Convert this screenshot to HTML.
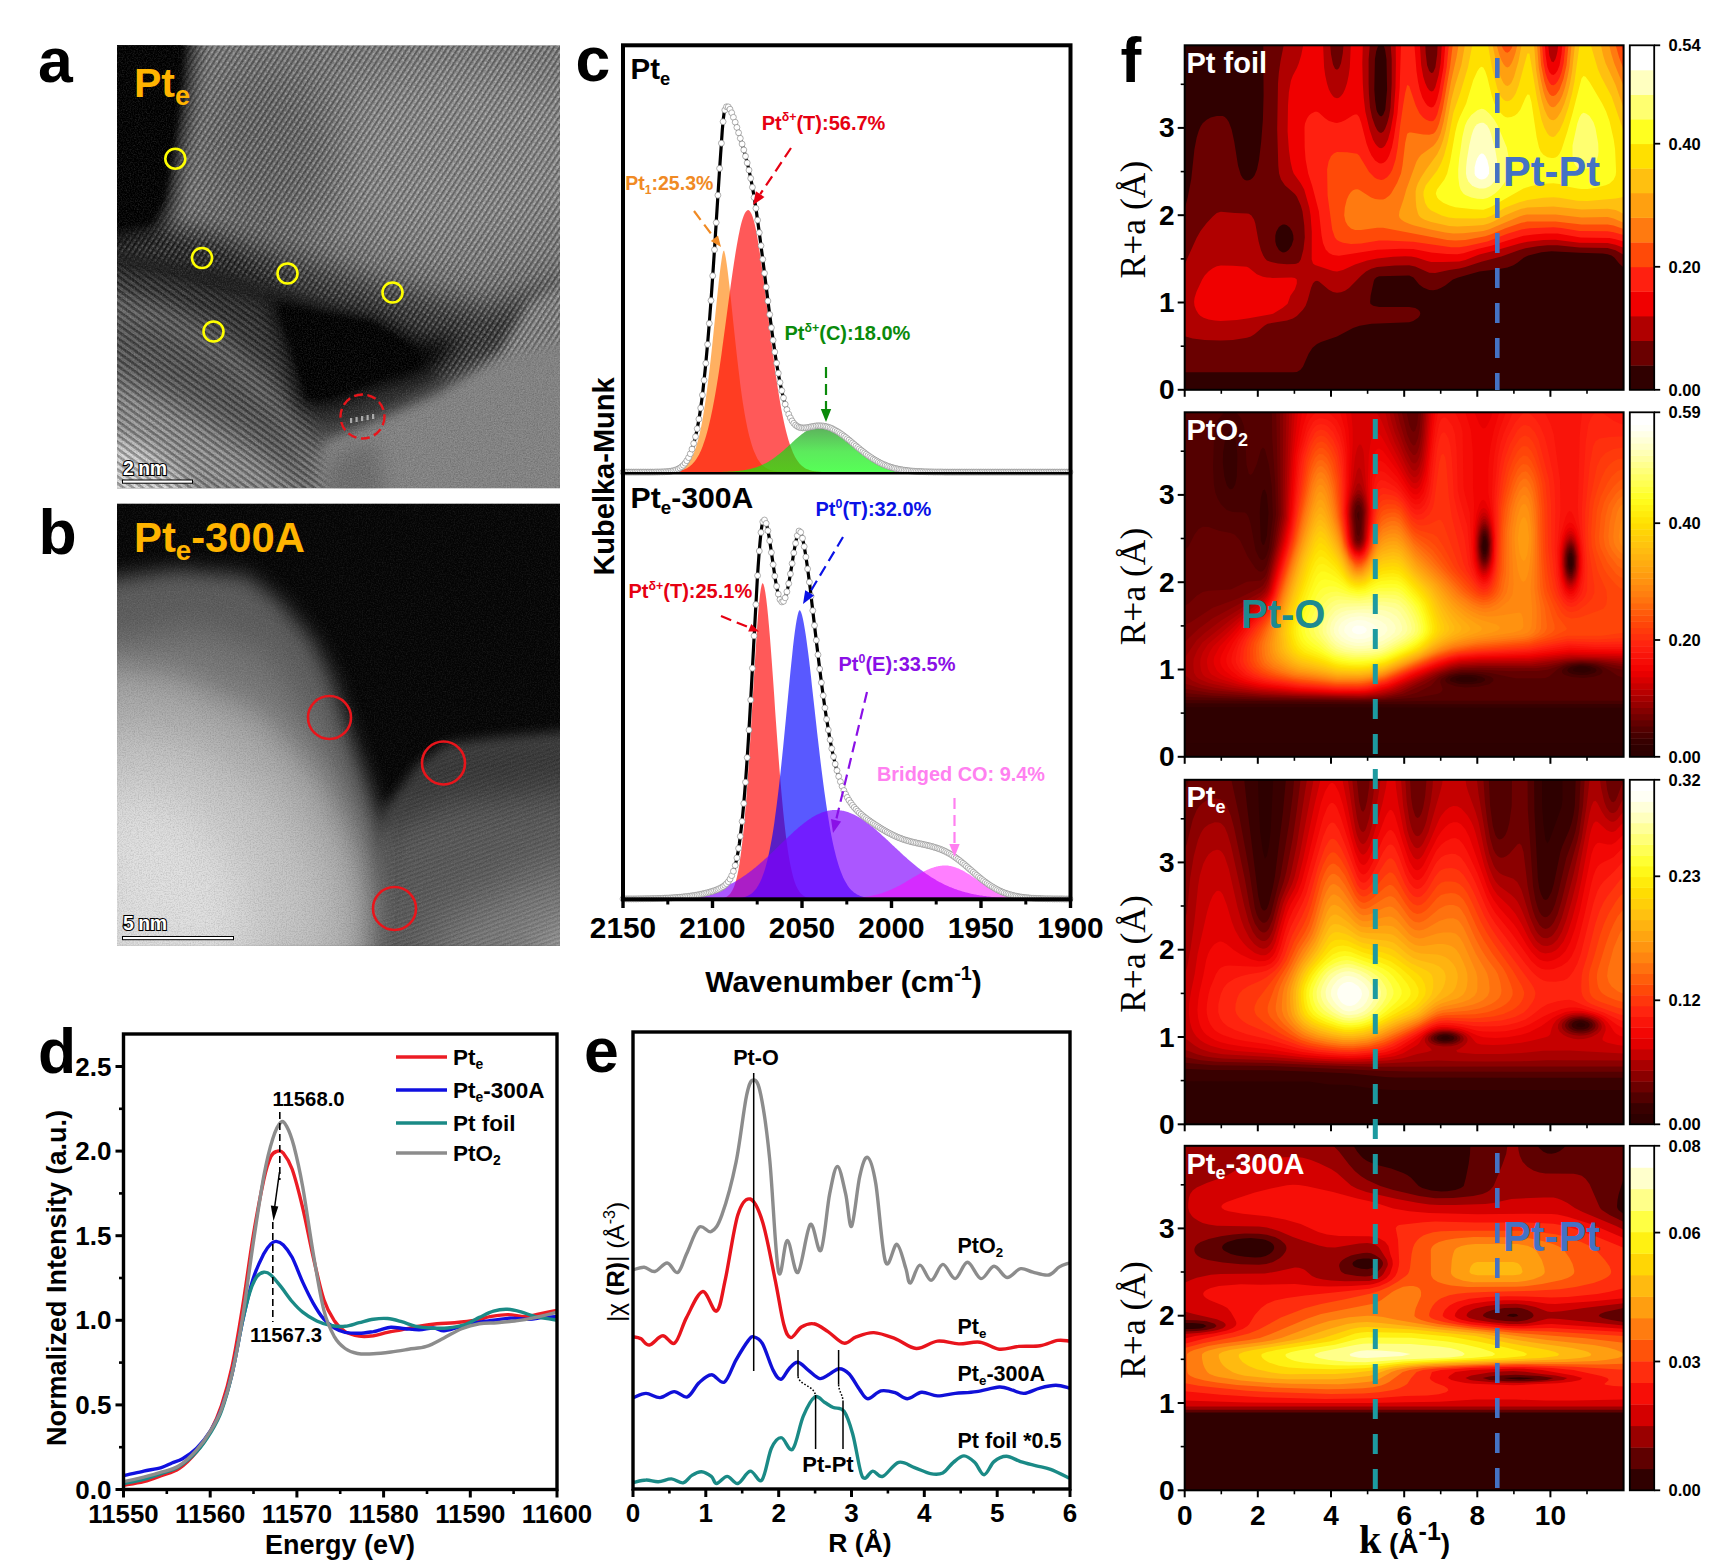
<!DOCTYPE html>
<html><head><meta charset="utf-8"><title>figure</title>
<style>html,body{margin:0;padding:0;background:#fff;}svg{display:block}</style></head>
<body><svg font-family="Liberation Sans, sans-serif" width="1709" height="1562" viewBox="0 0 1709 1562">
<rect width="1709" height="1562" fill="#fff"/>
<defs>
<filter id="b3" x="-20%" y="-20%" width="140%" height="140%"><feGaussianBlur stdDeviation="3"/></filter>
<filter id="b6" x="-20%" y="-20%" width="140%" height="140%"><feGaussianBlur stdDeviation="6"/></filter>
<filter id="b10" x="-30%" y="-30%" width="160%" height="160%"><feGaussianBlur stdDeviation="10"/></filter>
<filter id="b16" x="-40%" y="-40%" width="180%" height="180%"><feGaussianBlur stdDeviation="16"/></filter>
<filter id="b25" x="-50%" y="-50%" width="200%" height="200%"><feGaussianBlur stdDeviation="25"/></filter>
<filter id="noiseW" x="0" y="0" width="100%" height="100%"><feTurbulence type="fractalNoise" baseFrequency="0.75" numOctaves="2" seed="3"/><feColorMatrix type="matrix" values="0 0 0 0 1  0 0 0 0 1  0 0 0 0 1  1.6 0 0 0 -0.62"/></filter>
<filter id="noiseK" x="0" y="0" width="100%" height="100%"><feTurbulence type="fractalNoise" baseFrequency="0.75" numOctaves="2" seed="11"/><feColorMatrix type="matrix" values="0 0 0 0 0  0 0 0 0 0  0 0 0 0 0  1.6 0 0 0 -0.62"/></filter>
<pattern id="latA" width="4.7" height="4.7" patternUnits="userSpaceOnUse" patternTransform="rotate(-57)"><rect width="4.7" height="2.2" fill="#000" fill-opacity="0.26"/><rect y="2.2" width="4.7" height="2.5" fill="#fff" fill-opacity="0.10"/></pattern>
<pattern id="dotA" width="5.4" height="4.7" patternUnits="userSpaceOnUse" patternTransform="rotate(-57)"><circle cx="2.7" cy="3.45" r="1.2" fill="#fff" fill-opacity="0.22"/></pattern>
<pattern id="latA2" width="5.6" height="5.6" patternUnits="userSpaceOnUse" patternTransform="rotate(36)"><rect width="5.6" height="2.6" fill="#000" fill-opacity="0.30"/><rect y="2.6" width="5.6" height="3" fill="#fff" fill-opacity="0.10"/></pattern>
<pattern id="latB" width="4.2" height="4.2" patternUnits="userSpaceOnUse" patternTransform="rotate(-20)"><rect width="4.2" height="2" fill="#000" fill-opacity="0.12"/></pattern>
<mask id="mA1" maskUnits="userSpaceOnUse" x="0" y="0" width="443" height="443"><path d="M50 -20L470 -20L470 290L400 310L330 335L250 280L190 250L100 225L-10 205L40 150Z" fill="#fff" filter="url(#b6)"/></mask>
<mask id="mA2" maskUnits="userSpaceOnUse" x="0" y="0" width="443" height="443"><path d="M-20 215L80 240L150 262L185 330L200 385L210 470L-20 470Z" fill="#fff" filter="url(#b6)"/></mask>
<mask id="mB1" maskUnits="userSpaceOnUse" x="0" y="0" width="443" height="443"><path d="M275 310L305 268L335 248L470 238L470 470L255 470L265 380Z" fill="#fff" filter="url(#b6)"/></mask>
<clipPath id="clipA"><rect x="0" y="0" width="443" height="443"/></clipPath>
<clipPath id="clipB"><rect x="0" y="0" width="443" height="442.3"/></clipPath>
</defs>
<g transform="translate(117,45.2)"><g clip-path="url(#clipA)">
<rect width="443" height="443" fill="#7c7c7c"/>
<ellipse cx="340" cy="110" rx="150" ry="95" fill="#8e8e8e" filter="url(#b25)"/>
<ellipse cx="150" cy="110" rx="70" ry="90" fill="#666" filter="url(#b25)"/>
<path d="M-20 185L60 180L140 200L260 238L370 262L460 235L460 300L390 318L330 345L260 385L195 400L150 335L100 290L40 262L-20 250Z" fill="#2e2e2e" filter="url(#b16)"/>
<path d="M-20 190L50 190L110 205L160 235L160 265L100 250L40 232L-20 225Z" fill="#1a1a1a" filter="url(#b10)"/>
<path d="M-20 262L50 275L115 315L165 370L205 460L-20 460Z" fill="#555" filter="url(#b10)"/>
<path d="M-20 325L60 360L130 400L214 460L-20 460Z" fill="#9a9a9a" filter="url(#b16)"/>
<path d="M-20 385L40 410L85 460L-20 460Z" fill="#dcdcdc" filter="url(#b10)"/>
<path d="M196 460L208 398L255 378L322 350L382 308L412 256L460 228L460 460Z" fill="#858585" filter="url(#b6)"/>
<path d="M205 460L215 410L260 395L270 460Z" fill="#6e6e6e" filter="url(#b10)"/>
<rect width="443" height="443" fill="url(#latA)" mask="url(#mA1)"/>
<rect width="443" height="443" fill="url(#dotA)" mask="url(#mA1)"/>
<rect width="443" height="443" fill="url(#latA2)" mask="url(#mA2)"/>
<path d="M150 248L200 262L258 272L305 296L345 292L310 330L255 345L212 362L185 362L172 315Z" fill="#000" filter="url(#b10)"/>
<path d="M160 258L200 267L255 277L296 302L304 320L255 337L212 352L190 354L178 312Z" fill="#000" filter="url(#b3)"/>
<path d="M-20 -20L78 -20L70 60L62 110L54 160L40 188L-20 198Z" fill="#000" filter="url(#b10)"/>
<path d="M-20 -20L68 -20L62 60L55 110L47 155L34 178L-20 185Z" fill="#000" filter="url(#b3)"/>
<rect width="443" height="443" filter="url(#noiseW)" opacity="0.16"/>
<rect width="443" height="443" filter="url(#noiseK)" opacity="0.22"/>
</g></g>
<circle cx="175.3" cy="158.7" r="10" fill="none" stroke="#ffff00" stroke-width="2.6"/>
<circle cx="202" cy="258" r="10" fill="none" stroke="#ffff00" stroke-width="2.6"/>
<circle cx="287.5" cy="273.5" r="10" fill="none" stroke="#ffff00" stroke-width="2.6"/>
<circle cx="392.5" cy="292.5" r="10" fill="none" stroke="#ffff00" stroke-width="2.6"/>
<circle cx="213.5" cy="331.5" r="10" fill="none" stroke="#ffff00" stroke-width="2.6"/>
<circle cx="362.5" cy="416.5" r="22" fill="none" stroke="#e8151b" stroke-width="2.4" stroke-dasharray="9 4.5"/>
<rect x="350.0" y="418.0" width="2.2" height="5" fill="#ccc" opacity="0.75"/>
<rect x="355.5" y="417.0" width="2.2" height="5" fill="#ccc" opacity="0.75"/>
<rect x="361.0" y="416.0" width="2.2" height="5" fill="#ccc" opacity="0.75"/>
<rect x="366.5" y="415.0" width="2.2" height="5" fill="#ccc" opacity="0.75"/>
<rect x="372.0" y="414.0" width="2.2" height="5" fill="#ccc" opacity="0.75"/>
<text x="123" y="474.5" font-family="Liberation Sans" font-size="19.5" font-weight="bold" fill="#fff" text-anchor="start" stroke="#000" stroke-width="2.2" paint-order="stroke" letter-spacing="-0.5">2 nm</text>
<rect x="122.5" y="480" width="70" height="3.2" fill="#fff" stroke="#000" stroke-width="1"/>
<text x="134" y="96.5" font-family="Liberation Sans" font-size="41" font-weight="bold" fill="#ffb400" text-anchor="start" ><tspan font-size="41" dy="0">Pt</tspan><tspan font-size="27.1" dy="8.2">e</tspan></text>
<text x="38" y="82.1" font-family="Liberation Sans" font-size="62.5" font-weight="bold" fill="#000" text-anchor="start" >a</text>
<g transform="translate(117,503.4)"><g clip-path="url(#clipB)">
<rect width="443" height="443" fill="#050505"/>
<path d="M268 305L300 262L330 240L380 234L470 226L470 470L240 470L255 380Z" fill="#3c3c3c" filter="url(#b6)"/>
<path d="M262 330L330 300L470 285L470 470L240 470Z" fill="#5e5e5e" filter="url(#b16)"/>
<path d="M330 420L470 350L470 470L300 470Z" fill="#868686" filter="url(#b25)"/>
<path d="M400 470L470 400L470 470Z" fill="#a8a8a8" filter="url(#b16)"/>
<rect width="443" height="443" fill="url(#latB)" mask="url(#mB1)"/>
<path d="M-30 78L60 66L130 72L162 97L196 137L216 177L233 232L251 282L263 322L263 382L250 470L-30 470Z" fill="#5c5c5c" filter="url(#b10)"/>
<path d="M-30 140L80 125L150 150L195 210L225 280L245 340L245 470L-30 470Z" fill="#767676" filter="url(#b16)"/>
<path d="M-30 160L60 172L145 210L205 275L240 345L252 400L247 470L-30 470Z" fill="#a4a4a4" filter="url(#b16)"/>
<path d="M-30 215L80 232L165 290L212 370L222 470L-30 470Z" fill="#c6c6c6" filter="url(#b25)"/>
<path d="M-30 280L70 300L125 370L135 470L-30 470Z" fill="#e0e0e0" filter="url(#b25)"/>
<rect width="443" height="443" filter="url(#noiseW)" opacity="0.10"/>
<rect width="443" height="443" filter="url(#noiseK)" opacity="0.16"/>
</g></g>
<circle cx="329.5" cy="717.5" r="21.5" fill="none" stroke="#e8151b" stroke-width="2.6"/>
<circle cx="443.5" cy="763" r="21.5" fill="none" stroke="#e8151b" stroke-width="2.6"/>
<circle cx="394.5" cy="908.5" r="21.5" fill="none" stroke="#e8151b" stroke-width="2.6"/>
<text x="123" y="930" font-family="Liberation Sans" font-size="19.5" font-weight="bold" fill="#fff" text-anchor="start" stroke="#000" stroke-width="2.2" paint-order="stroke" letter-spacing="-0.5">5 nm</text>
<rect x="122.5" y="936.5" width="111" height="3.2" fill="#fff" stroke="#000" stroke-width="1"/>
<text x="134" y="551.8" font-family="Liberation Sans" font-size="41.8" font-weight="bold" fill="#ffb400" text-anchor="start" ><tspan font-size="41.8" dy="0">Pt</tspan><tspan font-size="27.6" dy="8.4">e</tspan><tspan font-size="41.8" dy="-8.4">-300A</tspan></text>
<text x="38.5" y="553.7" font-family="Liberation Sans" font-size="62.5" font-weight="bold" fill="#000" text-anchor="start" >b</text>
<defs><g id="dc"><circle r="2.95" fill="#fff" stroke="#858585" stroke-width="0.65"/></g><linearGradient id="gGreen" x1="0" y1="0" x2="0" y2="1" gradientUnits="objectBoundingBox"><stop offset="0" stop-color="#118811" stop-opacity="0.68"/><stop offset="0.55" stop-color="#10e010" stop-opacity="0.68"/><stop offset="1" stop-color="#00ff00" stop-opacity="0.66"/></linearGradient></defs>
<path d="M665.1 472.1L665.1 471.9L666 471.8L666.9 471.8L667.8 471.8L668.6 471.7L669.5 471.6L670.4 471.5L671.3 471.4L672.2 471.3L673.1 471.2L674 471.1L674.9 470.9L675.8 470.7L676.7 470.5L677.6 470.2L678.5 470L679.4 469.6L680.3 469.3L681.2 468.8L682.1 468.4L683 467.8L683.9 467.2L684.8 466.5L685.6 465.8L686.5 464.9L687.4 463.9L688.3 462.8L689.2 461.6L690.1 460.2L691 458.7L691.9 457.1L692.8 455.2L693.7 453.2L694.6 450.9L695.5 448.4L696.4 445.7L697.3 442.7L698.2 439.5L699.1 435.9L700 432.1L700.9 427.9L701.8 423.4L702.7 418.6L703.5 413.4L704.4 407.9L705.3 402L706.2 395.8L707.1 389.1L708 382.1L708.9 374.8L709.8 367.2L710.7 359.2L711.6 351L712.5 342.5L713.4 333.8L714.3 325L715.2 316.1L716.1 307.3L717 298.5L717.9 289.9L718.8 281.6L719.7 273.8L720.6 266.6L721.5 260.2L722.3 254.9L723.2 251.2L724.1 250.6L725 253.8L725.9 258.6L726.8 264.6L727.7 271.3L728.6 278.7L729.5 286.6L730.4 294.8L731.3 303.2L732.2 311.8L733.1 320.4L734 329L734.9 337.5L735.8 345.8L736.7 353.9L737.6 361.8L738.5 369.5L739.4 376.8L740.2 383.8L741.1 390.5L742 396.9L742.9 402.9L743.8 408.5L744.7 413.9L745.6 418.9L746.5 423.5L747.4 427.9L748.3 431.9L749.2 435.7L750.1 439.1L751 442.3L751.9 445.2L752.8 447.9L753.7 450.4L754.6 452.6L755.5 454.6L756.4 456.5L757.2 458.2L758.1 459.7L759 461.1L759.9 462.3L760.8 463.4L761.7 464.4L762.6 465.3L763.5 466.1L764.4 466.8L765.3 467.5L766.2 468L767.1 468.5L768 469L768.9 469.4L769.8 469.7L770.7 470L771.6 470.3L772.5 470.5L773.4 470.7L774.3 470.9L775.1 471.1L776 471.2L776.9 471.3L777.8 471.4L778.7 471.5L779.6 471.6L780.5 471.7L781.4 471.7L782.3 471.8L783.2 471.8L784.1 471.9L784.1 472.1Z" fill="#ff8000" fill-opacity="0.62"/>
<path d="M668.6 472.1L668.6 471.9L669.5 471.8L670.4 471.8L671.3 471.7L672.2 471.7L673.1 471.6L674 471.5L674.9 471.5L675.8 471.4L676.7 471.2L677.6 471.1L678.5 471L679.4 470.8L680.3 470.6L681.2 470.4L682.1 470.1L683 469.9L683.9 469.5L684.8 469.2L685.6 468.8L686.5 468.4L687.4 467.9L688.3 467.3L689.2 466.7L690.1 466.1L691 465.3L691.9 464.5L692.8 463.6L693.7 462.6L694.6 461.5L695.5 460.3L696.4 459L697.3 457.6L698.2 456.1L699.1 454.4L700 452.6L700.9 450.7L701.8 448.5L702.7 446.3L703.5 443.8L704.4 441.2L705.3 438.4L706.2 435.4L707.1 432.2L708 428.9L708.9 425.3L709.8 421.5L710.7 417.5L711.6 413.3L712.5 408.9L713.4 404.3L714.3 399.5L715.2 394.4L716.1 389.2L717 383.8L717.9 378.2L718.8 372.4L719.7 366.4L720.6 360.3L721.5 354L722.3 347.7L723.2 341.2L724.1 334.6L725 328L725.9 321.3L726.8 314.5L727.7 307.8L728.6 301.1L729.5 294.4L730.4 287.8L731.3 281.3L732.2 275L733.1 268.7L734 262.7L734.9 256.9L735.8 251.3L736.7 245.9L737.6 240.9L738.5 236.1L739.4 231.7L740.2 227.7L741.1 224L742 220.8L742.9 217.9L743.8 215.5L744.7 213.5L745.6 211.9L746.5 210.9L747.4 210.3L748.3 210.1L749.2 210.5L750.1 211.4L751 212.9L751.9 214.8L752.8 217.3L753.7 220.3L754.6 223.8L755.5 227.7L756.4 232L757.2 236.8L758.1 241.9L759 247.4L759.9 253.3L760.8 259.4L761.7 265.7L762.6 272.3L763.5 279.1L764.4 286L765.3 293.1L766.2 300.2L767.1 307.4L768 314.6L768.9 321.8L769.8 329L770.7 336.1L771.6 343.2L772.5 350.1L773.4 356.9L774.3 363.5L775.1 370L776 376.3L776.9 382.3L777.8 388.2L778.7 393.8L779.6 399.3L780.5 404.4L781.4 409.4L782.3 414.1L783.2 418.5L784.1 422.8L785 426.7L785.9 430.5L786.8 434L787.7 437.3L788.6 440.4L789.5 443.2L790.4 445.9L791.3 448.3L792.2 450.6L793 452.7L793.9 454.6L794.8 456.4L795.7 458L796.6 459.5L797.5 460.8L798.4 462.1L799.3 463.2L800.2 464.2L801.1 465.1L802 465.9L802.9 466.6L803.8 467.3L804.7 467.9L805.6 468.4L806.5 468.9L807.4 469.3L808.3 469.6L809.2 470L810.1 470.2L811 470.5L811.8 470.7L812.7 470.9L813.6 471.1L814.5 471.2L815.4 471.3L816.3 471.4L817.2 471.5L818.1 471.6L819 471.7L819.9 471.8L820.8 471.8L821.7 471.9L822.6 471.9L822.6 472.1Z" fill="#ff0000" fill-opacity="0.65"/>
<path d="M720.6 472.1L720.6 471.9L721.5 471.9L722.3 471.9L723.2 471.8L724.1 471.8L725 471.8L725.9 471.7L726.8 471.7L727.7 471.7L728.6 471.6L729.5 471.6L730.4 471.5L731.3 471.5L732.2 471.4L733.1 471.4L734 471.3L734.9 471.2L735.8 471.2L736.7 471.1L737.6 471L738.5 470.9L739.4 470.8L740.2 470.7L741.1 470.6L742 470.5L742.9 470.4L743.8 470.2L744.7 470.1L745.6 469.9L746.5 469.8L747.4 469.6L748.3 469.4L749.2 469.2L750.1 469L751 468.8L751.9 468.6L752.8 468.3L753.7 468.1L754.6 467.8L755.5 467.5L756.4 467.2L757.2 466.9L758.1 466.6L759 466.2L759.9 465.9L760.8 465.5L761.7 465.1L762.6 464.7L763.5 464.3L764.4 463.8L765.3 463.4L766.2 462.9L767.1 462.4L768 461.9L768.9 461.4L769.8 460.8L770.7 460.3L771.6 459.7L772.5 459.1L773.4 458.5L774.3 457.8L775.1 457.2L776 456.5L776.9 455.8L777.8 455.1L778.7 454.4L779.6 453.7L780.5 452.9L781.4 452.2L782.3 451.4L783.2 450.7L784.1 449.9L785 449.1L785.9 448.3L786.8 447.5L787.7 446.7L788.6 445.8L789.5 445L790.4 444.2L791.3 443.4L792.2 442.6L793 441.7L793.9 440.9L794.8 440.1L795.7 439.3L796.6 438.5L797.5 437.8L798.4 437L799.3 436.2L800.2 435.5L801.1 434.8L802 434.1L802.9 433.4L803.8 432.7L804.7 432.1L805.6 431.5L806.5 430.9L807.4 430.4L808.3 429.8L809.2 429.3L810.1 428.9L811 428.4L811.8 428L812.7 427.7L813.6 427.4L814.5 427.1L815.4 426.8L816.3 426.6L817.2 426.4L818.1 426.3L819 426.2L819.9 426.1L820.8 426.1L821.7 426.1L822.6 426.2L823.5 426.3L824.4 426.4L825.3 426.5L826.2 426.7L827.1 426.9L828 427.2L828.9 427.4L829.7 427.7L830.6 428.1L831.5 428.5L832.4 428.9L833.3 429.3L834.2 429.7L835.1 430.2L836 430.7L836.9 431.2L837.8 431.8L838.7 432.4L839.6 432.9L840.5 433.6L841.4 434.2L842.3 434.8L843.2 435.5L844.1 436.2L845 436.9L845.9 437.6L846.8 438.3L847.6 439L848.5 439.7L849.4 440.5L850.3 441.2L851.2 441.9L852.1 442.7L853 443.4L853.9 444.2L854.8 445L855.7 445.7L856.6 446.5L857.5 447.2L858.4 447.9L859.3 448.7L860.2 449.4L861.1 450.1L862 450.9L862.9 451.6L863.8 452.3L864.6 453L865.5 453.6L866.4 454.3L867.3 455L868.2 455.6L869.1 456.2L870 456.9L870.9 457.5L871.8 458.1L872.7 458.6L873.6 459.2L874.5 459.7L875.4 460.3L876.3 460.8L877.2 461.3L878.1 461.8L879 462.3L879.9 462.7L880.8 463.2L881.7 463.6L882.5 464L883.4 464.4L884.3 464.8L885.2 465.2L886.1 465.5L887 465.9L887.9 466.2L888.8 466.5L889.7 466.8L890.6 467.1L891.5 467.4L892.4 467.7L893.3 467.9L894.2 468.2L895.1 468.4L896 468.6L896.9 468.8L897.8 469L898.7 469.2L899.6 469.4L900.5 469.6L901.3 469.7L902.2 469.9L903.1 470L904 470.1L904.9 470.3L905.8 470.4L906.7 470.5L907.6 470.6L908.5 470.7L909.4 470.8L910.3 470.9L911.2 471L912.1 471.1L913 471.1L913.9 471.2L914.8 471.3L915.7 471.3L916.6 471.4L917.5 471.5L918.4 471.5L919.2 471.5L920.1 471.6L921 471.6L921.9 471.7L922.8 471.7L923.7 471.7L924.6 471.8L925.5 471.8L926.4 471.8L927.3 471.8L928.2 471.9L929.1 471.9L930 471.9L930 472.1Z" fill="url(#gGreen)"/>
<path d="M623 472.1L623.9 472.1L624.8 472.1L625.7 472.1L626.6 472.1L627.5 472.1L628.4 472.1L629.3 472.1L630.2 472.1L631.1 472.1L632 472.1L632.8 472.1L633.7 472.1L634.6 472.1L635.5 472.1L636.4 472.1L637.3 472.1L638.2 472.1L639.1 472.1L640 472.1L640.9 472.1L641.8 472.1L642.7 472.1L643.6 472.1L644.5 472.1L645.4 472.1L646.3 472.1L647.2 472.1L648.1 472.1L649 472.1L649.9 472.1L650.7 472.1L651.6 472.1L652.5 472.1L653.4 472.1L654.3 472.1L655.2 472.1L656.1 472L657 472L657.9 472L658.8 472L659.7 472L660.6 472L661.5 471.9L662.4 471.9L663.3 471.9L664.2 471.8L665.1 471.8L666 471.7L666.9 471.6L667.8 471.6L668.6 471.5L669.5 471.4L670.4 471.2L671.3 471.1L672.2 470.9L673.1 470.7L674 470.5L674.9 470.3L675.8 470L676.7 469.6L677.6 469.3L678.5 468.8L679.4 468.3L680.3 467.8L681.2 467.1L682.1 466.4L683 465.6L683.9 464.7L684.8 463.6L685.6 462.5L686.5 461.1L687.4 459.7L688.3 458L689.2 456.2L690.1 454.2L691 451.9L691.9 449.5L692.8 446.7L693.7 443.7L694.6 440.3L695.5 436.6L696.4 432.6L697.3 428.2L698.2 423.4L699.1 418.2L700 412.6L700.9 406.5L701.8 399.9L702.7 392.8L703.5 385.1L704.4 377L705.3 368.3L706.2 359L707.1 349.2L708 338.9L708.9 328L709.8 316.5L710.7 304.5L711.6 292.1L712.5 279.2L713.4 265.9L714.3 252.3L715.2 238.3L716.1 224.2L717 210L717.9 195.8L718.8 181.7L719.7 167.9L720.6 154.6L721.5 141.9L722.3 130.2L723.2 120L724.1 112.9L725 109.4L725.9 107.4L726.8 106.6L727.7 106.6L728.6 107.2L729.5 108.4L730.4 109.9L731.3 111.8L732.2 114L733.1 116.3L734 118.8L734.9 121.4L735.8 124L736.7 126.8L737.6 129.5L738.5 132.3L739.4 135.2L740.2 138L741.1 140.9L742 143.9L742.9 146.9L743.8 150L744.7 153.2L745.6 156.5L746.5 160L747.4 163.5L748.3 167.2L749.2 171.2L750.1 175.3L751 179.7L751.9 184.4L752.8 189.3L753.7 194.5L754.6 199.9L755.5 205.6L756.4 211.5L757.2 217.7L758.1 224L759 230.5L759.9 237.2L760.8 244.1L761.7 251.1L762.6 258.1L763.5 265.3L764.4 272.5L765.3 279.7L766.2 286.9L767.1 294.1L768 301.3L768.9 308.4L769.8 315.4L770.7 322.2L771.6 328.9L772.5 335.5L773.4 341.9L774.3 348L775.1 354L776 359.8L776.9 365.3L777.8 370.6L778.7 375.6L779.6 380.3L780.5 384.9L781.4 389.1L782.3 393.1L783.2 396.8L784.1 400.3L785 403.5L785.9 406.5L786.8 409.2L787.7 411.7L788.6 414L789.5 416L790.4 417.9L791.3 419.6L792.2 421L793 422.3L793.9 423.4L794.8 424.4L795.7 425.2L796.6 425.9L797.5 426.5L798.4 427L799.3 427.3L800.2 427.6L801.1 427.8L802 427.9L802.9 427.9L803.8 427.9L804.7 427.9L805.6 427.8L806.5 427.7L807.4 427.5L808.3 427.4L809.2 427.2L810.1 427L811 426.8L811.8 426.7L812.7 426.5L813.6 426.3L814.5 426.2L815.4 426L816.3 425.9L817.2 425.9L818.1 425.8L819 425.8L819.9 425.8L820.8 425.8L821.7 425.9L822.6 426L823.5 426.1L824.4 426.2L825.3 426.4L826.2 426.6L827.1 426.8L828 427.1L828.9 427.4L829.7 427.7L830.6 428L831.5 428.4L832.4 428.8L833.3 429.3L834.2 429.7L835.1 430.2L836 430.7L836.9 431.2L837.8 431.8L838.7 432.3L839.6 432.9L840.5 433.5L841.4 434.2L842.3 434.8L843.2 435.5L844.1 436.2L845 436.9L845.9 437.6L846.8 438.3L847.6 439L848.5 439.7L849.4 440.5L850.3 441.2L851.2 441.9L852.1 442.7L853 443.4L853.9 444.2L854.8 445L855.7 445.7L856.6 446.5L857.5 447.2L858.4 447.9L859.3 448.7L860.2 449.4L861.1 450.1L862 450.9L862.9 451.6L863.8 452.3L864.6 453L865.5 453.6L866.4 454.3L867.3 455L868.2 455.6L869.1 456.2L870 456.9L870.9 457.5L871.8 458.1L872.7 458.6L873.6 459.2L874.5 459.7L875.4 460.3L876.3 460.8L877.2 461.3L878.1 461.8L879 462.3L879.9 462.7L880.8 463.2L881.7 463.6L882.5 464L883.4 464.4L884.3 464.8L885.2 465.2L886.1 465.5L887 465.9L887.9 466.2L888.8 466.5L889.7 466.8L890.6 467.1L891.5 467.4L892.4 467.7L893.3 467.9L894.2 468.2L895.1 468.4L896 468.6L896.9 468.8L897.8 469L898.7 469.2L899.6 469.4L900.5 469.6L901.3 469.7L902.2 469.9L903.1 470L904 470.1L904.9 470.3L905.8 470.4L906.7 470.5L907.6 470.6L908.5 470.7L909.4 470.8L910.3 470.9L911.2 471L912.1 471.1L913 471.1L913.9 471.2L914.8 471.3L915.7 471.3L916.6 471.4L917.5 471.5L918.4 471.5L919.2 471.5L920.1 471.6L921 471.6L921.9 471.7L922.8 471.7L923.7 471.7L924.6 471.8L925.5 471.8L926.4 471.8L927.3 471.8L928.2 471.9L929.1 471.9L930 471.9L930.9 471.9L931.8 471.9L932.7 471.9L933.6 472L934.5 472L935.4 472L936.2 472L937.1 472L938 472L938.9 472L939.8 472L940.7 472L941.6 472L942.5 472L943.4 472.1L944.3 472.1L945.2 472.1L946.1 472.1L947 472.1L947.9 472.1L948.8 472.1L949.7 472.1L950.6 472.1L951.5 472.1L952.4 472.1L953.3 472.1L954.2 472.1L955 472.1L955.9 472.1L956.8 472.1L957.7 472.1L958.6 472.1L959.5 472.1L960.4 472.1L961.3 472.1L962.2 472.1L963.1 472.1L964 472.1L964.9 472.1L965.8 472.1L966.7 472.1L967.6 472.1L968.5 472.1L969.4 472.1L970.3 472.1L971.2 472.1L972 472.1L972.9 472.1L973.8 472.1L974.7 472.1L975.6 472.1L976.5 472.1L977.4 472.1L978.3 472.1L979.2 472.1L980.1 472.1L981 472.1L981.9 472.1L982.8 472.1L983.7 472.1L984.6 472.1L985.5 472.1L986.4 472.1L987.3 472.1L988.2 472.1L989.1 472.1L990 472.1L990.8 472.1L991.7 472.1L992.6 472.1L993.5 472.1L994.4 472.1L995.3 472.1L996.2 472.1L997.1 472.1L998 472.1L998.9 472.1L999.8 472.1L1000.7 472.1L1001.6 472.1L1002.5 472.1L1003.4 472.1L1004.3 472.1L1005.2 472.1L1006.1 472.1L1007 472.1L1007.9 472.1L1008.7 472.1L1009.6 472.1L1010.5 472.1L1011.4 472.1L1012.3 472.1L1013.2 472.1L1014.1 472.1L1015 472.1L1015.9 472.1L1016.8 472.1L1017.7 472.1L1018.6 472.1L1019.5 472.1L1020.4 472.1L1021.3 472.1L1022.2 472.1L1023.1 472.1L1024 472.1L1024.9 472.1L1025.8 472.1L1026.6 472.1L1027.5 472.1L1028.4 472.1L1029.3 472.1L1030.2 472.1L1031.1 472.1L1032 472.1L1032.9 472.1L1033.8 472.1L1034.7 472.1L1035.6 472.1L1036.5 472.1L1037.4 472.1L1038.3 472.1L1039.2 472.1L1040.1 472.1L1041 472.1L1041.9 472.1L1042.8 472.1L1043.7 472.1L1044.5 472.1L1045.4 472.1L1046.3 472.1L1047.2 472.1L1048.1 472.1L1049 472.1L1049.9 472.1L1050.8 472.1L1051.7 472.1L1052.6 472.1L1053.5 472.1L1054.4 472.1L1055.3 472.1L1056.2 472.1L1057.1 472.1L1058 472.1L1058.9 472.1L1059.8 472.1L1060.7 472.1L1061.5 472.1L1062.4 472.1L1063.3 472.1L1064.2 472.1L1065.1 472.1L1066 472.1L1066.9 472.1L1067.8 472.1L1068.7 472.1L1069.6 472.1L1070.5 472.1" fill="none" stroke="#000" stroke-width="3.2"/>
<use href="#dc" x="623" y="472.1"/><use href="#dc" x="624.7" y="472.1"/><use href="#dc" x="626.5" y="472.1"/><use href="#dc" x="628.2" y="472.1"/><use href="#dc" x="629.9" y="472.1"/><use href="#dc" x="631.6" y="472.1"/><use href="#dc" x="633.4" y="472.1"/><use href="#dc" x="635.1" y="472.1"/><use href="#dc" x="636.8" y="472.1"/><use href="#dc" x="638.5" y="472.1"/><use href="#dc" x="640.3" y="472.1"/><use href="#dc" x="642" y="472.1"/><use href="#dc" x="643.7" y="472.1"/><use href="#dc" x="645.4" y="472.1"/><use href="#dc" x="647.2" y="472.1"/><use href="#dc" x="648.9" y="472.1"/><use href="#dc" x="650.6" y="472.1"/><use href="#dc" x="652.3" y="472.1"/><use href="#dc" x="654.1" y="472.1"/><use href="#dc" x="655.8" y="472"/><use href="#dc" x="657.5" y="472"/><use href="#dc" x="659.2" y="472"/><use href="#dc" x="661" y="471.9"/><use href="#dc" x="662.7" y="471.9"/><use href="#dc" x="664.4" y="471.8"/><use href="#dc" x="666.1" y="471.7"/><use href="#dc" x="667.9" y="471.6"/><use href="#dc" x="669.6" y="471.4"/><use href="#dc" x="671.3" y="471.1"/><use href="#dc" x="673" y="470.8"/><use href="#dc" x="674.8" y="470.3"/><use href="#dc" x="676.5" y="469.7"/><use href="#dc" x="678.2" y="469"/><use href="#dc" x="679.9" y="468"/><use href="#dc" x="681.7" y="466.7"/><use href="#dc" x="683.4" y="465.2"/><use href="#dc" x="685.1" y="463.2"/><use href="#dc" x="686.8" y="460.7"/><use href="#dc" x="688.6" y="457.6"/><use href="#dc" x="690.3" y="453.8"/><use href="#dc" x="692" y="449.1"/><use href="#dc" x="693.7" y="443.5"/><use href="#dc" x="695.5" y="436.7"/><use href="#dc" x="697.2" y="428.7"/><use href="#dc" x="698.9" y="419.1"/><use href="#dc" x="700.7" y="408"/><use href="#dc" x="702.4" y="395"/><use href="#dc" x="704.1" y="380.2"/><use href="#dc" x="705.8" y="363.3"/><use href="#dc" x="707.6" y="344.4"/><use href="#dc" x="709.3" y="323.4"/><use href="#dc" x="711" y="300.5"/><use href="#dc" x="712.7" y="275.8"/><use href="#dc" x="714.5" y="249.7"/><use href="#dc" x="716.2" y="222.6"/><use href="#dc" x="717.9" y="195.2"/><use href="#dc" x="719.6" y="168.4"/><use href="#dc" x="721.4" y="143.2"/><use href="#dc" x="723.1" y="121.7"/><use href="#dc" x="724.8" y="110.1"/><use href="#dc" x="726.5" y="106.8"/><use href="#dc" x="728.3" y="106.9"/><use href="#dc" x="730" y="109.2"/><use href="#dc" x="731.7" y="112.8"/><use href="#dc" x="733.4" y="117.3"/><use href="#dc" x="735.2" y="122.2"/><use href="#dc" x="736.9" y="127.4"/><use href="#dc" x="738.6" y="132.8"/><use href="#dc" x="740.3" y="138.3"/><use href="#dc" x="742.1" y="144"/><use href="#dc" x="743.8" y="149.9"/><use href="#dc" x="745.5" y="156.2"/><use href="#dc" x="747.2" y="162.9"/><use href="#dc" x="749" y="170.1"/><use href="#dc" x="750.7" y="178.3"/><use href="#dc" x="752.4" y="187.3"/><use href="#dc" x="754.1" y="197.4"/><use href="#dc" x="755.9" y="208.3"/><use href="#dc" x="757.6" y="220.1"/><use href="#dc" x="759.3" y="232.6"/><use href="#dc" x="761" y="245.7"/><use href="#dc" x="762.8" y="259.3"/><use href="#dc" x="764.5" y="273.2"/><use href="#dc" x="766.2" y="287.1"/><use href="#dc" x="767.9" y="301"/><use href="#dc" x="769.7" y="314.5"/><use href="#dc" x="771.4" y="327.7"/><use href="#dc" x="773.1" y="340.2"/><use href="#dc" x="774.8" y="352"/><use href="#dc" x="776.6" y="363.1"/><use href="#dc" x="778.3" y="373.2"/><use href="#dc" x="780" y="382.4"/><use href="#dc" x="781.8" y="390.6"/><use href="#dc" x="783.5" y="397.9"/><use href="#dc" x="785.2" y="404.2"/><use href="#dc" x="786.9" y="409.6"/><use href="#dc" x="788.7" y="414.2"/><use href="#dc" x="790.4" y="417.9"/><use href="#dc" x="792.1" y="420.9"/><use href="#dc" x="793.8" y="423.3"/><use href="#dc" x="795.6" y="425.1"/><use href="#dc" x="797.3" y="426.3"/><use href="#dc" x="799" y="427.2"/><use href="#dc" x="800.7" y="427.7"/><use href="#dc" x="802.5" y="427.9"/><use href="#dc" x="804.2" y="427.9"/><use href="#dc" x="805.9" y="427.8"/><use href="#dc" x="807.6" y="427.5"/><use href="#dc" x="809.4" y="427.2"/><use href="#dc" x="811.1" y="426.8"/><use href="#dc" x="812.8" y="426.5"/><use href="#dc" x="814.5" y="426.2"/><use href="#dc" x="816.3" y="425.9"/><use href="#dc" x="818" y="425.8"/><use href="#dc" x="819.7" y="425.8"/><use href="#dc" x="821.4" y="425.9"/><use href="#dc" x="823.2" y="426"/><use href="#dc" x="824.9" y="426.3"/><use href="#dc" x="826.6" y="426.7"/><use href="#dc" x="828.3" y="427.2"/><use href="#dc" x="830.1" y="427.8"/><use href="#dc" x="831.8" y="428.5"/><use href="#dc" x="833.5" y="429.4"/><use href="#dc" x="835.2" y="430.3"/><use href="#dc" x="837" y="431.3"/><use href="#dc" x="838.7" y="432.3"/><use href="#dc" x="840.4" y="433.5"/><use href="#dc" x="842.1" y="434.7"/><use href="#dc" x="843.9" y="436"/><use href="#dc" x="845.6" y="437.3"/><use href="#dc" x="847.3" y="438.7"/><use href="#dc" x="849" y="440.1"/><use href="#dc" x="850.8" y="441.6"/><use href="#dc" x="852.5" y="443"/><use href="#dc" x="854.2" y="444.5"/><use href="#dc" x="856" y="445.9"/><use href="#dc" x="857.7" y="447.4"/><use href="#dc" x="859.4" y="448.8"/><use href="#dc" x="861.1" y="450.2"/><use href="#dc" x="862.9" y="451.6"/><use href="#dc" x="864.6" y="452.9"/><use href="#dc" x="866.3" y="454.2"/><use href="#dc" x="868" y="455.5"/><use href="#dc" x="869.8" y="456.7"/><use href="#dc" x="871.5" y="457.8"/><use href="#dc" x="873.2" y="459"/><use href="#dc" x="874.9" y="460"/><use href="#dc" x="876.7" y="461"/><use href="#dc" x="878.4" y="462"/><use href="#dc" x="880.1" y="462.9"/><use href="#dc" x="881.8" y="463.7"/><use href="#dc" x="883.6" y="464.5"/><use href="#dc" x="885.3" y="465.2"/><use href="#dc" x="887" y="465.9"/><use href="#dc" x="888.7" y="466.5"/><use href="#dc" x="890.5" y="467.1"/><use href="#dc" x="892.2" y="467.6"/><use href="#dc" x="893.9" y="468.1"/><use href="#dc" x="895.6" y="468.5"/><use href="#dc" x="897.4" y="468.9"/><use href="#dc" x="899.1" y="469.3"/><use href="#dc" x="900.8" y="469.6"/><use href="#dc" x="902.5" y="469.9"/><use href="#dc" x="904.3" y="470.2"/><use href="#dc" x="906" y="470.4"/><use href="#dc" x="907.7" y="470.6"/><use href="#dc" x="909.4" y="470.8"/><use href="#dc" x="911.2" y="471"/><use href="#dc" x="912.9" y="471.1"/><use href="#dc" x="914.6" y="471.3"/><use href="#dc" x="916.3" y="471.4"/><use href="#dc" x="918.1" y="471.5"/><use href="#dc" x="919.8" y="471.6"/><use href="#dc" x="921.5" y="471.6"/><use href="#dc" x="923.2" y="471.7"/><use href="#dc" x="925" y="471.8"/><use href="#dc" x="926.7" y="471.8"/><use href="#dc" x="928.4" y="471.9"/><use href="#dc" x="930.1" y="471.9"/><use href="#dc" x="931.9" y="471.9"/><use href="#dc" x="933.6" y="472"/><use href="#dc" x="935.3" y="472"/><use href="#dc" x="937.1" y="472"/><use href="#dc" x="938.8" y="472"/><use href="#dc" x="940.5" y="472"/><use href="#dc" x="942.2" y="472"/><use href="#dc" x="944" y="472.1"/><use href="#dc" x="945.7" y="472.1"/><use href="#dc" x="947.4" y="472.1"/><use href="#dc" x="949.1" y="472.1"/><use href="#dc" x="950.9" y="472.1"/><use href="#dc" x="952.6" y="472.1"/><use href="#dc" x="954.3" y="472.1"/><use href="#dc" x="956" y="472.1"/><use href="#dc" x="957.8" y="472.1"/><use href="#dc" x="959.5" y="472.1"/><use href="#dc" x="961.2" y="472.1"/><use href="#dc" x="962.9" y="472.1"/><use href="#dc" x="964.7" y="472.1"/><use href="#dc" x="966.4" y="472.1"/><use href="#dc" x="968.1" y="472.1"/><use href="#dc" x="969.8" y="472.1"/><use href="#dc" x="971.6" y="472.1"/><use href="#dc" x="973.3" y="472.1"/><use href="#dc" x="975" y="472.1"/><use href="#dc" x="976.7" y="472.1"/><use href="#dc" x="978.5" y="472.1"/><use href="#dc" x="980.2" y="472.1"/><use href="#dc" x="981.9" y="472.1"/><use href="#dc" x="983.6" y="472.1"/><use href="#dc" x="985.4" y="472.1"/><use href="#dc" x="987.1" y="472.1"/><use href="#dc" x="988.8" y="472.1"/><use href="#dc" x="990.5" y="472.1"/><use href="#dc" x="992.3" y="472.1"/><use href="#dc" x="994" y="472.1"/><use href="#dc" x="995.7" y="472.1"/><use href="#dc" x="997.4" y="472.1"/><use href="#dc" x="999.2" y="472.1"/><use href="#dc" x="1000.9" y="472.1"/><use href="#dc" x="1002.6" y="472.1"/><use href="#dc" x="1004.3" y="472.1"/><use href="#dc" x="1006.1" y="472.1"/><use href="#dc" x="1007.8" y="472.1"/><use href="#dc" x="1009.5" y="472.1"/><use href="#dc" x="1011.3" y="472.1"/><use href="#dc" x="1013" y="472.1"/><use href="#dc" x="1014.7" y="472.1"/><use href="#dc" x="1016.4" y="472.1"/><use href="#dc" x="1018.2" y="472.1"/><use href="#dc" x="1019.9" y="472.1"/><use href="#dc" x="1021.6" y="472.1"/><use href="#dc" x="1023.3" y="472.1"/><use href="#dc" x="1025.1" y="472.1"/><use href="#dc" x="1026.8" y="472.1"/><use href="#dc" x="1028.5" y="472.1"/><use href="#dc" x="1030.2" y="472.1"/><use href="#dc" x="1032" y="472.1"/><use href="#dc" x="1033.7" y="472.1"/><use href="#dc" x="1035.4" y="472.1"/><use href="#dc" x="1037.1" y="472.1"/><use href="#dc" x="1038.9" y="472.1"/><use href="#dc" x="1040.6" y="472.1"/><use href="#dc" x="1042.3" y="472.1"/><use href="#dc" x="1044" y="472.1"/><use href="#dc" x="1045.8" y="472.1"/><use href="#dc" x="1047.5" y="472.1"/><use href="#dc" x="1049.2" y="472.1"/><use href="#dc" x="1050.9" y="472.1"/><use href="#dc" x="1052.7" y="472.1"/><use href="#dc" x="1054.4" y="472.1"/><use href="#dc" x="1056.1" y="472.1"/><use href="#dc" x="1057.8" y="472.1"/><use href="#dc" x="1059.6" y="472.1"/><use href="#dc" x="1061.3" y="472.1"/><use href="#dc" x="1063" y="472.1"/><use href="#dc" x="1064.7" y="472.1"/><use href="#dc" x="1066.5" y="472.1"/><use href="#dc" x="1068.2" y="472.1"/><use href="#dc" x="1069.9" y="472.1"/>
<path d="M718.8 899L718.8 898.7L719.7 898.7L720.6 898.6L721.5 898.4L722.3 898.3L723.2 898.1L724.1 897.8L725 897.5L725.9 897.1L726.8 896.7L727.7 896.1L728.6 895.3L729.5 894.5L730.4 893.4L731.3 892.1L732.2 890.6L733.1 888.8L734 886.7L734.9 884.2L735.8 881.3L736.7 877.9L737.6 873.9L738.5 869.4L739.4 864.3L740.2 858.5L741.1 852L742 844.7L742.9 836.6L743.8 827.7L744.7 817.9L745.6 807.3L746.5 795.8L747.4 783.5L748.3 770.5L749.2 756.8L750.1 742.6L751 727.8L751.9 712.7L752.8 697.5L753.7 682.3L754.6 667.3L755.5 652.8L756.4 639L757.2 626.1L758.1 614.4L759 604.1L759.9 595.6L760.8 589L761.7 584.7L762.6 583L763.5 584.2L764.4 587.4L765.3 592.2L766.2 598.6L767.1 606.2L768 615L768.9 624.9L769.8 635.6L770.7 647L771.6 659L772.5 671.4L773.4 684L774.3 696.9L775.1 709.7L776 722.5L776.9 735L777.8 747.3L778.7 759.2L779.6 770.7L780.5 781.7L781.4 792.2L782.3 802.1L783.2 811.5L784.1 820.2L785 828.3L785.9 835.9L786.8 842.8L787.7 849.2L788.6 855L789.5 860.3L790.4 865L791.3 869.3L792.2 873.1L793 876.6L793.9 879.6L794.8 882.3L795.7 884.7L796.6 886.7L797.5 888.6L798.4 890.1L799.3 891.5L800.2 892.7L801.1 893.7L802 894.5L802.9 895.3L803.8 895.9L804.7 896.4L805.6 896.9L806.5 897.3L807.4 897.6L808.3 897.8L809.2 898L810.1 898.2L811 898.4L811.8 898.5L812.7 898.6L813.6 898.7L814.5 898.7L815.4 898.8L815.4 899Z" fill="#ff0000" fill-opacity="0.65"/>
<path d="M731.3 899L731.3 898.8L732.2 898.7L733.1 898.7L734 898.6L734.9 898.6L735.8 898.5L736.7 898.4L737.6 898.4L738.5 898.2L739.4 898.1L740.2 898L741.1 897.8L742 897.7L742.9 897.5L743.8 897.2L744.7 897L745.6 896.7L746.5 896.3L747.4 895.9L748.3 895.5L749.2 895L750.1 894.5L751 893.9L751.9 893.2L752.8 892.4L753.7 891.6L754.6 890.6L755.5 889.6L756.4 888.4L757.2 887.1L758.1 885.7L759 884.1L759.9 882.4L760.8 880.5L761.7 878.4L762.6 876.1L763.5 873.6L764.4 870.9L765.3 867.9L766.2 864.7L767.1 861.3L768 857.6L768.9 853.6L769.8 849.3L770.7 844.6L771.6 839.7L772.5 834.5L773.4 828.9L774.3 823L775.1 816.7L776 810.2L776.9 803.2L777.8 796L778.7 788.4L779.6 780.6L780.5 772.4L781.4 764L782.3 755.3L783.2 746.4L784.1 737.3L785 728.1L785.9 718.7L786.8 709.3L787.7 699.9L788.6 690.5L789.5 681.2L790.4 672.1L791.3 663.3L792.2 654.8L793 646.7L793.9 639.1L794.8 632.1L795.7 625.8L796.6 620.3L797.5 615.7L798.4 612.3L799.3 610.3L800.2 610.4L801.1 612.3L802 615.1L802.9 618.8L803.8 623.3L804.7 628.4L805.6 634.1L806.5 640.3L807.4 646.9L808.3 653.8L809.2 661.1L810.1 668.7L811 676.4L811.8 684.4L812.7 692.4L813.6 700.5L814.5 708.6L815.4 716.7L816.3 724.8L817.2 732.9L818.1 740.8L819 748.6L819.9 756.2L820.8 763.7L821.7 771L822.6 778.1L823.5 785L824.4 791.7L825.3 798.1L826.2 804.3L827.1 810.2L828 815.9L828.9 821.4L829.7 826.6L830.6 831.5L831.5 836.2L832.4 840.7L833.3 844.9L834.2 848.9L835.1 852.6L836 856.2L836.9 859.5L837.8 862.6L838.7 865.5L839.6 868.2L840.5 870.8L841.4 873.1L842.3 875.3L843.2 877.4L844.1 879.3L845 881L845.9 882.6L846.8 884.1L847.6 885.5L848.5 886.7L849.4 887.9L850.3 888.9L851.2 889.9L852.1 890.8L853 891.6L853.9 892.4L854.8 893L855.7 893.6L856.6 894.2L857.5 894.7L858.4 895.1L859.3 895.6L860.2 895.9L861.1 896.3L862 896.6L862.9 896.8L863.8 897.1L864.6 897.3L865.5 897.5L866.4 897.7L867.3 897.8L868.2 898L869.1 898.1L870 898.2L870.9 898.3L871.8 898.4L872.7 898.4L873.6 898.5L874.5 898.6L875.4 898.6L876.3 898.7L877.2 898.7L878.1 898.8L879 898.8L879 899Z" fill="#0000ff" fill-opacity="0.65"/>
<path d="M641.8 899L641.8 898.8L642.7 898.8L643.6 898.8L644.5 898.8L645.4 898.7L646.3 898.7L647.2 898.7L648.1 898.7L649 898.7L649.9 898.7L650.7 898.6L651.6 898.6L652.5 898.6L653.4 898.6L654.3 898.6L655.2 898.5L656.1 898.5L657 898.5L657.9 898.5L658.8 898.4L659.7 898.4L660.6 898.4L661.5 898.3L662.4 898.3L663.3 898.3L664.2 898.2L665.1 898.2L666 898.2L666.9 898.1L667.8 898.1L668.6 898L669.5 898L670.4 897.9L671.3 897.9L672.2 897.8L673.1 897.8L674 897.7L674.9 897.6L675.8 897.6L676.7 897.5L677.6 897.4L678.5 897.4L679.4 897.3L680.3 897.2L681.2 897.1L682.1 897L683 896.9L683.9 896.9L684.8 896.8L685.6 896.7L686.5 896.6L687.4 896.4L688.3 896.3L689.2 896.2L690.1 896.1L691 896L691.9 895.8L692.8 895.7L693.7 895.6L694.6 895.4L695.5 895.3L696.4 895.1L697.3 895L698.2 894.8L699.1 894.6L700 894.5L700.9 894.3L701.8 894.1L702.7 893.9L703.5 893.7L704.4 893.5L705.3 893.3L706.2 893L707.1 892.8L708 892.6L708.9 892.3L709.8 892.1L710.7 891.8L711.6 891.6L712.5 891.3L713.4 891L714.3 890.7L715.2 890.4L716.1 890.1L717 889.8L717.9 889.5L718.8 889.2L719.7 888.9L720.6 888.5L721.5 888.2L722.3 887.8L723.2 887.4L724.1 887L725 886.6L725.9 886.2L726.8 885.8L727.7 885.4L728.6 885L729.5 884.5L730.4 884.1L731.3 883.6L732.2 883.2L733.1 882.7L734 882.2L734.9 881.7L735.8 881.2L736.7 880.7L737.6 880.1L738.5 879.6L739.4 879L740.2 878.5L741.1 877.9L742 877.3L742.9 876.7L743.8 876.1L744.7 875.5L745.6 874.9L746.5 874.3L747.4 873.6L748.3 873L749.2 872.3L750.1 871.6L751 870.9L751.9 870.2L752.8 869.5L753.7 868.8L754.6 868.1L755.5 867.4L756.4 866.6L757.2 865.9L758.1 865.1L759 864.4L759.9 863.6L760.8 862.8L761.7 862L762.6 861.2L763.5 860.4L764.4 859.6L765.3 858.8L766.2 858L767.1 857.2L768 856.3L768.9 855.5L769.8 854.7L770.7 853.8L771.6 853L772.5 852.1L773.4 851.3L774.3 850.4L775.1 849.5L776 848.7L776.9 847.8L777.8 846.9L778.7 846.1L779.6 845.2L780.5 844.3L781.4 843.5L782.3 842.6L783.2 841.7L784.1 840.8L785 840L785.9 839.1L786.8 838.3L787.7 837.4L788.6 836.6L789.5 835.7L790.4 834.9L791.3 834L792.2 833.2L793 832.4L793.9 831.6L794.8 830.8L795.7 830L796.6 829.2L797.5 828.4L798.4 827.6L799.3 826.9L800.2 826.1L801.1 825.4L802 824.7L802.9 823.9L803.8 823.2L804.7 822.6L805.6 821.9L806.5 821.2L807.4 820.6L808.3 820L809.2 819.3L810.1 818.7L811 818.2L811.8 817.6L812.7 817.1L813.6 816.5L814.5 816L815.4 815.5L816.3 815.1L817.2 814.6L818.1 814.2L819 813.8L819.9 813.4L820.8 813L821.7 812.6L822.6 812.3L823.5 812L824.4 811.7L825.3 811.4L826.2 811.2L827.1 811L828 810.8L828.9 810.6L829.7 810.4L830.6 810.3L831.5 810.2L832.4 810.1L833.3 810.1L834.2 810L835.1 810L836 810L836.9 810L837.8 810.1L838.7 810.2L839.6 810.2L840.5 810.4L841.4 810.5L842.3 810.7L843.2 810.8L844.1 811L845 811.3L845.9 811.5L846.8 811.8L847.6 812L848.5 812.3L849.4 812.7L850.3 813L851.2 813.4L852.1 813.8L853 814.2L853.9 814.6L854.8 815L855.7 815.5L856.6 815.9L857.5 816.4L858.4 816.9L859.3 817.5L860.2 818L861.1 818.6L862 819.1L862.9 819.7L863.8 820.3L864.6 821L865.5 821.6L866.4 822.2L867.3 822.9L868.2 823.6L869.1 824.2L870 824.9L870.9 825.6L871.8 826.4L872.7 827.1L873.6 827.8L874.5 828.6L875.4 829.3L876.3 830.1L877.2 830.9L878.1 831.7L879 832.5L879.9 833.2L880.8 834.1L881.7 834.9L882.5 835.7L883.4 836.5L884.3 837.3L885.2 838.1L886.1 839L887 839.8L887.9 840.6L888.8 841.5L889.7 842.3L890.6 843.2L891.5 844L892.4 844.9L893.3 845.7L894.2 846.5L895.1 847.4L896 848.2L896.9 849.1L897.8 849.9L898.7 850.7L899.6 851.6L900.5 852.4L901.3 853.2L902.2 854L903.1 854.9L904 855.7L904.9 856.5L905.8 857.3L906.7 858.1L907.6 858.9L908.5 859.7L909.4 860.5L910.3 861.2L911.2 862L912.1 862.8L913 863.5L913.9 864.3L914.8 865L915.7 865.7L916.6 866.5L917.5 867.2L918.4 867.9L919.2 868.6L920.1 869.3L921 870L921.9 870.6L922.8 871.3L923.7 872L924.6 872.6L925.5 873.3L926.4 873.9L927.3 874.5L928.2 875.1L929.1 875.7L930 876.3L930.9 876.9L931.8 877.5L932.7 878L933.6 878.6L934.5 879.1L935.4 879.6L936.2 880.2L937.1 880.7L938 881.2L938.9 881.7L939.8 882.2L940.7 882.6L941.6 883.1L942.5 883.6L943.4 884L944.3 884.4L945.2 884.9L946.1 885.3L947 885.7L947.9 886.1L948.8 886.5L949.7 886.9L950.6 887.3L951.5 887.6L952.4 888L953.3 888.3L954.2 888.7L955 889L955.9 889.3L956.8 889.6L957.7 889.9L958.6 890.2L959.5 890.5L960.4 890.8L961.3 891.1L962.2 891.4L963.1 891.6L964 891.9L964.9 892.1L965.8 892.4L966.7 892.6L967.6 892.8L968.5 893L969.4 893.2L970.3 893.5L971.2 893.7L972 893.9L972.9 894L973.8 894.2L974.7 894.4L975.6 894.6L976.5 894.7L977.4 894.9L978.3 895.1L979.2 895.2L980.1 895.4L981 895.5L981.9 895.6L982.8 895.8L983.7 895.9L984.6 896L985.5 896.1L986.4 896.3L987.3 896.4L988.2 896.5L989.1 896.6L990 896.7L990.8 896.8L991.7 896.9L992.6 897L993.5 897L994.4 897.1L995.3 897.2L996.2 897.3L997.1 897.4L998 897.4L998.9 897.5L999.8 897.6L1000.7 897.6L1001.6 897.7L1002.5 897.7L1003.4 897.8L1004.3 897.9L1005.2 897.9L1006.1 898L1007 898L1007.9 898L1008.7 898.1L1009.6 898.1L1010.5 898.2L1011.4 898.2L1012.3 898.2L1013.2 898.3L1014.1 898.3L1015 898.4L1015.9 898.4L1016.8 898.4L1017.7 898.4L1018.6 898.5L1019.5 898.5L1020.4 898.5L1021.3 898.5L1022.2 898.6L1023.1 898.6L1024 898.6L1024.9 898.6L1025.8 898.6L1026.6 898.7L1027.5 898.7L1028.4 898.7L1029.3 898.7L1030.2 898.7L1031.1 898.7L1032 898.8L1032.9 898.8L1033.8 898.8L1034.7 898.8L1034.7 899Z" fill="#8000ff" fill-opacity="0.66"/>
<path d="M836.9 899L836.9 898.8L837.8 898.8L838.7 898.8L839.6 898.7L840.5 898.7L841.4 898.7L842.3 898.7L843.2 898.6L844.1 898.6L845 898.6L845.9 898.5L846.8 898.5L847.6 898.5L848.5 898.4L849.4 898.4L850.3 898.3L851.2 898.3L852.1 898.2L853 898.1L853.9 898.1L854.8 898L855.7 897.9L856.6 897.9L857.5 897.8L858.4 897.7L859.3 897.6L860.2 897.5L861.1 897.4L862 897.3L862.9 897.2L863.8 897.1L864.6 897L865.5 896.8L866.4 896.7L867.3 896.6L868.2 896.4L869.1 896.3L870 896.1L870.9 895.9L871.8 895.7L872.7 895.5L873.6 895.3L874.5 895.1L875.4 894.9L876.3 894.7L877.2 894.5L878.1 894.2L879 894L879.9 893.7L880.8 893.4L881.7 893.2L882.5 892.9L883.4 892.6L884.3 892.2L885.2 891.9L886.1 891.6L887 891.2L887.9 890.9L888.8 890.5L889.7 890.1L890.6 889.8L891.5 889.4L892.4 889L893.3 888.5L894.2 888.1L895.1 887.7L896 887.2L896.9 886.8L897.8 886.3L898.7 885.9L899.6 885.4L900.5 884.9L901.3 884.4L902.2 883.9L903.1 883.4L904 882.9L904.9 882.4L905.8 881.9L906.7 881.3L907.6 880.8L908.5 880.3L909.4 879.7L910.3 879.2L911.2 878.7L912.1 878.1L913 877.6L913.9 877.1L914.8 876.6L915.7 876L916.6 875.5L917.5 875L918.4 874.5L919.2 874L920.1 873.5L921 873L921.9 872.5L922.8 872L923.7 871.6L924.6 871.1L925.5 870.7L926.4 870.2L927.3 869.8L928.2 869.4L929.1 869.1L930 868.7L930.9 868.3L931.8 868L932.7 867.7L933.6 867.4L934.5 867.1L935.4 866.9L936.2 866.6L937.1 866.4L938 866.2L938.9 866.1L939.8 865.9L940.7 865.8L941.6 865.7L942.5 865.6L943.4 865.5L944.3 865.5L945.2 865.5L946.1 865.5L947 865.6L947.9 865.6L948.8 865.7L949.7 865.9L950.6 866L951.5 866.2L952.4 866.4L953.3 866.7L954.2 866.9L955 867.2L955.9 867.5L956.8 867.9L957.7 868.2L958.6 868.6L959.5 869L960.4 869.4L961.3 869.9L962.2 870.3L963.1 870.8L964 871.3L964.9 871.8L965.8 872.4L966.7 872.9L967.6 873.4L968.5 874L969.4 874.6L970.3 875.1L971.2 875.7L972 876.3L972.9 876.9L973.8 877.5L974.7 878.1L975.6 878.7L976.5 879.3L977.4 879.9L978.3 880.5L979.2 881.1L980.1 881.6L981 882.2L981.9 882.8L982.8 883.4L983.7 883.9L984.6 884.5L985.5 885L986.4 885.6L987.3 886.1L988.2 886.6L989.1 887.1L990 887.6L990.8 888.1L991.7 888.6L992.6 889.1L993.5 889.5L994.4 889.9L995.3 890.4L996.2 890.8L997.1 891.2L998 891.6L998.9 891.9L999.8 892.3L1000.7 892.6L1001.6 893L1002.5 893.3L1003.4 893.6L1004.3 893.9L1005.2 894.2L1006.1 894.5L1007 894.7L1007.9 895L1008.7 895.2L1009.6 895.4L1010.5 895.7L1011.4 895.9L1012.3 896.1L1013.2 896.2L1014.1 896.4L1015 896.6L1015.9 896.7L1016.8 896.9L1017.7 897L1018.6 897.2L1019.5 897.3L1020.4 897.4L1021.3 897.5L1022.2 897.6L1023.1 897.7L1024 897.8L1024.9 897.9L1025.8 898L1026.6 898.1L1027.5 898.1L1028.4 898.2L1029.3 898.3L1030.2 898.3L1031.1 898.4L1032 898.4L1032.9 898.5L1033.8 898.5L1034.7 898.6L1035.6 898.6L1036.5 898.6L1037.4 898.7L1038.3 898.7L1039.2 898.7L1040.1 898.7L1041 898.8L1041.9 898.8L1041.9 899Z" fill="#ff00ff" fill-opacity="0.5"/>
<path d="M623 898.9L623.9 898.9L624.8 898.9L625.7 898.9L626.6 898.9L627.5 898.9L628.4 898.9L629.3 898.9L630.2 898.9L631.1 898.9L632 898.9L632.8 898.9L633.7 898.9L634.6 898.9L635.5 898.9L636.4 898.9L637.3 898.8L638.2 898.8L639.1 898.8L640 898.8L640.9 898.8L641.8 898.8L642.7 898.8L643.6 898.8L644.5 898.8L645.4 898.7L646.3 898.7L647.2 898.7L648.1 898.7L649 898.7L649.9 898.7L650.7 898.6L651.6 898.6L652.5 898.6L653.4 898.6L654.3 898.6L655.2 898.5L656.1 898.5L657 898.5L657.9 898.5L658.8 898.4L659.7 898.4L660.6 898.4L661.5 898.3L662.4 898.3L663.3 898.3L664.2 898.2L665.1 898.2L666 898.2L666.9 898.1L667.8 898.1L668.6 898L669.5 898L670.4 897.9L671.3 897.9L672.2 897.8L673.1 897.8L674 897.7L674.9 897.6L675.8 897.6L676.7 897.5L677.6 897.4L678.5 897.4L679.4 897.3L680.3 897.2L681.2 897.1L682.1 897L683 896.9L683.9 896.9L684.8 896.8L685.6 896.7L686.5 896.6L687.4 896.4L688.3 896.3L689.2 896.2L690.1 896.1L691 896L691.9 895.8L692.8 895.7L693.7 895.6L694.6 895.4L695.5 895.3L696.4 895.1L697.3 895L698.2 894.8L699.1 894.6L700 894.4L700.9 894.3L701.8 894.1L702.7 893.9L703.5 893.7L704.4 893.5L705.3 893.3L706.2 893L707.1 892.8L708 892.6L708.9 892.3L709.8 892.1L710.7 891.8L711.6 891.5L712.5 891.3L713.4 891L714.3 890.7L715.2 890.4L716.1 890L717 889.7L717.9 889.3L718.8 888.9L719.7 888.5L720.6 888L721.5 887.6L722.3 887L723.2 886.5L724.1 885.8L725 885.1L725.9 884.3L726.8 883.4L727.7 882.4L728.6 881.2L729.5 879.8L730.4 878.3L731.3 876.5L732.2 874.5L733.1 872.2L734 869.5L734.9 866.5L735.8 863L736.7 859L737.6 854.4L738.5 849.3L739.4 843.5L740.2 837L741.1 829.7L742 821.7L742.9 812.8L743.8 803L744.7 792.4L745.6 780.8L746.5 768.4L747.4 755.1L748.3 741L749.2 726.2L750.1 710.7L751 694.6L751.9 678.2L752.8 661.5L753.7 644.7L754.6 628.1L755.5 611.8L756.4 596L757.2 581.1L758.1 567.2L759 554.6L759.9 543.6L760.8 534.3L761.7 527.1L762.6 522.3L763.5 520.3L764.4 519.9L765.3 521L766.2 523.3L767.1 526.7L768 530.9L768.9 535.9L769.8 541.5L770.7 547.5L771.6 553.7L772.5 560L773.4 566.2L774.3 572.2L775.1 578L776 583.3L776.9 588.1L777.8 592.2L778.7 595.7L779.6 598.5L780.5 600.5L781.4 601.6L782.3 602L783.2 601.6L784.1 600.4L785 598.4L785.9 595.7L786.8 592.4L787.7 588.5L788.6 584L789.5 579.2L790.4 574L791.3 568.6L792.2 563.1L793 557.6L793.9 552.3L794.8 547.1L795.7 542.4L796.6 538.2L797.5 534.7L798.4 532.1L799.3 530.6L800.2 531.2L801.1 533.3L802 536.3L802.9 540.1L803.8 544.4L804.7 549.4L805.6 554.8L806.5 560.7L807.4 567L808.3 573.6L809.2 580.5L810.1 587.6L811 595L811.8 602.4L812.7 610L813.6 617.7L814.5 625.4L815.4 633L816.3 640.7L817.2 648.3L818.1 655.8L819 663.2L819.9 670.5L820.8 677.6L821.7 684.6L822.6 691.4L823.5 697.9L824.4 704.3L825.3 710.5L826.2 716.4L827.1 722.1L828 727.6L828.9 732.9L829.7 737.9L830.6 742.7L831.5 747.3L832.4 751.7L833.3 755.8L834.2 759.7L835.1 763.5L836 767L836.9 770.3L837.8 773.5L838.7 776.4L839.6 779.2L840.5 781.8L841.4 784.3L842.3 786.6L843.2 788.8L844.1 790.9L845 792.8L845.9 794.6L846.8 796.4L847.6 798L848.5 799.5L849.4 800.9L850.3 802.3L851.2 803.6L852.1 804.8L853 805.9L853.9 807L854.8 808.1L855.7 809.1L856.6 810L857.5 810.9L858.4 811.8L859.3 812.6L860.2 813.5L861.1 814.3L862 815L862.9 815.8L863.8 816.5L864.6 817.2L865.5 817.9L866.4 818.6L867.3 819.3L868.2 819.9L869.1 820.6L870 821.2L870.9 821.8L871.8 822.5L872.7 823.1L873.6 823.7L874.5 824.3L875.4 824.9L876.3 825.5L877.2 826.1L878.1 826.6L879 827.2L879.9 827.8L880.8 828.3L881.7 828.9L882.5 829.4L883.4 829.9L884.3 830.5L885.2 831L886.1 831.5L887 832L887.9 832.5L888.8 833L889.7 833.4L890.6 833.9L891.5 834.3L892.4 834.8L893.3 835.2L894.2 835.6L895.1 836.1L896 836.5L896.9 836.8L897.8 837.2L898.7 837.6L899.6 837.9L900.5 838.3L901.3 838.6L902.2 839L903.1 839.3L904 839.6L904.9 839.9L905.8 840.2L906.7 840.4L907.6 840.7L908.5 841L909.4 841.2L910.3 841.4L911.2 841.7L912.1 841.9L913 842.1L913.9 842.3L914.8 842.6L915.7 842.8L916.6 843L917.5 843.2L918.4 843.4L919.2 843.6L920.1 843.8L921 843.9L921.9 844.1L922.8 844.3L923.7 844.5L924.6 844.7L925.5 844.9L926.4 845.1L927.3 845.3L928.2 845.5L929.1 845.8L930 846L930.9 846.2L931.8 846.5L932.7 846.7L933.6 847L934.5 847.2L935.4 847.5L936.2 847.8L937.1 848.1L938 848.4L938.9 848.7L939.8 849.1L940.7 849.4L941.6 849.8L942.5 850.2L943.4 850.6L944.3 851L945.2 851.4L946.1 851.8L947 852.3L947.9 852.7L948.8 853.2L949.7 853.7L950.6 854.3L951.5 854.8L952.4 855.4L953.3 856L954.2 856.6L955 857.2L955.9 857.8L956.8 858.5L957.7 859.2L958.6 859.8L959.5 860.5L960.4 861.2L961.3 862L962.2 862.7L963.1 863.4L964 864.2L964.9 864.9L965.8 865.7L966.7 866.5L967.6 867.3L968.5 868L969.4 868.8L970.3 869.6L971.2 870.4L972 871.2L972.9 871.9L973.8 872.7L974.7 873.5L975.6 874.3L976.5 875L977.4 875.8L978.3 876.5L979.2 877.3L980.1 878L981 878.7L981.9 879.4L982.8 880.1L983.7 880.8L984.6 881.5L985.5 882.2L986.4 882.8L987.3 883.5L988.2 884.1L989.1 884.7L990 885.3L990.8 885.9L991.7 886.5L992.6 887L993.5 887.5L994.4 888.1L995.3 888.6L996.2 889.1L997.1 889.5L998 890L998.9 890.4L999.8 890.9L1000.7 891.3L1001.6 891.7L1002.5 892L1003.4 892.4L1004.3 892.8L1005.2 893.1L1006.1 893.4L1007 893.7L1007.9 894L1008.7 894.3L1009.6 894.6L1010.5 894.8L1011.4 895.1L1012.3 895.3L1013.2 895.5L1014.1 895.7L1015 895.9L1015.9 896.1L1016.8 896.3L1017.7 896.5L1018.6 896.6L1019.5 896.8L1020.4 896.9L1021.3 897.1L1022.2 897.2L1023.1 897.3L1024 897.4L1024.9 897.5L1025.8 897.6L1026.6 897.7L1027.5 897.8L1028.4 897.9L1029.3 898L1030.2 898.1L1031.1 898.1L1032 898.2L1032.9 898.2L1033.8 898.3L1034.7 898.3L1035.6 898.4L1036.5 898.4L1037.4 898.5L1038.3 898.5L1039.2 898.6L1040.1 898.6L1041 898.6L1041.9 898.7L1042.8 898.7L1043.7 898.7L1044.5 898.7L1045.4 898.7L1046.3 898.8L1047.2 898.8L1048.1 898.8L1049 898.8L1049.9 898.8L1050.8 898.8L1051.7 898.9L1052.6 898.9L1053.5 898.9L1054.4 898.9L1055.3 898.9L1056.2 898.9L1057.1 898.9L1058 898.9L1058.9 898.9L1059.8 898.9L1060.7 898.9L1061.5 898.9L1062.4 898.9L1063.3 898.9L1064.2 899L1065.1 899L1066 899L1066.9 899L1067.8 899L1068.7 899L1069.6 899L1070.5 899" fill="none" stroke="#000" stroke-width="3.2"/>
<use href="#dc" x="623" y="898.9"/><use href="#dc" x="624.7" y="898.9"/><use href="#dc" x="626.5" y="898.9"/><use href="#dc" x="628.2" y="898.9"/><use href="#dc" x="629.9" y="898.9"/><use href="#dc" x="631.6" y="898.9"/><use href="#dc" x="633.4" y="898.9"/><use href="#dc" x="635.1" y="898.9"/><use href="#dc" x="636.8" y="898.9"/><use href="#dc" x="638.5" y="898.8"/><use href="#dc" x="640.3" y="898.8"/><use href="#dc" x="642" y="898.8"/><use href="#dc" x="643.7" y="898.8"/><use href="#dc" x="645.4" y="898.7"/><use href="#dc" x="647.2" y="898.7"/><use href="#dc" x="648.9" y="898.7"/><use href="#dc" x="650.6" y="898.7"/><use href="#dc" x="652.3" y="898.6"/><use href="#dc" x="654.1" y="898.6"/><use href="#dc" x="655.8" y="898.5"/><use href="#dc" x="657.5" y="898.5"/><use href="#dc" x="659.2" y="898.4"/><use href="#dc" x="661" y="898.4"/><use href="#dc" x="662.7" y="898.3"/><use href="#dc" x="664.4" y="898.2"/><use href="#dc" x="666.1" y="898.1"/><use href="#dc" x="667.9" y="898.1"/><use href="#dc" x="669.6" y="898"/><use href="#dc" x="671.3" y="897.9"/><use href="#dc" x="673" y="897.8"/><use href="#dc" x="674.8" y="897.6"/><use href="#dc" x="676.5" y="897.5"/><use href="#dc" x="678.2" y="897.4"/><use href="#dc" x="679.9" y="897.2"/><use href="#dc" x="681.7" y="897.1"/><use href="#dc" x="683.4" y="896.9"/><use href="#dc" x="685.1" y="896.7"/><use href="#dc" x="686.8" y="896.5"/><use href="#dc" x="688.6" y="896.3"/><use href="#dc" x="690.3" y="896.1"/><use href="#dc" x="692" y="895.8"/><use href="#dc" x="693.7" y="895.6"/><use href="#dc" x="695.5" y="895.3"/><use href="#dc" x="697.2" y="895"/><use href="#dc" x="698.9" y="894.7"/><use href="#dc" x="700.7" y="894.3"/><use href="#dc" x="702.4" y="893.9"/><use href="#dc" x="704.1" y="893.6"/><use href="#dc" x="705.8" y="893.1"/><use href="#dc" x="707.6" y="892.7"/><use href="#dc" x="709.3" y="892.2"/><use href="#dc" x="711" y="891.7"/><use href="#dc" x="712.7" y="891.2"/><use href="#dc" x="714.5" y="890.6"/><use href="#dc" x="716.2" y="890"/><use href="#dc" x="717.9" y="889.3"/><use href="#dc" x="719.6" y="888.5"/><use href="#dc" x="721.4" y="887.6"/><use href="#dc" x="723.1" y="886.6"/><use href="#dc" x="724.8" y="885.3"/><use href="#dc" x="726.5" y="883.7"/><use href="#dc" x="728.3" y="881.7"/><use href="#dc" x="730" y="879.1"/><use href="#dc" x="731.7" y="875.6"/><use href="#dc" x="733.4" y="871.2"/><use href="#dc" x="735.2" y="865.4"/><use href="#dc" x="736.9" y="857.9"/><use href="#dc" x="738.6" y="848.3"/><use href="#dc" x="740.3" y="836.3"/><use href="#dc" x="742.1" y="821.4"/><use href="#dc" x="743.8" y="803.4"/><use href="#dc" x="745.5" y="782.2"/><use href="#dc" x="747.2" y="757.6"/><use href="#dc" x="749" y="730"/><use href="#dc" x="750.7" y="699.9"/><use href="#dc" x="752.4" y="668.2"/><use href="#dc" x="754.1" y="635.9"/><use href="#dc" x="755.9" y="604.5"/><use href="#dc" x="757.6" y="575.6"/><use href="#dc" x="759.3" y="551"/><use href="#dc" x="761" y="532.4"/><use href="#dc" x="762.8" y="521.8"/><use href="#dc" x="764.5" y="520"/><use href="#dc" x="766.2" y="523.4"/><use href="#dc" x="767.9" y="530.7"/><use href="#dc" x="769.7" y="540.8"/><use href="#dc" x="771.4" y="552.5"/><use href="#dc" x="773.1" y="564.6"/><use href="#dc" x="774.8" y="576.1"/><use href="#dc" x="776.6" y="586.2"/><use href="#dc" x="778.3" y="594.1"/><use href="#dc" x="780" y="599.5"/><use href="#dc" x="781.8" y="601.9"/><use href="#dc" x="783.5" y="601.3"/><use href="#dc" x="785.2" y="597.8"/><use href="#dc" x="786.9" y="591.8"/><use href="#dc" x="788.7" y="583.6"/><use href="#dc" x="790.4" y="573.9"/><use href="#dc" x="792.1" y="563.5"/><use href="#dc" x="793.8" y="552.9"/><use href="#dc" x="795.6" y="543.3"/><use href="#dc" x="797.3" y="535.6"/><use href="#dc" x="799" y="531"/><use href="#dc" x="800.7" y="532.3"/><use href="#dc" x="802.5" y="538.2"/><use href="#dc" x="804.2" y="546.6"/><use href="#dc" x="805.9" y="557"/><use href="#dc" x="807.6" y="568.9"/><use href="#dc" x="809.4" y="582.1"/><use href="#dc" x="811.1" y="596.1"/><use href="#dc" x="812.8" y="610.6"/><use href="#dc" x="814.5" y="625.4"/><use href="#dc" x="816.3" y="640.2"/><use href="#dc" x="818" y="654.8"/><use href="#dc" x="819.7" y="669"/><use href="#dc" x="821.4" y="682.6"/><use href="#dc" x="823.2" y="695.6"/><use href="#dc" x="824.9" y="707.9"/><use href="#dc" x="826.6" y="719.3"/><use href="#dc" x="828.3" y="729.9"/><use href="#dc" x="830.1" y="739.7"/><use href="#dc" x="831.8" y="748.6"/><use href="#dc" x="833.5" y="756.7"/><use href="#dc" x="835.2" y="764"/><use href="#dc" x="837" y="770.5"/><use href="#dc" x="838.7" y="776.4"/><use href="#dc" x="840.4" y="781.7"/><use href="#dc" x="842.1" y="786.3"/><use href="#dc" x="843.9" y="790.5"/><use href="#dc" x="845.6" y="794.1"/><use href="#dc" x="847.3" y="797.4"/><use href="#dc" x="849" y="800.3"/><use href="#dc" x="850.8" y="802.9"/><use href="#dc" x="852.5" y="805.3"/><use href="#dc" x="854.2" y="807.4"/><use href="#dc" x="856" y="809.3"/><use href="#dc" x="857.7" y="811.1"/><use href="#dc" x="859.4" y="812.8"/><use href="#dc" x="861.1" y="814.3"/><use href="#dc" x="862.9" y="815.8"/><use href="#dc" x="864.6" y="817.2"/><use href="#dc" x="866.3" y="818.5"/><use href="#dc" x="868" y="819.8"/><use href="#dc" x="869.8" y="821"/><use href="#dc" x="871.5" y="822.2"/><use href="#dc" x="873.2" y="823.4"/><use href="#dc" x="874.9" y="824.6"/><use href="#dc" x="876.7" y="825.7"/><use href="#dc" x="878.4" y="826.8"/><use href="#dc" x="880.1" y="827.9"/><use href="#dc" x="881.8" y="829"/><use href="#dc" x="883.6" y="830"/><use href="#dc" x="885.3" y="831"/><use href="#dc" x="887" y="832"/><use href="#dc" x="888.7" y="832.9"/><use href="#dc" x="890.5" y="833.8"/><use href="#dc" x="892.2" y="834.7"/><use href="#dc" x="893.9" y="835.5"/><use href="#dc" x="895.6" y="836.3"/><use href="#dc" x="897.4" y="837.1"/><use href="#dc" x="899.1" y="837.8"/><use href="#dc" x="900.8" y="838.4"/><use href="#dc" x="902.5" y="839.1"/><use href="#dc" x="904.3" y="839.7"/><use href="#dc" x="906" y="840.2"/><use href="#dc" x="907.7" y="840.7"/><use href="#dc" x="909.4" y="841.2"/><use href="#dc" x="911.2" y="841.7"/><use href="#dc" x="912.9" y="842.1"/><use href="#dc" x="914.6" y="842.5"/><use href="#dc" x="916.3" y="842.9"/><use href="#dc" x="918.1" y="843.3"/><use href="#dc" x="919.8" y="843.7"/><use href="#dc" x="921.5" y="844"/><use href="#dc" x="923.2" y="844.4"/><use href="#dc" x="925" y="844.8"/><use href="#dc" x="926.7" y="845.2"/><use href="#dc" x="928.4" y="845.6"/><use href="#dc" x="930.1" y="846"/><use href="#dc" x="931.9" y="846.5"/><use href="#dc" x="933.6" y="847"/><use href="#dc" x="935.3" y="847.5"/><use href="#dc" x="937.1" y="848.1"/><use href="#dc" x="938.8" y="848.7"/><use href="#dc" x="940.5" y="849.3"/><use href="#dc" x="942.2" y="850"/><use href="#dc" x="944" y="850.8"/><use href="#dc" x="945.7" y="851.6"/><use href="#dc" x="947.4" y="852.5"/><use href="#dc" x="949.1" y="853.4"/><use href="#dc" x="950.9" y="854.4"/><use href="#dc" x="952.6" y="855.5"/><use href="#dc" x="954.3" y="856.7"/><use href="#dc" x="956" y="857.9"/><use href="#dc" x="957.8" y="859.2"/><use href="#dc" x="959.5" y="860.5"/><use href="#dc" x="961.2" y="861.9"/><use href="#dc" x="962.9" y="863.3"/><use href="#dc" x="964.7" y="864.7"/><use href="#dc" x="966.4" y="866.2"/><use href="#dc" x="968.1" y="867.7"/><use href="#dc" x="969.8" y="869.2"/><use href="#dc" x="971.6" y="870.7"/><use href="#dc" x="973.3" y="872.2"/><use href="#dc" x="975" y="873.7"/><use href="#dc" x="976.7" y="875.2"/><use href="#dc" x="978.5" y="876.7"/><use href="#dc" x="980.2" y="878.1"/><use href="#dc" x="981.9" y="879.5"/><use href="#dc" x="983.6" y="880.8"/><use href="#dc" x="985.4" y="882.1"/><use href="#dc" x="987.1" y="883.4"/><use href="#dc" x="988.8" y="884.6"/><use href="#dc" x="990.5" y="885.7"/><use href="#dc" x="992.3" y="886.8"/><use href="#dc" x="994" y="887.8"/><use href="#dc" x="995.7" y="888.8"/><use href="#dc" x="997.4" y="889.7"/><use href="#dc" x="999.2" y="890.6"/><use href="#dc" x="1000.9" y="891.4"/><use href="#dc" x="1002.6" y="892.1"/><use href="#dc" x="1004.3" y="892.8"/><use href="#dc" x="1006.1" y="893.4"/><use href="#dc" x="1007.8" y="894"/><use href="#dc" x="1009.5" y="894.5"/><use href="#dc" x="1011.3" y="895"/><use href="#dc" x="1013" y="895.5"/><use href="#dc" x="1014.7" y="895.9"/><use href="#dc" x="1016.4" y="896.2"/><use href="#dc" x="1018.2" y="896.6"/><use href="#dc" x="1019.9" y="896.9"/><use href="#dc" x="1021.6" y="897.1"/><use href="#dc" x="1023.3" y="897.4"/><use href="#dc" x="1025.1" y="897.6"/><use href="#dc" x="1026.8" y="897.7"/><use href="#dc" x="1028.5" y="897.9"/><use href="#dc" x="1030.2" y="898.1"/><use href="#dc" x="1032" y="898.2"/><use href="#dc" x="1033.7" y="898.3"/><use href="#dc" x="1035.4" y="898.4"/><use href="#dc" x="1037.1" y="898.5"/><use href="#dc" x="1038.9" y="898.5"/><use href="#dc" x="1040.6" y="898.6"/><use href="#dc" x="1042.3" y="898.7"/><use href="#dc" x="1044" y="898.7"/><use href="#dc" x="1045.8" y="898.8"/><use href="#dc" x="1047.5" y="898.8"/><use href="#dc" x="1049.2" y="898.8"/><use href="#dc" x="1050.9" y="898.8"/><use href="#dc" x="1052.7" y="898.9"/><use href="#dc" x="1054.4" y="898.9"/><use href="#dc" x="1056.1" y="898.9"/><use href="#dc" x="1057.8" y="898.9"/><use href="#dc" x="1059.6" y="898.9"/><use href="#dc" x="1061.3" y="898.9"/><use href="#dc" x="1063" y="898.9"/><use href="#dc" x="1064.7" y="899"/><use href="#dc" x="1066.5" y="899"/><use href="#dc" x="1068.2" y="899"/><use href="#dc" x="1069.9" y="899"/>
<rect x="623.0" y="45.3" width="447.5" height="854.0" fill="none" stroke="#000" stroke-width="4"/>
<line x1="623.0" y1="473.3" x2="1070.5" y2="473.3" stroke="#000" stroke-width="2.6"/>
<line x1="623" y1="899" x2="623" y2="908" stroke="#000" stroke-width="3.4"/>
<text x="623" y="937.5" font-family="Liberation Sans" font-size="29.8" font-weight="bold" fill="#000" text-anchor="middle" >2150</text>
<line x1="712.5" y1="899" x2="712.5" y2="908" stroke="#000" stroke-width="3.4"/>
<text x="712.5" y="937.5" font-family="Liberation Sans" font-size="29.8" font-weight="bold" fill="#000" text-anchor="middle" >2100</text>
<line x1="802" y1="899" x2="802" y2="908" stroke="#000" stroke-width="3.4"/>
<text x="802" y="937.5" font-family="Liberation Sans" font-size="29.8" font-weight="bold" fill="#000" text-anchor="middle" >2050</text>
<line x1="891.5" y1="899" x2="891.5" y2="908" stroke="#000" stroke-width="3.4"/>
<text x="891.5" y="937.5" font-family="Liberation Sans" font-size="29.8" font-weight="bold" fill="#000" text-anchor="middle" >2000</text>
<line x1="981" y1="899" x2="981" y2="908" stroke="#000" stroke-width="3.4"/>
<text x="981" y="937.5" font-family="Liberation Sans" font-size="29.8" font-weight="bold" fill="#000" text-anchor="middle" >1950</text>
<line x1="1070.5" y1="899" x2="1070.5" y2="908" stroke="#000" stroke-width="3.4"/>
<text x="1070.5" y="937.5" font-family="Liberation Sans" font-size="29.8" font-weight="bold" fill="#000" text-anchor="middle" >1900</text>
<line x1="667.8" y1="899" x2="667.8" y2="904.5" stroke="#000" stroke-width="3"/>
<line x1="757.2" y1="899" x2="757.2" y2="904.5" stroke="#000" stroke-width="3"/>
<line x1="846.8" y1="899" x2="846.8" y2="904.5" stroke="#000" stroke-width="3"/>
<line x1="936.2" y1="899" x2="936.2" y2="904.5" stroke="#000" stroke-width="3"/>
<line x1="1025.8" y1="899" x2="1025.8" y2="904.5" stroke="#000" stroke-width="3"/>
<text x="843.5" y="991.5" font-family="Liberation Sans" font-size="30" font-weight="bold" fill="#000" text-anchor="middle" ><tspan font-size="30" dy="0">Wavenumber (cm</tspan><tspan font-size="19.8" dy="-11.4">-1</tspan><tspan font-size="30" dy="11.4">)</tspan></text>
<text transform="translate(613.5,476.5) rotate(-90)" font-size="29" font-weight="bold" text-anchor="middle">Kubelka-Munk</text>
<text x="630.6" y="78.8" font-family="Liberation Sans" font-size="29.5" font-weight="bold" fill="#000" text-anchor="start" ><tspan font-size="29.5" dy="0">Pt</tspan><tspan font-size="18.3" dy="5.9">e</tspan></text>
<text x="630.6" y="507.5" font-family="Liberation Sans" font-size="30.2" font-weight="bold" fill="#000" text-anchor="start" ><tspan font-size="30.2" dy="0">Pt</tspan><tspan font-size="18.7" dy="6">e</tspan><tspan font-size="30.2" dy="-6">-300A</tspan></text>
<text x="761.7" y="129.5" font-family="Liberation Sans" font-size="20" font-weight="bold" fill="#e60012" text-anchor="start" ><tspan font-size="20" dy="0">Pt</tspan><tspan font-size="12.4" dy="-8.4">δ+</tspan><tspan font-size="20" dy="8.4">(T):56.7%</tspan></text>
<text x="625.3" y="190" font-family="Liberation Sans" font-size="19.5" font-weight="bold" fill="#f08a24" text-anchor="start" ><tspan font-size="19.5" dy="0">Pt</tspan><tspan font-size="12.1" dy="3.9">1</tspan><tspan font-size="19.5" dy="-3.9">:25.3%</tspan></text>
<text x="784.5" y="340" font-family="Liberation Sans" font-size="20" font-weight="bold" fill="#0a8a0a" text-anchor="start" ><tspan font-size="20" dy="0">Pt</tspan><tspan font-size="12.4" dy="-8.4">δ+</tspan><tspan font-size="20" dy="8.4">(C):18.0%</tspan></text>
<line x1="791" y1="148" x2="760.2" y2="194.2" stroke="#e60012" stroke-width="2.2" stroke-dasharray="11 6"/><path d="M753 205L755.9 191.3L764.5 197.1Z" fill="#e60012"/>
<line x1="694" y1="211" x2="714.4" y2="238.2" stroke="#f08a24" stroke-width="2.2" stroke-dasharray="11 6"/><path d="M721 247L710.8 240.9L718 235.5Z" fill="#f08a24"/>
<line x1="826" y1="367" x2="826" y2="409" stroke="#0a8a0a" stroke-width="2.2" stroke-dasharray="11 6"/><path d="M826 422L820.8 409L831.2 409Z" fill="#0a8a0a"/>
<text x="815.5" y="516" font-family="Liberation Sans" font-size="20" font-weight="bold" fill="#0a12e6" text-anchor="start" ><tspan font-size="20" dy="0">Pt</tspan><tspan font-size="12.4" dy="-8.4">0</tspan><tspan font-size="20" dy="8.4">(T):32.0%</tspan></text>
<text x="628.5" y="598" font-family="Liberation Sans" font-size="20" font-weight="bold" fill="#e60012" text-anchor="start" ><tspan font-size="20" dy="0">Pt</tspan><tspan font-size="12.4" dy="-8.4">δ+</tspan><tspan font-size="20" dy="8.4">(T):25.1%</tspan></text>
<text x="838.5" y="671" font-family="Liberation Sans" font-size="20" font-weight="bold" fill="#8a10e6" text-anchor="start" ><tspan font-size="20" dy="0">Pt</tspan><tspan font-size="12.4" dy="-8.4">0</tspan><tspan font-size="20" dy="8.4">(E):33.5%</tspan></text>
<text x="877" y="781" font-family="Liberation Sans" font-size="19.9" font-weight="bold" fill="#ff80f0" text-anchor="start" >Bridged CO: 9.4%</text>
<line x1="843" y1="537" x2="809.7" y2="592.8" stroke="#0a12e6" stroke-width="2.2" stroke-dasharray="11 6"/><path d="M803 604L805.2 590.2L814.1 595.5Z" fill="#0a12e6"/>
<line x1="721" y1="616" x2="749.7" y2="627.7" stroke="#e60012" stroke-width="2.2" stroke-dasharray="11 6"/><path d="M759 631.5L748.2 631.4L751.3 624Z" fill="#e60012"/>
<line x1="867" y1="692" x2="836" y2="820.4" stroke="#8a10e6" stroke-width="2.2" stroke-dasharray="11 6"/><path d="M833 833L831 819.1L841.1 821.6Z" fill="#8a10e6"/>
<line x1="954.5" y1="798" x2="954.5" y2="844" stroke="#ff80f0" stroke-width="2.2" stroke-dasharray="11 6"/><path d="M954.5 857L949.3 844L959.7 844Z" fill="#ff80f0"/>
<text x="575.4" y="81.3" font-family="Liberation Sans" font-size="62.5" font-weight="bold" fill="#000" text-anchor="start" >c</text>
<clipPath id="clipD"><rect x="123.5" y="1034.0" width="433.5" height="455.5"/></clipPath>
<g clip-path="url(#clipD)" fill="none" stroke-width="3.4" stroke-linejoin="round">
<path d="M123.5 1485.3C126.9 1484.7 137.4 1483.3 143.7 1481.7C150 1480.1 155.5 1477.9 161.3 1475.7C167.2 1473.5 173.1 1472.7 179 1468.7C184.9 1464.7 191.4 1458.1 196.7 1451.7C202 1445.3 206.7 1438.2 210.8 1430.5C214.9 1422.8 217.9 1416.4 221.4 1405.8C224.9 1395.2 228.5 1383.4 232 1366.9C235.5 1350.4 239.1 1328.6 242.6 1306.8C246.1 1285 249.7 1257.3 253.2 1236.1C256.7 1214.9 260.9 1192.9 263.8 1179.6C266.8 1166.4 268.6 1161.4 270.9 1156.6C273.1 1151.9 275.2 1151.9 277.2 1151.3C279.3 1150.8 280.8 1150.2 283.3 1153.1C285.7 1156.1 288.8 1159.9 292.1 1169C295.3 1178.1 299.2 1193.2 302.7 1207.9C306.2 1222.6 309.8 1242 313.3 1257.3C316.8 1272.7 320.4 1289.2 323.9 1299.8C327.4 1310.4 331 1315.7 334.5 1321C338 1326.3 341 1329 345.1 1331.6C349.2 1334.1 354.5 1335.4 359.2 1336.1C363.9 1336.9 368.6 1336.4 373.4 1335.8C378.1 1335.1 382.8 1333.3 387.5 1332.3C392.2 1331.3 396.3 1330.8 401.6 1329.8C406.9 1328.8 413.4 1327.3 419.3 1326.3C425.2 1325.3 431.1 1324.4 437 1323.8C442.9 1323.2 448.2 1323.3 454.6 1322.7C461.1 1322.1 469.9 1321.2 475.8 1320.2C481.7 1319.2 484.7 1317.7 490 1316.7C495.3 1315.8 501.7 1314.6 507.6 1314.6C513.5 1314.6 520 1316.8 525.3 1316.7C530.6 1316.6 534.1 1314.9 539.4 1313.9C544.7 1312.8 554.2 1310.9 557.1 1310.4" stroke="#ec1c24"/>
<path d="M123.5 1475.7C126.9 1475 137.4 1472.5 143.7 1471.1C150 1469.8 156.6 1469 161.3 1467.6C166.1 1466.2 168.4 1464.5 171.9 1463C175.5 1461.5 178.4 1461.2 182.5 1458.8C186.7 1456.3 192 1452.9 196.7 1448.2C201.4 1443.5 206.7 1437 210.8 1430.5C214.9 1424 217.9 1418.7 221.4 1409.3C224.9 1399.9 228.5 1388.7 232 1374C235.5 1359.2 239.1 1336.9 242.6 1321C246.1 1305.1 249.7 1289.7 253.2 1278.6C256.7 1267.4 260.9 1259.6 263.8 1253.8C266.8 1248 268.8 1246 270.9 1243.9C272.9 1241.9 274.1 1241.3 276.2 1241.4C278.2 1241.6 280.6 1242.3 283.3 1245C285.9 1247.6 288.8 1251.2 292.1 1257.3C295.3 1263.5 299.2 1274.4 302.7 1282.1C306.2 1289.7 309.8 1297.1 313.3 1303.3C316.8 1309.5 320.4 1315.1 323.9 1319.2C327.4 1323.3 331 1325.8 334.5 1328C338 1330.2 341 1331.4 345.1 1332.3C349.2 1333.1 354.5 1333.4 359.2 1333.3C363.9 1333.2 369.8 1332.1 373.4 1331.6C376.9 1331 377.5 1330.5 380.4 1329.8C383.4 1329.1 386.9 1327.5 391 1327.3C395.1 1327.1 400.4 1328.3 405.2 1328.7C409.9 1329.1 414.6 1329.9 419.3 1329.8C424 1329.7 429.3 1327.8 433.4 1328C437.6 1328.2 439.9 1331 444 1330.8C448.2 1330.7 452.9 1328.7 458.2 1327.3C463.5 1326 469.9 1323.9 475.8 1322.7C481.7 1321.5 487.6 1321 493.5 1320.2C499.4 1319.5 505.3 1318.3 511.2 1318.1C517.1 1318 523.5 1319.3 528.8 1319.2C534.1 1319.1 538.3 1317.8 543 1317.4C547.7 1317 554.7 1316.8 557.1 1316.7" stroke="#1010e0"/>
<path d="M123.5 1483.5C126.9 1482.8 137.4 1480.9 143.7 1479.3C150 1477.6 155.5 1475.7 161.3 1473.6C167.2 1471.5 173.1 1470.2 179 1466.5C184.9 1462.9 191.4 1457.4 196.7 1451.7C202 1446 206.7 1439 210.8 1432.3C214.9 1425.5 217.9 1420.8 221.4 1411.1C224.9 1401.3 228.5 1389 232 1374C235.5 1358.9 239.7 1334.5 242.6 1321C245.6 1307.4 247.3 1300 249.7 1292.7C252 1285.3 254.4 1280.2 256.7 1276.8C259.1 1273.4 261.5 1272.5 263.8 1272.2C266.2 1271.9 267.9 1272.5 270.9 1275C273.8 1277.6 278 1283 281.5 1287.4C285 1291.8 288.6 1297.4 292.1 1301.5C295.6 1305.6 298.6 1308.9 302.7 1312.1C306.8 1315.4 312.1 1318.7 316.8 1321C321.5 1323.2 326.2 1324.7 331 1325.5C335.7 1326.4 340.4 1326.7 345.1 1326.3C349.8 1325.8 354.5 1323.9 359.2 1322.7C363.9 1321.5 368.6 1319.9 373.4 1319.2C378.1 1318.5 382.8 1318.1 387.5 1318.5C392.2 1318.9 396.9 1320.4 401.6 1321.7C406.3 1323 411 1325.2 415.8 1326.3C420.5 1327.3 424.6 1327.7 429.9 1328C435.2 1328.3 441.7 1328.6 447.6 1328C453.5 1327.4 459.9 1326.3 465.2 1324.5C470.5 1322.7 474.7 1319.7 479.4 1317.4C484.1 1315.2 488.8 1312.4 493.5 1311.1C498.2 1309.7 502.9 1309.1 507.6 1309.3C512.3 1309.5 517.1 1310.9 521.8 1312.1C526.5 1313.4 530 1315.4 535.9 1316.7C541.8 1318.1 553.6 1319.7 557.1 1320.2" stroke="#1a8a86"/>
<path d="M123.5 1481.7C126.9 1481 137.4 1478.7 143.7 1477.1C150 1475.5 155.5 1474.1 161.3 1472.2C167.2 1470.3 173.1 1469.5 179 1465.8C184.9 1462.1 191.4 1455.8 196.7 1449.9C202 1444 206.7 1437.3 210.8 1430.5C214.9 1423.7 217.9 1418.7 221.4 1409.3C224.9 1399.9 228.5 1389.3 232 1374C235.5 1358.6 239.1 1339.2 242.6 1317.4C246.1 1295.6 249.7 1266.8 253.2 1243.2C256.7 1219.7 260.6 1193.5 263.8 1176.1C267.1 1158.7 269.8 1147.9 272.7 1139C275.5 1130 278.4 1124.4 280.8 1122.4C283.1 1120.3 284.6 1122.7 286.8 1126.6C289 1130.6 291.2 1136 293.9 1146C296.5 1156.1 299.4 1168.7 302.7 1186.7C305.9 1204.6 309.8 1233.2 313.3 1253.8C316.8 1274.4 320.4 1296.5 323.9 1310.4C327.4 1324.2 331 1330.5 334.5 1336.9C338 1343.2 341.3 1345.7 345.1 1348.5C348.9 1351.3 352.7 1352.6 357.5 1353.5C362.2 1354.3 367.8 1354.1 373.4 1353.8C379 1353.6 385.1 1352.8 391 1352C396.9 1351.3 402.8 1350.2 408.7 1349.2C414.6 1348.3 420.5 1348.3 426.4 1346.4C432.2 1344.5 438.1 1340.9 444 1337.9C449.9 1335 455.8 1331.1 461.7 1328.7C467.6 1326.4 473.5 1324.8 479.4 1323.8C485.3 1322.8 491.1 1323.2 497 1322.7C502.9 1322.2 508.8 1321.7 514.7 1321C520.6 1320.2 525.3 1319.6 532.4 1318.1C539.4 1316.7 553 1313.1 557.1 1312.1" stroke="#8c8c8c"/>
</g>
<rect x="123.5" y="1034.0" width="433.5" height="455.5" fill="none" stroke="#000" stroke-width="3.4"/>
<line x1="115.5" y1="1489.5" x2="123.5" y2="1489.5" stroke="#000" stroke-width="3"/>
<text x="111.5" y="1498.5" font-family="Liberation Sans" font-size="26" font-weight="bold" fill="#000" text-anchor="end" >0.0</text>
<line x1="119.0" y1="1447.2" x2="123.5" y2="1447.2" stroke="#000" stroke-width="2.6"/>
<line x1="115.5" y1="1404.9" x2="123.5" y2="1404.9" stroke="#000" stroke-width="3"/>
<text x="111.5" y="1413.9" font-family="Liberation Sans" font-size="26" font-weight="bold" fill="#000" text-anchor="end" >0.5</text>
<line x1="119.0" y1="1362.6" x2="123.5" y2="1362.6" stroke="#000" stroke-width="2.6"/>
<line x1="115.5" y1="1320.3" x2="123.5" y2="1320.3" stroke="#000" stroke-width="3"/>
<text x="111.5" y="1329.3" font-family="Liberation Sans" font-size="26" font-weight="bold" fill="#000" text-anchor="end" >1.0</text>
<line x1="119.0" y1="1278" x2="123.5" y2="1278" stroke="#000" stroke-width="2.6"/>
<line x1="115.5" y1="1235.7" x2="123.5" y2="1235.7" stroke="#000" stroke-width="3"/>
<text x="111.5" y="1244.7" font-family="Liberation Sans" font-size="26" font-weight="bold" fill="#000" text-anchor="end" >1.5</text>
<line x1="119.0" y1="1193.4" x2="123.5" y2="1193.4" stroke="#000" stroke-width="2.6"/>
<line x1="115.5" y1="1151.1" x2="123.5" y2="1151.1" stroke="#000" stroke-width="3"/>
<text x="111.5" y="1160.1" font-family="Liberation Sans" font-size="26" font-weight="bold" fill="#000" text-anchor="end" >2.0</text>
<line x1="119.0" y1="1108.8" x2="123.5" y2="1108.8" stroke="#000" stroke-width="2.6"/>
<line x1="115.5" y1="1066.5" x2="123.5" y2="1066.5" stroke="#000" stroke-width="3"/>
<text x="111.5" y="1075.5" font-family="Liberation Sans" font-size="26" font-weight="bold" fill="#000" text-anchor="end" >2.5</text>
<line x1="123.5" y1="1489.5" x2="123.5" y2="1497.5" stroke="#000" stroke-width="3"/>
<text x="123.5" y="1522.5" font-family="Liberation Sans" font-size="25.8" font-weight="bold" fill="#000" text-anchor="middle" >11550</text>
<line x1="166.8" y1="1489.5" x2="166.8" y2="1494.0" stroke="#000" stroke-width="2.6"/>
<line x1="210.2" y1="1489.5" x2="210.2" y2="1497.5" stroke="#000" stroke-width="3"/>
<text x="210.2" y="1522.5" font-family="Liberation Sans" font-size="25.8" font-weight="bold" fill="#000" text-anchor="middle" >11560</text>
<line x1="253.5" y1="1489.5" x2="253.5" y2="1494.0" stroke="#000" stroke-width="2.6"/>
<line x1="296.9" y1="1489.5" x2="296.9" y2="1497.5" stroke="#000" stroke-width="3"/>
<text x="296.9" y="1522.5" font-family="Liberation Sans" font-size="25.8" font-weight="bold" fill="#000" text-anchor="middle" >11570</text>
<line x1="340.2" y1="1489.5" x2="340.2" y2="1494.0" stroke="#000" stroke-width="2.6"/>
<line x1="383.6" y1="1489.5" x2="383.6" y2="1497.5" stroke="#000" stroke-width="3"/>
<text x="383.6" y="1522.5" font-family="Liberation Sans" font-size="25.8" font-weight="bold" fill="#000" text-anchor="middle" >11580</text>
<line x1="427" y1="1489.5" x2="427" y2="1494.0" stroke="#000" stroke-width="2.6"/>
<line x1="470.3" y1="1489.5" x2="470.3" y2="1497.5" stroke="#000" stroke-width="3"/>
<text x="470.3" y="1522.5" font-family="Liberation Sans" font-size="25.8" font-weight="bold" fill="#000" text-anchor="middle" >11590</text>
<line x1="513.6" y1="1489.5" x2="513.6" y2="1494.0" stroke="#000" stroke-width="2.6"/>
<line x1="557" y1="1489.5" x2="557" y2="1497.5" stroke="#000" stroke-width="3"/>
<text x="557" y="1522.5" font-family="Liberation Sans" font-size="25.8" font-weight="bold" fill="#000" text-anchor="middle" >11600</text>
<text x="340" y="1553.5" font-family="Liberation Sans" font-size="27" font-weight="bold" fill="#000" text-anchor="middle" >Energy (eV)</text>
<text transform="translate(66,1278) rotate(-90)" font-size="27" font-weight="bold" text-anchor="middle">Normalized Intensity (a.u.)</text>
<line x1="396" y1="1057" x2="447" y2="1057" stroke="#ec1c24" stroke-width="3.4"/>
<text x="453" y="1064.5" font-family="Liberation Sans" font-size="22.5" font-weight="bold" fill="#000" text-anchor="start" ><tspan font-size="22.5" dy="0">Pt</tspan><tspan font-size="13.9" dy="4.5">e</tspan></text>
<line x1="396" y1="1090" x2="447" y2="1090" stroke="#1010e0" stroke-width="3.4"/>
<text x="453" y="1097.5" font-family="Liberation Sans" font-size="22.5" font-weight="bold" fill="#000" text-anchor="start" ><tspan font-size="22.5" dy="0">Pt</tspan><tspan font-size="13.9" dy="4.5">e</tspan><tspan font-size="22.5" dy="-4.5">-300A</tspan></text>
<line x1="396" y1="1123" x2="447" y2="1123" stroke="#1a8a86" stroke-width="3.4"/>
<text x="453" y="1130.5" font-family="Liberation Sans" font-size="22.5" font-weight="bold" fill="#000" text-anchor="start" ><tspan font-size="22.5" dy="0">Pt foil</tspan></text>
<line x1="396" y1="1153" x2="447" y2="1153" stroke="#8c8c8c" stroke-width="3.4"/>
<text x="453" y="1160.5" font-family="Liberation Sans" font-size="22.5" font-weight="bold" fill="#000" text-anchor="start" ><tspan font-size="22.5" dy="0">PtO</tspan><tspan font-size="13.9" dy="4.5">2</tspan></text>
<text x="308.5" y="1106" font-family="Liberation Sans" font-size="20.3" font-weight="bold" fill="#000" text-anchor="middle" >11568.0</text>
<text x="286" y="1342" font-family="Liberation Sans" font-size="20.3" font-weight="bold" fill="#000" text-anchor="middle" >11567.3</text>
<line x1="279.8" y1="1112" x2="279.8" y2="1180" stroke="#000" stroke-width="1.6" stroke-dasharray="7 4"/>
<line x1="272.8" y1="1222" x2="272.8" y2="1322" stroke="#000" stroke-width="1.6" stroke-dasharray="7 4"/>
<line x1="279.5" y1="1172" x2="274.5" y2="1208" stroke="#000" stroke-width="1.5"/>
<path d="M273.5 1221 L270.8 1205.5 L278.3 1206.5Z" fill="#000"/>
<text x="38" y="1073" font-family="Liberation Sans" font-size="62.5" font-weight="bold" fill="#000" text-anchor="start" >d</text>
<g fill="none" stroke-width="3.4" stroke-linejoin="round">
<path d="M633.6 1269.7C635.4 1269.3 640.7 1266.9 644.2 1267.2C647.7 1267.5 651 1272.2 654.8 1271.5C658.6 1270.8 663.3 1262.8 667.2 1263C671 1263.2 674.5 1274.1 677.8 1272.5C681 1271 683.1 1261.4 686.6 1253.8C690.1 1246.3 694.9 1231 699 1227.3C703.1 1223.6 707.5 1233.6 711.3 1231.6C715.2 1229.5 717.8 1226.5 721.9 1214.9C726.1 1203.3 732 1182 736.1 1161.9C740.2 1141.9 743.7 1108.5 746.7 1094.8C749.6 1081.1 751.4 1080 753.7 1080C756.1 1080 758.2 1081.7 760.8 1094.8C763.5 1107.9 766.7 1129 769.6 1158.4C772.6 1187.9 775.5 1257.8 778.5 1271.5C781.4 1285.1 784.1 1240.2 787.3 1240.4C790.6 1240.6 794.1 1275.2 797.9 1272.5C801.7 1269.9 806.5 1228.2 810.3 1224.5C814.1 1220.8 817.6 1255.4 820.9 1250.3C824.1 1245.2 826.9 1207.7 829.7 1193.7C832.5 1179.8 834.8 1166.5 837.5 1166.5C840.1 1166.5 843.3 1183.8 845.6 1193.7C848 1203.7 849.3 1229.2 851.6 1226.3C854 1223.3 857.1 1187.6 859.8 1176.1C862.4 1164.6 864.9 1156.2 867.5 1157.3C870.2 1158.5 872.7 1165.7 875.7 1183.1C878.7 1200.6 882 1251.8 885.5 1261.9C889.1 1272.1 893.5 1243.3 896.9 1244.3C900.2 1245.3 903.5 1261.5 905.7 1268C907.9 1274.4 907.9 1283.6 910.3 1283.1C912.6 1282.7 916.3 1265.6 919.8 1265.1C923.3 1264.7 927.3 1280.4 931.1 1280.3C935 1280.2 938.8 1264.7 942.8 1264.4C946.8 1264.1 951 1278.9 955.2 1278.6C959.3 1278.2 963.2 1262.3 967.5 1262.3C971.8 1262.3 976.5 1277.9 981 1278.6C985.4 1279.2 989.7 1266.4 994 1266.2C998.4 1266 1002.7 1277.1 1007.1 1277.5C1011.5 1277.9 1016.2 1269.5 1020.5 1268.7C1024.8 1267.8 1028.2 1271.1 1032.9 1272.2C1037.6 1273.3 1044.4 1275.9 1048.8 1275C1053.2 1274.1 1056 1268.9 1059.4 1266.9C1062.8 1264.9 1067.6 1263.7 1069.3 1263" stroke="#8c8c8c"/>
<path d="M633.6 1336.9C634.8 1337.1 638 1337.3 640.7 1338.6C643.3 1340 645.9 1345.5 649.5 1345C653.2 1344.5 658.3 1336.1 662.6 1335.8C666.8 1335.4 670.9 1345.9 674.9 1342.9C679 1339.8 682 1326 686.6 1317.4C691.2 1308.9 697.5 1292.7 702.5 1291.6C707.5 1290.6 712.8 1313.2 716.6 1311.1C720.5 1308.9 721.9 1294.6 725.5 1278.6C729 1262.5 733.7 1228.2 737.8 1214.9C742 1201.7 746.1 1197.9 750.2 1199C754.3 1200.2 758.5 1208.8 762.6 1222C766.7 1235.3 771.4 1261.5 774.9 1278.6C778.5 1295.6 781.1 1314.7 783.8 1324.5C786.4 1334.3 787.9 1337.1 790.8 1337.6C793.8 1338 797.6 1329.3 801.4 1327C805.3 1324.7 809.4 1323 813.8 1323.8C818.2 1324.5 822.9 1328.3 828 1331.6C833 1334.8 839.1 1342.3 843.9 1343.2C848.6 1344.1 851.2 1338.6 856.2 1336.9C861.2 1335.1 867.4 1332.3 873.9 1332.6C880.4 1332.9 888 1336 895.1 1338.6C902.2 1341.3 909.2 1348.1 916.3 1348.5C923.4 1348.9 930.4 1341.9 937.5 1341.1C944.6 1340.3 951.6 1343.7 958.7 1343.9C965.8 1344.1 973.1 1341.3 979.9 1342.2C986.7 1343 992.9 1348.5 999.3 1349.2C1005.8 1349.9 1012 1347 1018.8 1346.4C1025.5 1345.8 1033.5 1346.7 1040 1345.7C1046.4 1344.7 1052.7 1341.2 1057.6 1340.4C1062.5 1339.6 1067.3 1341 1069.3 1341.1" stroke="#e8141c"/>
<path d="M633.6 1397.6C635.7 1396.9 641.6 1393.4 646 1393.4C650.4 1393.4 655.4 1397.9 660.1 1397.6C664.8 1397.3 669.7 1391.7 674.2 1391.6C678.8 1391.5 683.2 1398.4 687.3 1396.9C691.4 1395.5 695 1386.5 699 1382.8C703 1379.1 707.1 1374.8 711.3 1374.7C715.6 1374.5 720.3 1384.6 724.4 1382.1C728.5 1379.6 732.1 1366.8 736.1 1359.8C740.1 1352.9 745.5 1344.2 748.4 1340.4C751.4 1336.6 751.4 1336.3 753.7 1336.9C756.1 1337.4 759.3 1338.3 762.6 1343.9C765.8 1349.5 770.1 1364.5 773.2 1370.4C776.2 1376.3 778.3 1379.6 781 1379.3C783.6 1379 786.3 1371.5 789.1 1368.7C791.9 1365.8 794.7 1362 797.9 1362.3C801.2 1362.6 804.9 1367.7 808.5 1370.4C812.2 1373.1 816.3 1378 819.8 1378.6C823.4 1379.1 826.5 1375.6 829.7 1374C833 1372.3 836 1368.7 839.3 1368.7C842.5 1368.7 845.7 1370.4 849.2 1374C852.6 1377.5 856.6 1385.7 859.8 1389.9C862.9 1394 864.3 1398.5 867.9 1398.7C871.4 1398.9 876.4 1391.9 881 1390.9C885.5 1389.9 890.7 1391.4 895.1 1392.7C899.5 1394 903 1398.8 907.5 1398.7C911.9 1398.6 916.6 1392.8 921.6 1392.3C926.6 1391.9 931.9 1395.7 937.5 1395.9C943.1 1396 948.7 1394.1 955.2 1393.4C961.6 1392.7 969 1392.7 976.4 1391.6C983.7 1390.6 993.4 1387.3 999.3 1387C1005.2 1386.7 1007.6 1388.8 1011.7 1389.9C1015.8 1390.9 1019.4 1393.7 1024.1 1393.4C1028.8 1393.1 1034.7 1389.4 1040 1388.1C1045.3 1386.7 1051 1385.3 1055.9 1385.3C1060.8 1385.3 1067.1 1387.6 1069.3 1388.1" stroke="#1010d8"/>
<path d="M633.6 1482.4C635.7 1482 641.8 1480.1 646 1480C650.1 1479.8 654.1 1481.9 658.3 1481.7C662.6 1481.6 667.3 1478.7 671.4 1478.9C675.5 1479.1 679.7 1483.4 683.1 1482.8C686.5 1482.2 688.8 1477.2 691.9 1475.4C695 1473.5 698.2 1471.7 701.4 1471.8C704.7 1472 708.8 1474.5 711.3 1476.4C713.9 1478.4 714 1483.5 716.6 1483.5C719.3 1483.5 723.7 1476.4 727.2 1476.4C730.8 1476.4 734 1484.4 737.8 1483.5C741.7 1482.6 746.2 1471.7 750.2 1471.1C754.2 1470.5 758.3 1483.8 761.9 1480C765.4 1476.1 768.2 1455.2 771.4 1448.2C774.7 1441.1 777.8 1437.4 781.3 1437.6C784.8 1437.7 789 1452.8 792.6 1449.2C796.3 1445.7 799.5 1425.1 803.2 1416.4C806.9 1407.6 811.3 1399.3 814.9 1396.9C818.4 1394.6 821.4 1400.5 824.4 1402.2C827.5 1404 830 1406.1 833.3 1407.5C836.5 1409 840.6 1406.6 843.9 1411.1C847.1 1415.5 849.9 1424 852.7 1434C855.5 1444 858.4 1463.8 860.5 1471.1C862.5 1478.5 863 1478.2 865.1 1478.2C867.1 1478.2 869.9 1471.4 872.8 1471.1C875.8 1470.8 878.4 1477.9 882.7 1476.4C887 1475 893.3 1463.8 898.6 1462.3C903.9 1460.8 909.2 1465.7 914.5 1467.6C919.8 1469.5 925.7 1472.7 930.4 1473.6C935.1 1474.5 939 1474.8 942.8 1472.9C946.6 1471 949.9 1465.1 953.4 1462.3C956.9 1459.5 960.5 1455.9 964 1455.9C967.5 1455.9 971.2 1459.2 974.6 1462.3C978 1465.4 980.9 1474.8 984.1 1474.7C987.4 1474.5 990.3 1464.7 994 1461.6C997.7 1458.5 1002 1456.3 1006.4 1456.3C1010.8 1456.3 1015.5 1460 1020.5 1461.6C1025.5 1463.2 1031.4 1464.5 1036.4 1465.8C1041.4 1467.1 1045.1 1467.3 1050.6 1469.4C1056 1471.4 1066.2 1476.7 1069.3 1478.2" stroke="#1a8a86"/>
</g>
<rect x="633.0" y="1032.0" width="437.0" height="457.0" fill="none" stroke="#000" stroke-width="3.4"/>
<line x1="633" y1="1489.0" x2="633" y2="1497.0" stroke="#000" stroke-width="3"/>
<text x="633" y="1522" font-family="Liberation Sans" font-size="26" font-weight="bold" fill="#000" text-anchor="middle" >0</text>
<line x1="669.4" y1="1489.0" x2="669.4" y2="1493.5" stroke="#000" stroke-width="2.6"/>
<line x1="705.8" y1="1489.0" x2="705.8" y2="1497.0" stroke="#000" stroke-width="3"/>
<text x="705.8" y="1522" font-family="Liberation Sans" font-size="26" font-weight="bold" fill="#000" text-anchor="middle" >1</text>
<line x1="742.2" y1="1489.0" x2="742.2" y2="1493.5" stroke="#000" stroke-width="2.6"/>
<line x1="778.7" y1="1489.0" x2="778.7" y2="1497.0" stroke="#000" stroke-width="3"/>
<text x="778.7" y="1522" font-family="Liberation Sans" font-size="26" font-weight="bold" fill="#000" text-anchor="middle" >2</text>
<line x1="815.1" y1="1489.0" x2="815.1" y2="1493.5" stroke="#000" stroke-width="2.6"/>
<line x1="851.5" y1="1489.0" x2="851.5" y2="1497.0" stroke="#000" stroke-width="3"/>
<text x="851.5" y="1522" font-family="Liberation Sans" font-size="26" font-weight="bold" fill="#000" text-anchor="middle" >3</text>
<line x1="887.9" y1="1489.0" x2="887.9" y2="1493.5" stroke="#000" stroke-width="2.6"/>
<line x1="924.3" y1="1489.0" x2="924.3" y2="1497.0" stroke="#000" stroke-width="3"/>
<text x="924.3" y="1522" font-family="Liberation Sans" font-size="26" font-weight="bold" fill="#000" text-anchor="middle" >4</text>
<line x1="960.7" y1="1489.0" x2="960.7" y2="1493.5" stroke="#000" stroke-width="2.6"/>
<line x1="997.2" y1="1489.0" x2="997.2" y2="1497.0" stroke="#000" stroke-width="3"/>
<text x="997.2" y="1522" font-family="Liberation Sans" font-size="26" font-weight="bold" fill="#000" text-anchor="middle" >5</text>
<line x1="1033.6" y1="1489.0" x2="1033.6" y2="1493.5" stroke="#000" stroke-width="2.6"/>
<line x1="1070" y1="1489.0" x2="1070" y2="1497.0" stroke="#000" stroke-width="3"/>
<text x="1070" y="1522" font-family="Liberation Sans" font-size="26" font-weight="bold" fill="#000" text-anchor="middle" >6</text>
<text x="860" y="1552" font-family="Liberation Sans" font-size="26.5" font-weight="bold" fill="#000" text-anchor="middle" >R (Å)</text>
<text transform="translate(624,1262) rotate(-90)" font-size="24.5" font-weight="normal" text-anchor="middle">|χ <tspan font-weight="bold">(R)</tspan>| (Å<tspan font-size="16" dy="-9">-3</tspan><tspan dy="9">)</tspan></text>
<text x="957.5" y="1253" font-family="Liberation Sans" font-size="21.5" font-weight="bold" fill="#000" text-anchor="start" ><tspan font-size="21.5" dy="0">PtO</tspan><tspan font-size="13.3" dy="4.3">2</tspan></text>
<text x="957.5" y="1333.5" font-family="Liberation Sans" font-size="21.5" font-weight="bold" fill="#000" text-anchor="start" ><tspan font-size="21.5" dy="0">Pt</tspan><tspan font-size="13.3" dy="4.3">e</tspan></text>
<text x="957.5" y="1380.5" font-family="Liberation Sans" font-size="21.5" font-weight="bold" fill="#000" text-anchor="start" ><tspan font-size="21.5" dy="0">Pt</tspan><tspan font-size="13.3" dy="4.3">e</tspan><tspan font-size="21.5" dy="-4.3">-300A</tspan></text>
<text x="957.5" y="1447.5" font-family="Liberation Sans" font-size="21.5" font-weight="bold" fill="#000" text-anchor="start" >Pt foil *0.5</text>
<text x="756" y="1065" font-family="Liberation Sans" font-size="21.6" font-weight="bold" fill="#000" text-anchor="middle" >Pt-O</text>
<text x="828" y="1472" font-family="Liberation Sans" font-size="22" font-weight="bold" fill="#000" text-anchor="middle" >Pt-Pt</text>
<g stroke="#000" stroke-width="1.5" fill="none">
<line x1="753.7" y1="1073" x2="753.7" y2="1371"/>
<line x1="815.6" y1="1395" x2="815.6" y2="1449"/><line x1="843" y1="1400.5" x2="843" y2="1449"/>
<line x1="798" y1="1350" x2="798" y2="1376.5"/><line x1="838.6" y1="1350" x2="838.6" y2="1384.5"/>
<path d="M798 1376.5 C800 1386 812 1384 815.6 1395" stroke-dasharray="1.6 1.8"/>
<path d="M838.6 1384.5 C839 1392 842 1393 843 1400.5" stroke-dasharray="1.6 1.8"/>
</g>
<text x="584" y="1072" font-family="Liberation Sans" font-size="62.5" font-weight="bold" fill="#000" text-anchor="start" >e</text>
<rect x="1184.7" y="45.3" width="438.9" height="344.5" fill="#300000"/><path d="M1296.9 371.9L1292.9 372.3L1184.7 372.3L1184.7 208.7L1187.7 197.5L1191.2 179.5L1194.4 149.5L1196.7 137.4L1198.7 130.9L1200.7 126.3L1202.7 123.3L1206.7 119.7L1210.8 117.6L1216.8 116.1L1222.8 116L1224.8 117.1L1226.8 119L1228.8 122L1231.6 129.4L1234.2 141.4L1238 165.5L1240.8 174.9L1242.8 178.2L1244.8 180L1246.8 180.6L1248.8 180.3L1250.8 179.4L1252.8 177.7L1254.5 175.5L1257 169.5L1259.1 159.5L1261.2 141.4L1262.9 119.8L1263.6 95.4L1263.3 45.3L1378.3 45.3L1376.2 51.3L1374.9 59.3L1374.3 89.4L1375.1 100.6L1376.4 109.4L1377.1 111.8L1379.1 115.3L1381.1 116.4L1383.1 115L1385.3 109.4L1387.1 89.4L1386.5 59.3L1385.1 49.7L1383.6 45.3L1623.6 45.3L1623.6 267.6L1619.2 263.6L1614.3 257.6L1611.5 255.6L1607.6 254.2L1602.8 253.6L1579.5 252.8L1551.5 251.2L1541.4 252.3L1528.3 255.6L1524 257.6L1517.4 262.7L1513.4 265.2L1507.4 267.6L1499.3 269.1L1479.3 271.6L1458.1 277.6L1452.9 279.6L1445.2 285.4L1441.2 287.8L1437.2 289.4L1433.2 290.2L1429.2 289.9L1423.2 287.5L1419.2 284.4L1413.5 277.6L1409.2 275.6L1379.1 276.3L1376.2 277.6L1374.4 279.6L1373.7 281.6L1370.6 295.7L1370.1 301.7L1370.4 303.7L1373.1 305.8L1379.1 307L1409.2 307.1L1415.2 308.1L1418.2 309.7L1419.9 311.7L1420.3 313.7L1419.6 315.7L1418.1 317.7L1413.2 320.9L1409.2 322.2L1371.5 323.7L1359.6 325.7L1353 328L1337 336.5L1321 342L1317 344.1L1312.5 347.7L1308.6 353.7L1302.9 366.8L1300.5 369.8ZM1286.6 251.6L1289 249.6L1291.6 245.6L1293.5 239.6L1293.3 235.6L1292.2 231.6L1289.7 227.6L1286.9 225.3L1284.9 224.6L1282.9 224.6L1280.9 225.4L1278.9 227.1L1276.3 231.6L1275.3 235.6L1275.3 241.6L1276.3 245.6L1278.9 249.9L1280.9 251.6L1282.9 252.4L1284.9 252.3Z" fill="#6a0000" fill-rule="evenodd"/><path d="M1232.8 339.9L1220.8 340.6L1204.7 340L1192.7 338.6L1184.7 336.3L1184.7 264.2L1196.7 237.7L1200.7 230.8L1206.7 222.9L1212.8 216.4L1216.8 213.1L1220.8 211.7L1234.8 213.1L1246.8 213.4L1248.8 213.8L1251.4 215.5L1254 219.6L1255.3 223.6L1258.6 241.6L1260.9 250.1L1263.2 255.6L1264.9 258.3L1266.9 260.4L1269.6 261.6L1277.9 263.6L1286.9 264.3L1294.9 264.1L1296.9 263.6L1298.9 262.4L1300.8 259.6L1303.4 249.6L1304.8 237.6L1304.3 225.6L1302.5 211.5L1300.8 205.5L1296.9 196.7L1294.9 193.9L1284.9 185.2L1281 179.5L1279.1 173.5L1278.3 165.5L1277.2 129.4L1278 83.4L1278.8 73.3L1280.5 61.3L1283.7 45.3L1330.2 45.3L1331 54.2L1333 64.4L1335 68.7L1337 69.8L1339 68.2L1341 63.3L1342.8 53.3L1343.5 45.3L1369.8 45.3L1368.6 59.3L1368.6 83.4L1368.9 93.4L1370 107.4L1372.1 117.4L1375.1 125.9L1377.1 129.9L1378.4 131.4L1379.1 132.2L1381.1 133L1383.5 131.4L1385.1 128.8L1387.1 123.5L1389.1 116.2L1390.5 107.4L1391.7 83.4L1391.7 59.3L1390.7 45.3L1425.3 45.3L1425.7 53.3L1427.1 65.3L1429.2 71L1431.2 73.1L1433.2 72.5L1435.4 67.3L1437.2 54.2L1437.6 45.3L1623.6 45.3L1623.6 254.8L1615.6 250.3L1607.6 248.1L1579.5 247.4L1557.5 245.3L1547.4 245.3L1537.4 246.3L1525.4 248.3L1519.4 250.1L1501.3 256.5L1481.3 261.7L1465.3 267L1459.3 268.4L1449.2 269.9L1435.2 273L1429.2 272.8L1415.2 266.6L1409.2 265.2L1395.1 265.6L1377.1 267L1371.1 268.8L1366 271.6L1361.3 275.6L1349 288L1345 290.7L1341 292.2L1337 292.7L1333 292L1328.8 289.7L1319 281.5L1317 280.8L1315 281.2L1313 283.3L1311.1 287.7L1307.8 299.7L1305.6 305.7L1302.9 309.7L1296.9 316L1292.9 318.4L1286.9 320.6L1267.6 323.7L1264.3 325.7L1254.8 334L1250.8 336.4L1246.8 337.7Z" fill="#b00000" fill-rule="evenodd"/><path d="M1343 270.1L1337 271.6L1333 271.1L1315 265L1313 263.6L1311.7 259.6L1311.8 231.6L1310.6 215.5L1309.3 207.5L1304.2 189.5L1300.9 183.5L1293.7 173.5L1292.3 169.5L1290.5 161.5L1288.9 149.7L1287.6 131.4L1288 105.4L1288.9 92.2L1290.9 80.7L1292.9 75.4L1296.9 67.9L1298.9 62.9L1301.2 55.3L1303.2 45.3L1323.1 45.3L1324.1 67.3L1325.2 75.3L1327 83.4L1328.9 89.4L1331 93.5L1333 96.2L1334.5 97.4L1337 98.3L1339 97.7L1341 96.1L1343 93.4L1345 89.3L1347 83.2L1348.7 75.3L1349.8 67.3L1350.8 45.3L1362.8 45.3L1362.3 63.3L1362.8 83.4L1363.7 97.4L1365.3 111.4L1369.5 129.4L1372.9 139.4L1375.1 143.6L1377.1 146.1L1379.1 147.7L1381.1 148.2L1383.1 147.5L1385.1 145.4L1388 139.4L1390.7 129.4L1393.6 113.4L1395.5 87.4L1395.9 63.3L1395.7 45.3L1419.9 45.3L1421.2 65.3L1423.2 76.6L1425.2 83L1427.2 87.5L1429.2 90.2L1431.2 91.5L1433.2 91L1435.2 87.4L1438.6 75.3L1440.6 63.3L1441.8 45.3L1548.2 45.3L1549.4 55.8L1551.5 61.6L1553.5 62.2L1555.5 59.1L1556.6 55.3L1557.5 51.3L1558.2 45.3L1623.6 45.3L1623.6 247.7L1615.6 244.7L1607.6 243.1L1579.5 242.7L1555.5 239.7L1543.4 239.9L1527.4 241.8L1519.4 243.5L1495.3 250.6L1479.3 254.5L1465.3 259.9L1459.3 261.5L1443.2 262.1L1431.2 261.9L1427.2 261.1L1416.6 257.6L1411.2 256.5L1405.2 256.2L1393.1 256.8L1377.1 258.5L1367.1 260.6L1355 264.6ZM1236.8 319.9L1220.8 320.9L1214.8 320.6L1208.7 319.5L1203.6 317.7L1200.3 315.7L1198.4 313.7L1196 309.7L1194.5 305.7L1194.1 301.7L1194.6 297.7L1196.5 291.7L1202.2 279.6L1204.7 275.6L1208.7 271.2L1212.8 268.2L1216.8 266.3L1220.8 265.5L1232.8 265.8L1246.8 266.8L1248.8 267.7L1256.8 274.2L1262.9 276.7L1266.9 277.5L1272.9 277.9L1291.5 277.6L1294.9 278.1L1296.8 279.6L1296.8 283.6L1294.9 289.2L1290.4 295.7L1287.6 303.7L1282.8 307.7L1273 313.7L1270.9 314.3L1248.8 318.3Z" fill="#f00000" fill-rule="evenodd"/><path d="M1339 255.7L1333 255.1L1329 253.1L1325.7 249.6L1323 243.1L1321.6 235.6L1318.9 211.5L1312.1 185.5L1308.2 173.5L1305.6 159.5L1304.7 147.4L1304.5 127.4L1305 123.4L1307 118.4L1309 115.6L1311 113.7L1315 111.8L1317 111.8L1319 112.8L1325 118.3L1329 120.9L1335 122.8L1337 122.9L1341 122.1L1345 120.3L1353 115.3L1355 114.5L1357.1 114.4L1359.1 117.1L1361.1 122.6L1366.5 143.4L1369.1 150.6L1371.5 155.5L1375.1 160.4L1379.1 163.2L1381.1 163.6L1383.1 163.1L1385.1 161.7L1387.1 159.4L1389.1 155.7L1391.9 147.4L1393.9 137.4L1397.5 113.4L1399.7 87.4L1401 45.3L1414.4 45.3L1416.5 71.3L1418 81.4L1419.7 89.4L1422.3 97.4L1425.2 102.8L1427.3 105.4L1429.2 106.8L1431.2 107.6L1433.2 107.1L1435.2 104.2L1437.2 98.8L1439.2 91.1L1443.5 67.3L1445.3 45.3L1544.9 45.3L1545.6 55.3L1547.4 67L1549.4 72.2L1551.5 74.6L1553.5 74.9L1555.5 73.6L1557.5 70.6L1559.5 65.4L1561.5 54L1562.2 45.3L1623.6 45.3L1623.6 241.6L1615.6 239.2L1609.6 238L1580.7 237.6L1557.5 233.5L1545.4 233.4L1533.4 234.4L1523.4 235.8L1507.4 240.4L1491.3 245.8L1477.3 249.1L1463.3 253.3L1457.3 254.3L1447.2 254L1431.2 252.5L1413.2 249.1L1401.1 248.7L1377.1 249.8Z" fill="#ff2010" fill-rule="evenodd"/><path d="M1467.3 245.9L1459.3 247.3L1451.2 247.3L1413.2 241.8L1387.1 240.6L1379.1 240.6L1361.1 243.6L1351 244L1343 242.8L1339.7 241.6L1337 240L1334.9 237.6L1332.2 229.6L1327.6 195.5L1327.1 169.5L1328.6 161.5L1331 156.3L1333.7 153.5L1337 152.1L1347 152.3L1357.1 153.8L1359.1 155.6L1369.1 171.9L1374.5 177.5L1377.1 179.1L1381.1 180L1383.6 179.5L1387.1 177.3L1390.3 173.5L1392.4 169.5L1395.6 159.5L1397.7 147.4L1400.2 125.4L1403.1 105.5L1405.2 92.7L1407.2 84.9L1409.2 85.9L1415.7 105.4L1419.6 113.4L1423.1 117.4L1425.8 119.4L1429.2 120.9L1431.2 121.3L1433.2 121L1435.2 118.8L1437.2 114.4L1441.2 98.9L1446.7 67.3L1448.8 45.3L1542.2 45.3L1543.4 62L1545.4 72.8L1547.4 78.8L1549.4 82.8L1551.5 85L1553.5 85.3L1555.5 84L1557.5 81.5L1559.5 77.8L1561.5 72.6L1563.6 63.3L1565.5 45.3L1621.1 45.3L1623.6 53L1623.6 235.1L1613.6 232.2L1607.6 231.2L1579.5 231.1L1561.5 228L1553.5 227.3L1529.4 228.2L1521.4 229.5L1507.4 233.7L1487.3 241.5Z" fill="#ff4a08" fill-rule="evenodd"/><path d="M1465.3 239.9L1455.3 240.6L1447.2 240L1383.1 227.7L1377.1 227.8L1361.1 229.9L1355 230L1351 228.5L1347.8 225.6L1345.5 221.6L1344.2 215.5L1344.8 207.5L1346.8 199.5L1349 194.7L1351 191.9L1353 190.3L1355 189.4L1357.1 189.3L1359.1 189.8L1371.1 197.4L1375.1 198.9L1379.1 199.6L1383.1 199.4L1385.1 198.7L1389.1 195.8L1391.1 193.4L1397.1 183.1L1401 173.5L1402.5 165.5L1405.2 142.8L1407.2 133.7L1409.2 132.5L1411.2 132.4L1423.2 134.6L1429.2 134.7L1433.2 133.8L1435.2 131.9L1437.2 128.5L1439.2 123.3L1442.6 109.4L1450 67.3L1452.7 45.3L1501.3 45.3L1503.4 49.4L1505.4 51.9L1507.4 52.7L1509.4 51.6L1511.4 48.7L1512.8 45.3L1539.7 45.3L1541.1 65.3L1544.4 81.4L1547 89.4L1549.4 93.9L1551.5 95.8L1553.5 96L1555.5 94.9L1556.9 93.4L1559.5 89.5L1563.5 78.8L1566.5 65.3L1568.5 45.3L1615.7 45.3L1619.1 57.3L1623.6 68.9L1623.6 229L1613.6 225.6L1607.6 224.4L1581.5 224.6L1555.5 221.4L1527.4 221.6L1521.4 222.8L1505.4 228.2L1491.3 234.2L1485.3 236.3Z" fill="#ff7a10" fill-rule="evenodd"/><path d="M1477.3 231.7L1463.3 233.2L1453.3 233.4L1445.2 232.4L1429.2 229.2L1413.2 225.3L1407.2 223.1L1404 221.6L1401.2 219.6L1399.5 217.5L1398.9 215.5L1399.4 211.5L1403.5 199.5L1406.3 189.5L1416.5 161.5L1418.9 157.5L1421.2 154.8L1433.2 146L1435.2 143.8L1438 139.4L1440.6 133.4L1443.7 121.4L1451.2 80.7L1456.5 57.3L1458.5 45.3L1496.7 45.3L1499.3 54.7L1501.3 60L1503.4 64L1505.4 66.6L1507.4 67.5L1509.4 66.4L1511.4 63.5L1513.3 59.3L1515.4 53.1L1517.3 45.3L1537.1 45.3L1538.7 67.3L1540.7 79.3L1543.4 91.4L1545.4 97.8L1547.4 102.3L1549.4 105.4L1551.5 107.1L1553.5 107.3L1555.5 106.2L1559.5 101.2L1562.3 95.4L1565 87.4L1567.5 77.3L1569.4 67.3L1571.5 45.3L1609.3 45.3L1611.1 53.3L1614.2 63.3L1623.6 86.3L1623.6 222.8L1613.6 218.4L1607.6 217L1581.5 217.5L1555.5 214.5L1527.4 214.5L1523.4 215.2L1519.4 216.5L1489.3 229.2L1483.3 230.9Z" fill="#ffa010" fill-rule="evenodd"/><path d="M1473.3 225.7L1457.3 226.4L1449.2 225.9L1431.2 222.1L1424 219.6L1420.7 217.5L1418.9 215.5L1418 213.5L1416.4 207.5L1415.7 199.5L1415.6 191.5L1416.4 187.5L1417.8 183.5L1421 177.5L1426.2 169.5L1437.2 154.2L1440.5 147.4L1443.2 140.1L1445.9 129.4L1451.2 100.3L1455.3 84.6L1461.3 65.3L1464.9 45.3L1492.6 45.3L1496 61.3L1500.7 77.3L1503.4 83.1L1505.4 85.3L1507.4 86L1509.4 85.1L1511.4 82.8L1513.9 77.3L1518.5 61.3L1521.5 45.3L1534.1 45.3L1536 69.3L1538.9 87.4L1541.5 99.4L1544.4 109.4L1547.4 116.1L1549.4 118.7L1551.5 120.1L1553.5 120.3L1555.5 119.3L1557.5 117.3L1561.1 111.4L1564.4 103.4L1567.5 93.8L1570 83.4L1572.1 71.3L1574.9 45.3L1600.9 45.3L1603.1 55.3L1605.6 63.3L1615.6 85L1623.6 108.2L1623.6 214L1619.6 211.7L1615.6 210.1L1607.6 208.7L1581.5 209.6L1553.5 206.6L1527.4 207.6L1521.4 208.8L1515.4 210.9L1505.4 215.3L1493.5 221.6L1488.7 223.6L1483.3 224.9Z" fill="#ffc010" fill-rule="evenodd"/><path d="M1485.3 217.9L1475.3 218.4L1455.3 218.3L1448.7 217.5L1441.7 215.5L1431.2 210.6L1427.8 207.5L1425.2 203.1L1423.5 195.5L1423.6 191.5L1425.7 185.5L1437.2 170.5L1441.2 163L1444.1 155.5L1447.8 141.4L1453.3 113L1460.1 93.4L1468 67.3L1472.3 45.3L1488 45.3L1491.9 67.3L1497.3 88.7L1499.3 93.7L1501.3 97.2L1503.4 99.5L1505.4 100.9L1507.4 101.3L1509.4 100.8L1511.4 99.5L1513.4 97.2L1515.7 93.4L1518.7 85.4L1527.4 53.4L1529.4 53.5L1537.1 99.4L1541.4 119.5L1544.2 127.4L1547.4 133.6L1549.4 135.7L1551.5 136.8L1553.5 136.9L1555.5 135.8L1559.5 130.5L1563.5 121.7L1568.4 107.4L1572.1 93.4L1574.5 81.4L1579.5 45.3L1590.8 45.3L1597.9 69.3L1601.4 77.3L1611.6 96.4L1623.6 131.2L1623.6 196.5L1621.1 197.5L1615.6 198.6L1587.5 201L1577.5 200.7L1559.5 197.7L1553.5 197.2L1543.4 197.8L1527.4 200.1L1519.4 202.2L1505.4 207.6L1491.3 215.7Z" fill="#ffe000" fill-rule="evenodd"/><path d="M1483.3 209.7L1473.3 209.3L1455.3 207.2L1449.5 205.5L1443.2 202.7L1438.9 199.5L1437.2 197.5L1435.8 193.5L1437 189.5L1444.4 179.5L1447.2 173.5L1450.1 161.5L1455.3 132L1457.4 123.4L1459.6 117.4L1466.2 103.4L1473.3 79.9L1477.3 71.2L1479.3 68.3L1481.3 66.7L1483.3 67.4L1485.3 71.3L1487.3 77.3L1491.7 95.4L1494.4 103.4L1496.5 107.4L1499.3 111.5L1503.4 115.7L1505.4 117L1507.4 117.5L1511.4 117L1514.9 115.4L1517.4 113.4L1520.4 109.4L1525.4 98L1527.4 94.5L1529.4 94.7L1531.4 102L1536.7 137.4L1539 147.4L1540.7 151.5L1543.4 154.8L1547.4 157.2L1551.5 158.1L1553.5 158.1L1555.5 157.5L1557.5 156.2L1559.5 153.8L1561.5 149.8L1567.4 131.4L1572.5 113.4L1581.5 78.5L1583.5 75.9L1585.5 76.8L1589.5 82L1602.2 103.4L1606.1 111.4L1609.6 121.4L1613.7 139.4L1615.1 149.5L1616.1 171.5L1615.6 175.5L1613.6 179.7L1609.6 183.5L1605.6 185.2L1595.5 187.7L1587.5 188.9L1581.5 189L1577.5 188.5L1569.5 186.9L1559.5 184.1L1553.5 183.2L1543.4 183.8L1531.4 186L1523.4 188.5L1489.9 207.5Z" fill="#ffff20" fill-rule="evenodd"/><path d="M1487.3 197.9L1483.3 199L1477.3 198.7L1471.3 197.4L1465.3 194.9L1463.3 193.5L1460.5 189.5L1459.3 185.4L1458.3 177.5L1458.2 169.5L1459.1 159.5L1462.2 137.4L1465 125.4L1467.3 120.5L1471.3 115.1L1477.3 110.2L1481.3 108.7L1483.3 108.9L1485.3 109.9L1489.3 113.5L1494.2 119.4L1497.7 125.4L1506.8 147.4L1508.7 157.5L1509.5 165.5L1509.5 173.5L1507.8 177.5L1504 183.5L1499.3 189.4L1495.3 193.2L1491.3 196ZM1589.5 167.9L1583.5 169.2L1579.5 168.5L1577.5 167.4L1575.5 165.5L1574.3 163.5L1573.1 159.5L1572.5 155.5L1572.5 145.4L1577.3 123.4L1579.5 117.3L1581.5 113.9L1583.5 112.7L1586 113.4L1589.5 116L1593.5 122.2L1595.5 128.3L1598.2 143.4L1598.5 151.5L1598.1 155.5L1597 159.5L1595.5 162.5L1593.5 165.1Z" fill="#ffff70" fill-rule="evenodd"/><path d="M1485.3 188.2L1483.3 188.6L1479.3 188.4L1475.3 187.3L1472 185.5L1468.4 181.5L1466.7 177.5L1466 173.5L1466.1 167.5L1466.9 159.5L1469.3 145.3L1471.5 135.4L1473.3 130L1475.3 126.3L1477.3 124.3L1479.3 123.2L1481.3 122.7L1483.3 122.8L1484.6 123.4L1487.1 125.4L1489.3 129.3L1490.9 133.4L1495.2 149.5L1496.9 159.5L1497.6 167.5L1497.6 173.5L1496.6 177.5L1495.3 180.2L1491.3 185L1489.3 186.5Z" fill="#ffffc0" fill-rule="evenodd"/><path d="M1485.3 178.5L1483.3 179.3L1481.3 179.5L1479.3 178.9L1477 177.5L1475.3 175.5L1474.6 173.5L1474.6 167.5L1476 161.5L1477.3 158.2L1479.3 155L1481.3 153.5L1483.3 153.8L1485.3 156L1487.3 160.2L1489 167.5L1489.1 173.5L1487.3 176.8Z" fill="#ffffff" fill-rule="evenodd"/>
<rect x="1184.7" y="45.3" width="438.9" height="344.5" fill="none" stroke="#000" stroke-width="2"/>
<rect x="1629.8" y="365.2" width="24.4" height="25" fill="#300000"/><rect x="1629.8" y="340.6" width="24.4" height="25" fill="#6a0000"/><rect x="1629.8" y="316" width="24.4" height="25" fill="#b00000"/><rect x="1629.8" y="291.4" width="24.4" height="25" fill="#f00000"/><rect x="1629.8" y="266.8" width="24.4" height="25" fill="#ff2010"/><rect x="1629.8" y="242.2" width="24.4" height="25" fill="#ff4a08"/><rect x="1629.8" y="217.6" width="24.4" height="25" fill="#ff7a10"/><rect x="1629.8" y="192.9" width="24.4" height="25" fill="#ffa010"/><rect x="1629.8" y="168.3" width="24.4" height="25" fill="#ffc010"/><rect x="1629.8" y="143.7" width="24.4" height="25" fill="#ffe000"/><rect x="1629.8" y="119.1" width="24.4" height="25" fill="#ffff20"/><rect x="1629.8" y="94.5" width="24.4" height="25" fill="#ffff70"/><rect x="1629.8" y="69.9" width="24.4" height="25" fill="#ffffc0"/><rect x="1629.8" y="45.3" width="24.4" height="25" fill="#ffffff"/><rect x="1629.8" y="45.3" width="24.4" height="344.5" fill="none" stroke="#000" stroke-width="1.8"/><line x1="1654.2" y1="45.3" x2="1660.2" y2="45.3" stroke="#000" stroke-width="1.8"/><text x="1668.5" y="51.3" font-family="Liberation Sans" font-size="16.5" font-weight="bold" fill="#000" text-anchor="start" >0.54</text><line x1="1654.2" y1="143.7" x2="1660.2" y2="143.7" stroke="#000" stroke-width="1.8"/><text x="1668.5" y="149.7" font-family="Liberation Sans" font-size="16.5" font-weight="bold" fill="#000" text-anchor="start" >0.40</text><line x1="1654.2" y1="266.8" x2="1660.2" y2="266.8" stroke="#000" stroke-width="1.8"/><text x="1668.5" y="272.8" font-family="Liberation Sans" font-size="16.5" font-weight="bold" fill="#000" text-anchor="start" >0.20</text><line x1="1654.2" y1="389.8" x2="1660.2" y2="389.8" stroke="#000" stroke-width="1.8"/><text x="1668.5" y="395.8" font-family="Liberation Sans" font-size="16.5" font-weight="bold" fill="#000" text-anchor="start" >0.00</text>
<line x1="1177.7" y1="389.8" x2="1184.7" y2="389.8" stroke="#000" stroke-width="2"/>
<text x="1174.7" y="399.3" font-family="Liberation Sans" font-size="28" font-weight="bold" fill="#000" text-anchor="end" >0</text>
<line x1="1180.7" y1="346.2" x2="1184.7" y2="346.2" stroke="#000" stroke-width="1.6"/>
<line x1="1177.7" y1="302.5" x2="1184.7" y2="302.5" stroke="#000" stroke-width="2"/>
<text x="1174.7" y="312" font-family="Liberation Sans" font-size="28" font-weight="bold" fill="#000" text-anchor="end" >1</text>
<line x1="1180.7" y1="258.9" x2="1184.7" y2="258.9" stroke="#000" stroke-width="1.6"/>
<line x1="1177.7" y1="215.2" x2="1184.7" y2="215.2" stroke="#000" stroke-width="2"/>
<text x="1174.7" y="224.7" font-family="Liberation Sans" font-size="28" font-weight="bold" fill="#000" text-anchor="end" >2</text>
<line x1="1180.7" y1="171.6" x2="1184.7" y2="171.6" stroke="#000" stroke-width="1.6"/>
<line x1="1177.7" y1="127.9" x2="1184.7" y2="127.9" stroke="#000" stroke-width="2"/>
<text x="1174.7" y="137.4" font-family="Liberation Sans" font-size="28" font-weight="bold" fill="#000" text-anchor="end" >3</text>
<line x1="1180.7" y1="84.3" x2="1184.7" y2="84.3" stroke="#000" stroke-width="1.6"/>
<line x1="1184.7" y1="389.8" x2="1184.7" y2="396.8" stroke="#000" stroke-width="2"/>
<line x1="1221.3" y1="389.8" x2="1221.3" y2="393.8" stroke="#000" stroke-width="1.6"/>
<line x1="1257.8" y1="389.8" x2="1257.8" y2="396.8" stroke="#000" stroke-width="2"/>
<line x1="1294.4" y1="389.8" x2="1294.4" y2="393.8" stroke="#000" stroke-width="1.6"/>
<line x1="1331" y1="389.8" x2="1331" y2="396.8" stroke="#000" stroke-width="2"/>
<line x1="1367.6" y1="389.8" x2="1367.6" y2="393.8" stroke="#000" stroke-width="1.6"/>
<line x1="1404.2" y1="389.8" x2="1404.2" y2="396.8" stroke="#000" stroke-width="2"/>
<line x1="1440.7" y1="389.8" x2="1440.7" y2="393.8" stroke="#000" stroke-width="1.6"/>
<line x1="1477.3" y1="389.8" x2="1477.3" y2="396.8" stroke="#000" stroke-width="2"/>
<line x1="1513.9" y1="389.8" x2="1513.9" y2="393.8" stroke="#000" stroke-width="1.6"/>
<line x1="1550.4" y1="389.8" x2="1550.4" y2="396.8" stroke="#000" stroke-width="2"/>
<line x1="1587" y1="389.8" x2="1587" y2="393.8" stroke="#000" stroke-width="1.6"/>
<text transform="translate(1145,219.6) rotate(-90)" font-family="Liberation Serif" font-size="35.5" font-weight="normal" text-anchor="middle">R+a (Å)</text>
<rect x="1184.7" y="412.3" width="438.9" height="344.5" fill="#2d0000"/><path d="M1623.6 743.2L1184.7 743.2L1184.7 412.3L1623.6 412.3Z" fill="#2f0000" fill-rule="evenodd"/><path d="M1623.6 707.8L1184.7 707.2L1184.7 412.3L1623.6 412.3ZM1485.7 550.5L1486.3 544.5L1485.3 539.4L1483.3 540.4L1482.8 546.5L1483.3 550.6L1485.3 551.5ZM1572 564.5L1571.6 556.5L1569.5 556.4L1568.8 560.5L1569.5 566.2L1571.5 566.5ZM1584.1 672.7L1590.6 670.7L1590.6 668.7L1585.5 666.8L1581.5 666.5L1577.5 667L1573.2 668.7L1573.2 670.7L1575.5 671.8ZM1476.6 680.7L1477.4 678.7L1471 676.7L1461.6 676.7L1455.6 678.7L1456.2 680.7L1463.3 682.3L1471.3 682Z" fill="#370000" fill-rule="evenodd"/><path d="M1623.6 704.1L1355 704.3L1184.7 703.3L1184.7 412.3L1623.6 412.3ZM1233 488.4L1235.2 484.4L1236.8 476.5L1237.4 456.4L1236.8 447.6L1234.8 437.3L1232.8 433L1230.8 431.8L1228.8 432.3L1226.8 435L1224.8 441.1L1223.1 452.4L1222.8 462.4L1224.3 476.4L1226.8 485.2L1229.1 488.4L1230.8 489.2ZM1264.3 544.5L1266.9 536L1268.5 512.4L1266.9 495.1L1264.9 489.5L1262.9 490.2L1260.9 497.4L1259.7 512.4L1260.8 540.5L1262.9 545.2ZM1485.5 554.5L1487.3 549L1487.5 544.5L1487 540.5L1485.3 536L1483.3 536.6L1481.7 546.5L1483.3 554.2ZM1572 568.5L1573.2 564.5L1573.2 558.5L1571.5 552.9L1569.5 553.1L1567.9 558.5L1568 564.5L1569.5 569.4L1571.5 569.6ZM1587.6 674.7L1594.7 672.7L1596.6 670.7L1595.9 668.7L1589.5 665.9L1579.5 665.2L1571.4 666.7L1568 668.7L1567.3 670.7L1569.2 672.7L1573.5 674.2L1579.5 675ZM1480.9 682.7L1484.8 680.7L1485 678.7L1481.7 676.7L1475.3 675.3L1467.3 674.7L1459.3 675.2L1453.4 676.7L1450.2 678.7L1450.1 680.7L1451.2 681.6L1459.3 684.1L1471.3 684.3Z" fill="#460000" fill-rule="evenodd"/><path d="M1435.2 700.7L1355 702.4L1184.7 700.1L1184.7 412.3L1224.4 412.3L1217.4 420.3L1215.3 426.3L1214.2 432.3L1213 466.4L1213.9 484.4L1215.3 492.4L1217.6 498.4L1220.8 504L1226.8 510.1L1232.8 512.1L1244.8 512.6L1246.8 513.9L1248.8 517.8L1250.8 524.8L1255.6 550.5L1258.9 557.5L1260.9 559.7L1262.9 560.1L1264.9 558.5L1266.9 554.5L1268.9 547.9L1272.9 517.1L1271.8 486.4L1268.9 464.7L1264.9 449.2L1262.9 447.5L1260.9 449.7L1256.6 464.4L1252.8 473.1L1250.8 475L1248.8 473.7L1246.5 464.4L1245.3 438.3L1244 426.3L1241.1 418.3L1236 412.3L1623.6 412.3L1623.6 700.7ZM1359.2 520.5L1359.5 514.4L1359.1 511L1357.1 513.4L1357 516.5L1359.1 521.4ZM1485.9 556.5L1487.5 552.5L1488.2 544.5L1487.3 537.2L1485.3 533.4L1483.3 533.8L1482.2 536.5L1480.9 546.5L1481.3 551.3L1483.1 556.5L1485.3 557.4ZM1572.4 570.5L1574 564.5L1573.8 556.5L1571.5 550.5L1569.5 550.6L1567.3 556.5L1567.4 566.5L1569.5 571.9L1571.5 572ZM1593.8 676.7L1600 674.7L1602.3 672.7L1602.5 670.7L1601 668.7L1597.6 666.7L1590.4 664.7L1581.5 664L1573.5 664.7L1566.5 666.7L1563.3 668.7L1561.9 670.7L1562.1 672.7L1564.3 674.7L1571.5 677L1583.5 677.9ZM1478.2 686.7L1489.3 684.2L1493.3 681.1L1493.3 678.7L1490.9 676.7L1483.3 674.4L1473.3 673.3L1463.3 673.2L1455.3 674.3L1449.2 676.3L1445.8 678.7L1445.2 680.7L1447.2 683.2L1455.3 686.3L1465.3 687.4Z" fill="#540000" fill-rule="evenodd"/><path d="M1375.1 700.8L1270.9 699.9L1184.7 696.7L1184.7 550.2L1188.7 546.2L1194.7 534.2L1198.7 529L1202.7 526.8L1208.7 527L1218.8 530.8L1230.8 533.1L1234.8 534.7L1240.1 540.5L1247.6 556.5L1255.5 568.5L1258.9 571.3L1260.9 571.8L1262.9 571.1L1264.9 568.8L1266.9 564.4L1271.2 548.5L1276 514.4L1275.2 482.4L1272.2 438.3L1271.9 412.3L1623.6 412.3L1623.6 677.8L1617.6 675.8L1610.3 670.7L1602.8 666.7L1593.5 664L1583.5 663L1571.5 663.8L1563.5 666L1558.1 668.7L1549.4 676.3L1545.4 677.9L1541.4 678.3L1515.4 678.2L1489.3 672.7L1475.3 671.6L1461.3 671.8L1449.2 674.5L1441.5 678.7L1440.4 680.7L1440.3 682.7L1442.6 688.7L1442.2 690.7L1440.2 692.7L1437.2 694L1417.2 697.6ZM1359.1 536.5L1361.1 527.5L1361.8 514.4L1361.1 507.7L1359.1 504.7L1357.1 505.2L1356.4 506.4L1355 510.4L1354.8 514.4L1356.9 534.5ZM1486.1 558.5L1488.3 552.5L1488.8 544.5L1487.4 534.5L1485.3 531L1483.3 531.3L1481.3 535.5L1480.2 546.5L1481.9 556.5L1483.3 559.3L1485.3 559.6ZM1572.6 572.5L1574.5 566.5L1574.5 556.5L1572.9 550.5L1571.5 548.3L1569.5 548.4L1566.9 554.5L1566.7 566.5L1567.5 570.5L1569.5 574L1571.5 574.1Z" fill="#630000" fill-rule="evenodd"/><path d="M1385.1 698.8L1355 699.9L1270.9 698.3L1212.8 695.7L1184.7 693L1184.7 605.8L1188.7 603.5L1196.7 595.8L1202.7 592L1208.7 590.7L1230.8 589.4L1246.8 581.8L1260.9 580.5L1264.9 576.7L1266.9 572.5L1273.5 546.5L1278.5 514.4L1276.2 412.3L1406.5 412.3L1409.2 424.7L1411.2 429.7L1413.2 432.1L1415.2 430.8L1417.2 424.3L1418.5 412.3L1623.6 412.3L1623.6 669.9L1615.6 668.5L1597.5 663.5L1581.5 662L1567.5 663.3L1547.4 669.7L1537.4 670.9L1511.4 671.3L1481.3 669.8L1461.3 670.1L1451.2 672.2L1440.1 676.7L1437.2 678.7L1431.2 685.4L1416.8 692.7L1405.2 696ZM1359.7 540.5L1361.1 538L1361.6 534.5L1363.2 512.4L1361.7 504.4L1359.1 500.9L1357.1 501.3L1355 504.2L1353.5 514.4L1355.5 536.5L1357.1 540.7L1359.1 541.2ZM1486.3 560.5L1488.6 554.5L1489.5 544.5L1488.2 534.5L1487.3 531.4L1485.3 528.7L1483.3 528.9L1481.3 532.4L1480 538.5L1479.5 546.5L1481.3 558L1483.3 561.4L1485.3 561.7ZM1572.7 574.5L1575.2 566.5L1575.2 556.5L1573.5 549.1L1571.5 546.3L1569.5 546.4L1567.5 549.3L1566.2 554.5L1566 566.5L1567.5 573L1569.5 576L1571.5 576Z" fill="#730000" fill-rule="evenodd"/><path d="M1365.1 698.7L1302.9 697.9L1260.9 696.4L1210.8 692.9L1184.7 688.7L1184.7 625L1190.7 622.3L1212.8 607.7L1238.1 598.6L1258.9 588.3L1262.9 585.5L1267 578.5L1275.1 546.5L1280.7 514.4L1279.9 412.3L1401.7 412.3L1407.2 434.5L1410.5 442.3L1413.2 445.4L1415.2 445L1418 438.3L1419.7 428.3L1421.2 412.3L1623.6 412.3L1623.6 666.7L1595.5 661.8L1581.5 661L1567.5 662L1547.4 666.8L1535.4 668.2L1479.3 667.8L1461.3 668.5L1451.2 670.6L1439.9 674.7L1425.2 683.8L1403.1 693.8L1385.1 697.4ZM1360.5 542.5L1362.2 538.5L1363.1 533L1364.2 512.4L1363.1 503.6L1361.1 499.2L1359.1 497.6L1357.1 497.9L1354.2 502.4L1352.7 508.4L1352.5 516.5L1355 540.3L1357.1 543.3L1359.1 543.7ZM1486.3 562.5L1487.6 560.5L1489.3 554.6L1490 542.5L1488.5 532.5L1487.3 528.9L1485.3 526.4L1483.3 526.6L1481 530.5L1479.3 538.1L1478.9 546.5L1479.7 554.5L1481.3 560.5L1483.3 563.4L1485.3 563.6ZM1572.7 576.5L1575.6 568.5L1575.9 556.5L1573.5 546.8L1571.5 544.4L1569.5 544.5L1567.5 547L1565.8 552.5L1565.1 558.5L1565.3 566.5L1566.5 572.5L1568.4 576.5L1569.5 577.8L1571.5 577.9Z" fill="#840000" fill-rule="evenodd"/><path d="M1379.1 696.7L1363.1 697.8L1347 697.8L1262.9 695L1210.8 690.1L1198.7 687.7L1184.7 683.4L1184.7 642.1L1198.7 628.8L1212.8 618.3L1260.9 592.2L1264.9 588L1268.9 578.7L1277.5 542.5L1282.6 514.4L1283.2 412.3L1397.4 412.3L1399.6 422.3L1405.2 440.4L1409.2 449.8L1413.2 455L1415.2 454.9L1417.2 452.4L1419.2 446.6L1421.2 435.5L1423.2 412.3L1623.6 412.3L1623.6 664.3L1595.5 660.6L1579.5 659.9L1565.5 661L1545.4 664.9L1533.4 666.2L1481.3 666.1L1461.3 666.9L1452.4 668.7L1439.2 673.2L1401.1 691.9L1391.1 694.8ZM1360.7 544.5L1362.8 540.5L1363.6 536.5L1365.2 510.4L1363.1 499.3L1361.1 495.6L1359.1 494.1L1357.1 494.6L1355 496.9L1353 501.6L1351.7 508.4L1351.5 516.5L1354.1 540.5L1355 543L1357.1 545.3L1359.1 545.6ZM1486.3 564.5L1487.7 562.5L1489.6 556.5L1490.5 542.5L1488.8 530.5L1487.3 526.4L1485.3 524.1L1483.1 524.5L1481.3 526.8L1480 530.5L1478.6 538.5L1478.3 546.5L1479.3 556.5L1481.3 562.9L1483.3 565.4L1485.3 565.5ZM1572.7 578.5L1574 576.5L1575.9 570.5L1576.5 556.5L1575.5 550.2L1573.5 544.7L1571.5 542.5L1569.5 542.5L1567.5 544.8L1565.5 550.5L1564.5 558.5L1564.7 566.5L1565.7 572.5L1567.5 577.4L1569.5 579.6L1571.5 579.7Z" fill="#960000" fill-rule="evenodd"/><path d="M1363.1 696.8L1292.9 695.2L1262.9 693.5L1232.8 690.4L1214.8 687.8L1201.7 684.7L1192.4 680.7L1184.7 674.9L1184.7 657.9L1196.7 640.3L1204.7 633L1221.2 620.6L1260.9 595.9L1264.9 592.1L1268.5 584.5L1279 542.5L1284.2 516.5L1286.4 412.3L1393.3 412.3L1397.3 428.3L1405.2 449.5L1411.2 461.5L1413.2 463.3L1415.2 463.5L1417.2 461.5L1419.2 456.9L1421.2 448.7L1423.2 434.5L1424.9 412.3L1623.6 412.3L1623.6 662L1595.5 659.3L1577.5 658.8L1565.5 659.6L1531.4 664.4L1481.3 664.4L1461.3 665.4L1451.2 667.5L1436.3 672.7L1403.1 688.7L1395.1 691.9L1381.1 695.2ZM1360.4 546.5L1363.1 542.7L1364.1 538.5L1366.1 510.4L1365.2 502.4L1363.5 496.4L1361.1 491.6L1359.1 490.1L1357.1 490.6L1353 497.6L1351 506L1350.6 514.4L1353.1 540.5L1354.7 544.5L1356.5 546.5L1359.1 547.2ZM1486.3 566.5L1488.7 562.5L1490.2 556.5L1491 540.5L1490 532.5L1488.4 526.5L1485.3 521.7L1483.3 521.8L1481.1 524.5L1478.7 532.5L1477.8 540.5L1477.8 550.5L1479 558.5L1481.3 565.1L1483.3 567.3L1485.3 567.4ZM1572.5 580.5L1575 576.5L1576.5 570.5L1577.1 556.5L1574.4 544.5L1571.5 540.6L1569.5 540.6L1566.6 544.5L1564.8 550.5L1563.9 558.5L1564.1 566.5L1565.5 574.5L1567.5 579.4L1569.5 581.4L1571.5 581.5Z" fill="#a70000" fill-rule="evenodd"/><path d="M1375.1 694.8L1359.1 695.9L1335 695.6L1292.9 694L1254.8 691.1L1226.8 687.1L1208.7 683L1198.7 678.7L1196.3 676.7L1194 672.7L1193.3 664.7L1193.7 658.7L1197.1 650.6L1202.4 642.6L1229.7 620.6L1262.9 597.3L1266.8 592.6L1268.9 587.9L1280.9 540.7L1285.7 516.5L1289.3 412.3L1389.5 412.3L1391 420.3L1394.6 432.3L1405.5 458.4L1411.2 468.8L1413.2 470.5L1415.2 470.8L1417.2 469.3L1419.2 465.7L1421.8 456.4L1424.4 438.3L1426.5 412.3L1623.6 412.3L1623.6 660L1595.5 658L1573.5 657.6L1529.4 662.7L1479.3 662.9L1459.3 664.2L1449.2 666.7L1432.4 672.7L1395.1 690L1385.1 693.1ZM1359.4 548.5L1361.1 547.6L1363.1 544.9L1364.6 540.5L1367 512.4L1366.5 504.4L1365.1 496.6L1361.1 485.5L1359.1 482.9L1357.1 484.3L1352.1 496.4L1350.3 504.4L1349.8 514.4L1351 531.9L1352.8 542.5L1355 546.8L1357.1 548.4ZM1486.3 568.5L1488.8 564.5L1490.5 558.5L1491.5 550.5L1491.6 540.5L1490.7 532.5L1488.7 524.5L1487.3 521.2L1485.3 519.1L1483.3 519.1L1481.3 521.2L1478.6 528.5L1477.2 538.5L1477.1 548.5L1478.2 558.5L1479.9 564.5L1481.3 567.3L1483.3 569.2L1485.3 569.3ZM1572.4 582.5L1575.1 578.5L1576.9 572.5L1577.8 564.5L1577.7 556.5L1576.5 548.5L1574.6 542.5L1571.5 538.5L1569.5 538.5L1566.4 542.5L1564.4 548.5L1563.4 556.5L1563.3 564.5L1564.7 574.5L1567 580.5L1569.5 583.2L1571.5 583.3Z" fill="#b80000" fill-rule="evenodd"/><path d="M1365.1 694.8L1339 694.8L1298.9 693.3L1254.8 689.4L1234.8 686L1213.5 680.7L1205.1 676.7L1203 674.7L1201.1 670.7L1200.3 664.7L1200.6 658.7L1202.7 652.6L1207.8 644.6L1235.7 620.6L1262.9 600L1266.9 595.4L1269.3 590.6L1282.3 540.5L1286.9 518.5L1292.1 412.3L1385.3 412.3L1388.6 426.3L1394.5 442.3L1409.2 472.7L1413.2 476.9L1415.2 477.3L1417.2 476.1L1419.2 473.3L1423.2 459.5L1425.8 440.3L1428.1 412.3L1623.6 412.3L1623.6 658.1L1571.5 656.3L1529.4 661L1481.3 661.4L1460.7 662.7L1451.2 664.7L1433.7 670.7L1391.1 689.8L1379.1 693ZM1361.6 548.5L1364.1 544.5L1365.7 538.5L1367.5 520.5L1367.8 508.4L1366.7 498.4L1362 474.4L1361.1 470L1359.1 467.3L1357.1 470.3L1350.4 498.4L1349.1 508.4L1349 516.5L1350.9 536.5L1352.8 544.5L1355 548.3L1357.1 549.7L1359.1 550ZM1486.2 570.5L1488.9 566.5L1490.7 560.5L1492 550.5L1492.1 540.5L1491.1 530.5L1489.3 522.9L1487.3 518.3L1485.3 516.2L1483.3 516.1L1481 518.5L1478.1 526.5L1476.6 536.5L1476.4 548.5L1477.4 558.5L1479.7 566.5L1481.3 569.5L1483.3 571.2ZM1572.3 584.5L1575.3 580.5L1577.2 574.5L1578.3 566.5L1578.3 556.5L1577.3 548.5L1575.5 542L1573.5 538.1L1571.5 536.3L1569.5 536.3L1566.1 540.5L1564.1 546.5L1562.8 554.5L1562.6 564.5L1563.9 574.5L1565.9 580.5L1567.5 583.4L1569.5 585.1Z" fill="#c80000" fill-rule="evenodd"/><path d="M1373.1 692.8L1359.1 694.1L1335 693.8L1296.9 692.1L1260.8 688.7L1239.3 684.7L1219.4 678.7L1211.9 674.7L1210 672.7L1208 668.7L1206.9 662.7L1207.2 658.7L1209.4 652.6L1213.1 646.6L1240.4 620.6L1253.7 610.6L1262.9 602.5L1267.7 596.6L1270.9 589.5L1283.7 540.5L1288.1 518.5L1291.3 458.4L1294.9 412.3L1376.4 412.3L1381.1 419.9L1390.2 442.3L1407.2 475.5L1411.2 481.3L1413.2 482.9L1415.2 483.3L1417.2 482.5L1419.2 480.1L1421.2 475.9L1423.8 466.4L1426.7 446.3L1429.7 412.3L1623.6 412.3L1623.6 656.3L1569.5 654.8L1529.4 659.3L1481.3 660L1461.3 661.3L1451.2 663.4L1435.2 668.8L1391.1 688.3ZM1360.8 550.5L1364 546.5L1366 540.5L1368.1 522.5L1368.6 508.4L1365.9 484.4L1363.9 454.4L1363.1 449.4L1361.1 444.7L1359.1 444.6L1357.1 448.3L1355 457.2L1352 484.4L1348.8 502.4L1348.2 514.4L1350.2 536.5L1352 544.5L1354.1 548.5L1356.2 550.5L1359.1 551.2ZM1486.2 572.5L1489.3 568.1L1491.3 561L1492.6 550.5L1492.7 540.5L1491.5 528.5L1489.3 519.4L1487.3 514.9L1485.3 512.8L1483.3 512.5L1481.3 514.1L1479.3 517.9L1477 526.5L1475.7 538.5L1475.8 550.5L1477 560.5L1479.3 568.3L1481.3 571.6L1483.3 573.2ZM1572.4 586.6L1575.5 582.6L1578 574.5L1579 566.5L1579 556.5L1577.6 546.5L1575.5 539.2L1573.5 535.6L1571.5 533.9L1569.5 533.9L1567.5 535.4L1565.7 538.5L1563.6 544.5L1562.1 554.5L1562 564.5L1563.2 574.5L1565.5 582.2L1567.5 585.5L1569.5 587.1Z" fill="#d80000" fill-rule="evenodd"/><path d="M1365.1 692.8L1339 693L1300.9 691.3L1258.3 686.7L1240.5 682.7L1225 676.7L1220.8 674.2L1217 670.7L1214.1 664.7L1213.6 660.7L1214.3 656.7L1219.7 646.6L1242 622.6L1254.8 612.5L1262.9 604.9L1268 598.6L1271 592.6L1284.9 540.6L1289 520.5L1293 458.4L1298.1 412.3L1351.1 412.3L1352.6 428.3L1352.8 442.3L1350.4 484.4L1347.6 506.4L1347.5 516.5L1349.3 534.5L1351 543.9L1353 548.4L1355 551L1359.1 552.5L1362.3 550.5L1364.9 546.5L1367.4 536.5L1369.5 510.4L1367.8 482.4L1368.8 454.4L1371.1 440.1L1373.1 435.8L1375.1 433.8L1377.1 433.3L1379.1 434.1L1381.1 436L1407.2 481.5L1411.2 487L1415.2 489.1L1417.2 488.6L1419.2 486.6L1421.2 483.1L1424.9 470.4L1427.8 450.4L1431.3 412.3L1623.6 412.3L1623.6 654.6L1569.5 653.2L1529.4 657.8L1479.3 658.7L1459.3 660.3L1449.2 662.7L1432.1 668.7L1389.1 687.6L1377.1 691ZM1486.2 574.5L1489.3 570.5L1491.7 562.5L1493.1 550.5L1493.1 538.5L1491.9 526.5L1489.3 515.4L1487.3 510.8L1485.3 508.4L1483.3 507.9L1481.3 509.2L1479.3 512.6L1476.9 520.5L1475.1 534.5L1474.8 548.5L1476.1 560.5L1478.2 568.5L1481.3 573.8L1483.3 575.2ZM1572.6 588.6L1575.8 584.5L1578.4 576.5L1579.6 566.5L1579.6 556.5L1578.5 546.5L1575.6 536.5L1573.5 532.8L1571.5 531.1L1569.5 531.1L1567.5 532.5L1565.5 535.6L1563.1 542.5L1561.5 552.5L1561.3 564.5L1562.7 576.5L1565.5 584.7L1567.5 587.7L1569.5 589.2Z" fill="#e80000" fill-rule="evenodd"/><path d="M1371.1 691L1359.1 692.3L1333 691.9L1296.9 689.9L1260.9 685.6L1244.8 681.7L1232.8 676.7L1224.8 670.7L1221.8 666.7L1220.3 662.7L1220.3 658.7L1221.5 654.7L1227 644.6L1243.5 624.6L1257.7 612.6L1264.9 605.1L1268.9 599.6L1272 592.6L1285.6 542.5L1289.8 522.5L1291.5 508.4L1295 456.4L1302.1 412.3L1345.9 412.3L1348.7 430.3L1349.8 450.4L1349 484.4L1346.7 508.4L1347.2 522.5L1349.2 538.5L1351 545.9L1355 552.2L1359.1 553.6L1361.5 552.5L1364.7 548.5L1367.7 538.5L1370.3 512.4L1369.6 486.4L1370 476.4L1372.3 460.4L1375.1 451.5L1377.1 449L1379.1 448.5L1383.1 451.1L1397.1 470.3L1409.2 489.9L1413.2 493.9L1415.2 494.6L1417.2 494.2L1419.2 492.8L1421.9 488.4L1426.1 474.4L1428.7 456.4L1433.1 412.3L1474.4 412.3L1479.3 424L1481.3 427.1L1483.3 428.5L1485.3 427.9L1487.3 425.3L1491.3 417L1492.6 412.3L1623.6 412.3L1623.6 652.9L1569.5 651.5L1529.4 656.2L1479.3 657.5L1459.3 659.2L1449.2 661.5L1434.2 666.7L1414.4 674.7L1389.1 686.3ZM1486.4 576.5L1489.5 572.5L1492.5 562.5L1493.8 550.5L1493.8 538.5L1492.4 524.5L1489.3 510.1L1485.3 501.2L1483.3 499.8L1481.3 500.8L1479.3 504.2L1476.3 514.4L1474.2 530.5L1473.9 548.5L1475.1 560.5L1477.8 570.5L1481.3 576.1L1483.3 577.3ZM1573.3 590.6L1576.2 586.6L1578.9 578.5L1580.3 568.5L1580.4 556.5L1579 544.5L1576.2 534.5L1573.5 529.3L1571.5 527.7L1569.5 527.6L1567.5 528.9L1565.5 531.8L1562.4 540.5L1560.6 552.5L1560.5 566.5L1562.3 578.5L1565.5 587.4L1569.5 591.5L1571.5 591.5Z" fill="#f20402" fill-rule="evenodd"/><path d="M1365.1 690.9L1339 691.3L1300.9 689.1L1260.9 684L1248.1 680.7L1238.9 676.7L1231.2 670.7L1228 666.7L1226.4 662.7L1226.2 658.7L1227.1 654.7L1233 642.6L1244.8 626.6L1258.9 613.9L1264.9 607.5L1269.6 600.6L1272.9 593L1286.8 542.5L1290.2 526.5L1292.5 510.4L1296.9 455.5L1302.9 426.5L1307.5 412.3L1340.1 412.3L1345 429.4L1347.5 450.4L1347.7 482.4L1345.9 510.4L1348 534.5L1349.3 542.5L1351.5 548.5L1355 553.4L1359.1 554.8L1361.1 554.1L1364.4 550.5L1368 540.5L1371 514.4L1371.9 480.4L1373.8 470.4L1377.1 462.3L1379.1 460.8L1381.1 460.7L1385.1 463.5L1397.1 477L1411.2 497.2L1415.2 499.7L1419.2 498.5L1423.4 492.4L1427.3 478.4L1435.2 412.3L1465.3 412.3L1470.9 430.3L1472.9 452.4L1473 486.4L1474.1 504.4L1472.7 542.5L1473.7 558.5L1474.6 564.5L1477.2 572.5L1479.6 576.5L1483.3 579.5L1485.3 579.5L1487.3 578.2L1489.8 574.5L1492.4 566.5L1494 556.5L1494.2 534.5L1492.8 520.5L1488.2 492.4L1488.2 470.4L1488.9 458.4L1490.9 444.3L1493.9 430.3L1499.3 412.3L1623.6 412.3L1623.6 651.1L1569.5 649.7L1529.4 654.8L1479.3 656.4L1459.3 658L1448.1 660.7L1435.2 665.1L1416.1 672.7L1397.1 681.8L1387.1 685.8L1375.1 689.1ZM1574 592.6L1577.7 586.6L1580.3 576.5L1581.3 566.5L1581.1 554.5L1579.2 540.5L1576.4 530.5L1573.5 524.7L1571.5 522.9L1569.5 522.6L1567.5 523.9L1565.5 526.8L1562 536.5L1559.8 550.5L1559.7 566.5L1561.7 580.5L1565.5 590.3L1569.5 593.9L1571.5 594Z" fill="#f60c06" fill-rule="evenodd"/><path d="M1371.1 689L1359.1 690.5L1335 690.3L1296.9 687.7L1264.9 683.3L1252.8 680.2L1242.8 675.9L1234.7 668.7L1231.5 662.7L1231.3 658.7L1232.6 652.6L1237.9 640.6L1247.8 626.6L1264.9 609.8L1269.7 602.6L1273.3 594.6L1287.4 544.5L1291.3 526.5L1293.6 510.4L1297.9 462.4L1299.9 450.4L1307 425L1309.1 420.3L1313 415.2L1315.7 412.3L1328.4 412.3L1337 420.2L1341 428.7L1344.2 442.3L1345.9 456.4L1346.3 484.4L1345.1 512.4L1347.6 536.5L1349.2 544.5L1351.8 550.5L1355 554.6L1359.1 555.9L1362 554.5L1365.1 550.9L1368.3 542.5L1371.7 516.5L1373.1 488.4L1375.1 478.2L1377.1 473.6L1379.1 471.5L1381.1 470.9L1385.1 472.6L1397.1 483.1L1411.2 501.8L1415.2 504.6L1419.2 504L1422.7 500.4L1424.9 496.4L1428.3 484.4L1435.2 428L1438.2 412.3L1455.1 412.3L1460.6 424.3L1462.6 432.3L1463.5 486.4L1464.4 492.4L1469.7 512.4L1471.7 552.5L1472.8 562.5L1476.5 574.5L1479.3 579L1483.3 581.8L1485.3 581.8L1487.3 580.6L1490.1 576.5L1492.4 570.5L1494.2 560.5L1495 536.5L1491.8 496.4L1493.1 466.4L1494.6 452.4L1497.2 438.3L1500 428.3L1505.9 412.3L1623.6 412.3L1623.6 649.1L1593.5 648.9L1569.5 647.7L1529.4 653.3L1479.3 655.2L1459.3 657L1451.2 658.7L1439.2 662.5L1413.4 672.7L1391.1 683.1ZM1571.8 596.6L1573.5 595.9L1576.6 592.6L1579.9 584.5L1581.9 572.5L1582.4 560.5L1581.1 544.5L1578.4 530.5L1573.5 515.7L1571.5 512L1569.5 510.9L1567.5 513L1565.5 517.3L1560.5 534.5L1558.6 548.5L1558.4 562.5L1560.1 578.5L1562.9 588.6L1565.5 593.4L1567.5 595.5L1569.5 596.6Z" fill="#f9140a" fill-rule="evenodd"/><path d="M1367.1 688.7L1357.1 689.6L1333 689.2L1296.9 686.6L1266.9 682.1L1254.1 678.7L1245.7 674.7L1239.2 668.7L1236 662.7L1235.6 658.7L1236.6 652.6L1238.2 646.6L1241 640.6L1249 628.6L1266.9 609.5L1270.9 602.8L1274.3 594.6L1288.5 544.5L1292 528.5L1294.2 514.4L1299.2 466.4L1301.1 454.4L1307.6 432.3L1313 422.3L1315 420.3L1319 418.5L1323 418.4L1327 419.6L1331 422.1L1334.8 426.3L1339.6 436.3L1342.8 448.4L1344.2 460.4L1345 484.4L1344.3 512.4L1347.3 538.5L1349.3 546.5L1352.2 552.5L1355 555.8L1359.1 557.1L1363.1 554.9L1364.9 552.5L1368.4 544.5L1371.9 522.5L1375.1 490.4L1377.1 483.7L1379.1 480.9L1381.1 479.9L1385.1 480.8L1395.1 486.8L1401.1 492.5L1411.2 506.4L1415.2 509.5L1419.2 509.4L1421.2 508.2L1424.6 504.4L1428.1 496.4L1430.3 486.4L1435.2 444.8L1439 424.3L1441.2 419.2L1443.2 417.6L1445.2 417.6L1447.2 418.8L1452.6 426.3L1455 434.3L1456.6 450.4L1457.8 490.4L1459.3 497.9L1467.3 525.8L1470 556.5L1471.7 566.5L1476.8 578.5L1479.3 581.8L1483.3 584.3L1487.3 583.1L1490.6 578.5L1492.8 572.5L1494.8 562.5L1495.9 542.5L1494.1 506.4L1494.5 490.4L1497.8 456.4L1500.3 444.3L1503.4 434L1513 412.3L1544.7 412.3L1550.6 424.3L1553.7 434.3L1560 480.4L1560.5 510.4L1556.9 550.5L1558.1 574.5L1560.6 586.6L1563.5 593.8L1567.5 598.5L1571.5 599.7L1573.5 599L1576.5 596.6L1579.9 590.6L1582.4 580.5L1583.4 570.5L1583 550.5L1578.5 518.5L1577.8 506.4L1579.8 434.3L1582.1 412.3L1623.6 412.3L1623.6 646.9L1593.5 646.9L1569.5 645.6L1529.4 651.8L1479.3 654.1L1459.3 655.9L1449.2 658.1L1437.2 662.1L1411.2 672.5L1387.1 683.5Z" fill="#fd1c0e" fill-rule="evenodd"/><path d="M1357.1 688.7L1337 688.6L1300.9 685.9L1264.9 680.1L1254.4 676.7L1247.5 672.7L1241.7 666.7L1239.5 660.7L1240.9 648.6L1243.9 640.6L1251.8 628.6L1266.9 611.8L1270.9 605.2L1274.9 595.6L1289 546.5L1292.6 530.5L1295.3 514.4L1300.9 466.7L1302.9 455.5L1309 436.9L1312.1 430.3L1315 426.6L1317 425L1321 423.9L1325 424.7L1327.7 426.3L1333.3 432.3L1339 444.5L1341.5 454.4L1342.9 466.4L1343.7 486.4L1343.6 514.4L1346.7 538.5L1348.6 546.5L1351.3 552.5L1355 557L1359.1 558.2L1361.1 557.6L1364.4 554.5L1368.4 546.5L1370.7 536.5L1375.9 498.4L1377.1 493.3L1379.1 489.4L1380.4 488.4L1383.1 487.6L1385.1 487.9L1393.1 490.8L1397.1 493.1L1403.1 499.2L1411.2 510.9L1415.2 514.2L1417.2 514.8L1421.2 514.1L1423.6 512.4L1427 508.4L1429.7 502.4L1432 492.4L1437.2 449.4L1439.2 439.4L1441.2 434.1L1443.2 432.2L1445.2 432.8L1448.3 438.3L1450.4 446.3L1451.8 458.4L1453.9 496.4L1457.3 511.6L1464.2 536.5L1468.3 564.5L1472.2 574.5L1477.3 582.5L1481.3 586.2L1485.3 586.8L1489.3 583.7L1492.1 578.5L1494.4 570.5L1495.6 562.5L1496.6 544.5L1496.1 500.4L1499.3 468.6L1502.4 452.4L1507.4 437.6L1515.4 422.2L1523.4 412.7L1528 412.3L1529.4 413.2L1535.4 419.1L1540.2 426.3L1544.4 436.3L1547.1 446.3L1553.1 474.4L1554.6 486.4L1555.4 510.4L1554.6 548.5L1556.6 576.5L1559.2 588.6L1562.6 596.6L1567.5 602L1571.5 603L1576.6 600.6L1581.2 594.6L1583.2 588.6L1584.6 578.5L1585 558.5L1582.2 526.5L1581.8 510.4L1585.7 442.3L1588.4 424.3L1591.5 417.1L1595.2 412.3L1601.5 412.3L1613.6 420.7L1619.6 423.5L1623.6 424.4L1623.6 644.3L1595.5 644.7L1567.5 643.6L1527.4 650.5L1479.3 653L1459.3 654.9L1449.2 657L1438 660.7L1413.1 670.7L1385.1 683.1L1369.1 687.4Z" fill="#ff250f" fill-rule="evenodd"/><path d="M1367.1 686.8L1357.1 687.8L1335 687.6L1298.9 684.6L1272.9 680.3L1260.9 677.2L1252.8 673.3L1247.2 668.7L1243.6 662.7L1243.1 658.7L1243.7 650.6L1246.7 640.6L1254.5 628.6L1268.9 611.1L1275.5 596.6L1292.4 536.5L1296.2 516.5L1304.4 458.4L1309 444.1L1315 432.8L1317 430.9L1321 429.6L1324.1 430.3L1327 432.1L1333 439.6L1337.8 450.4L1341.2 468.4L1342.4 486.4L1342.8 514.4L1346.1 538.5L1348 546.5L1350.5 552.5L1353 556.3L1357.1 559.2L1359.1 559.4L1363.1 557.4L1365.4 554.5L1368.4 548.5L1370.7 540.5L1377.1 502.1L1379.1 497.1L1381.1 494.9L1383.1 494.1L1387.1 494.2L1393.1 495.5L1397.1 497.3L1403.1 503.2L1411.2 515.3L1413.2 517.5L1417.2 519.8L1423.2 519.2L1429.2 514.5L1432.5 508.4L1434.1 502.4L1439.2 462.7L1441.2 454.9L1443.2 453.5L1445.2 457.2L1446.1 462.4L1448.8 496.4L1451.7 516.5L1463.2 562.5L1466.5 570.5L1474.5 582.5L1479.3 587.8L1483.3 589.7L1487.3 588.7L1490.9 584.5L1494.1 576.5L1495.9 568.5L1497.3 550.5L1497.9 502.4L1501.3 475.4L1504.8 458.4L1509.9 444.3L1517.4 430.6L1521.4 426.4L1523.4 425.3L1525.4 424.9L1529.4 426.2L1534.9 432.3L1538.7 440.3L1549.1 480.4L1551 504.4L1551.5 548.5L1553.8 572.5L1556.3 586.6L1558.8 594.6L1563.5 602.4L1567.5 606.1L1571.5 607.1L1575.5 606L1581.9 600.6L1585 596.6L1587.1 590.6L1587.5 566.5L1585.2 536.5L1585.1 512.4L1589.8 464.4L1593.1 446.3L1595.5 441.3L1599.6 438.6L1609.6 437L1623.6 436.2L1623.6 641.4L1597.5 642.2L1567.5 641.3L1529.4 648.7L1477.3 652L1457.3 654.2L1437.2 659.9L1410.7 670.7L1387.1 681.4Z" fill="#ff300d" fill-rule="evenodd"/><path d="M1359.1 686.8L1337 686.8L1300.9 683.6L1272.2 678.7L1262.9 676L1254.8 671.7L1249.3 666.7L1246.7 660.7L1247 648.6L1249.5 640.6L1257 628.6L1268.9 613.4L1272.9 605.9L1276.4 596.6L1293 538.5L1297.3 516.5L1306.1 460.4L1311 446.2L1314.1 440.3L1317 437L1321 435.4L1324.1 436.3L1327 438.4L1333 447L1337 457.1L1340.4 478.4L1341.8 512.4L1343.8 528.5L1347.3 546.5L1349.8 552.5L1353 557.6L1355 559.4L1359.1 560.6L1363.1 558.6L1365.1 556.4L1368.3 550.5L1370.4 544.5L1377.1 509.7L1379.1 504L1381.1 501.2L1383.1 500L1387.1 499.3L1393.1 499.8L1397.1 501.3L1401.1 504.7L1411.2 519.7L1417.2 524.6L1421.2 525.5L1425.2 525.3L1429.2 524.2L1439.2 519.6L1441.2 520.5L1443.2 523.6L1457.5 562.5L1460.4 568.5L1476.4 588.6L1479.3 591L1483.3 592.5L1487.3 591.6L1491.3 587.5L1494.4 580.5L1496.4 572.5L1498.2 554.5L1499.4 506.4L1503.4 480.5L1507.1 464.4L1513.4 448.3L1519.4 438.8L1523.4 435.9L1525.4 435.6L1529.4 437.4L1533.4 442.8L1536.7 450.4L1545.3 482.4L1547.3 504.4L1548.1 548.5L1550.7 572.5L1553.7 588.6L1556.5 596.6L1562.5 606.6L1567.5 611.3L1571.5 612.3L1578 610.6L1586.3 604.6L1592 598.6L1594.4 592.6L1594.4 586.6L1588.5 546.5L1587.9 528.5L1589.6 502.4L1596.9 466.4L1600.5 458.4L1605.6 453L1613.6 449.1L1623.6 447.4L1623.6 638L1597.5 639.4L1567.5 638.8L1527.4 647.3L1475.3 651L1457.3 653.2L1437.2 658.8L1385.1 681.1L1369.1 685.4Z" fill="#ff3a0b" fill-rule="evenodd"/><path d="M1367.1 684.9L1357.1 685.9L1335 685.7L1298.9 682.3L1279.3 678.7L1268.9 676.1L1260.6 672.7L1253.1 666.7L1250.1 660.7L1250 648.6L1251.4 642.6L1258.1 630.6L1270.9 612.4L1277.4 596.6L1293.6 540.5L1307.8 462.4L1312.2 450.4L1317 443.1L1321 441.4L1323 441.8L1326.4 444.3L1331 450.7L1335 460L1338.6 478.4L1341.3 516.5L1344.8 538.5L1348.1 550.5L1353 558.8L1357.1 561.6L1361.1 561.3L1364.4 558.5L1367.2 554.5L1371.6 542.5L1377.1 516.1L1379.1 510.3L1381.1 507.1L1383.1 505.4L1387.1 504.1L1395.1 504.4L1401.1 508.6L1411.2 523.9L1415.2 528.1L1419.2 530.3L1433.2 534.2L1437.2 537.1L1443.2 545.9L1454.2 566.5L1458.4 572.5L1474.7 590.6L1479.3 593.9L1483.3 595.1L1487.3 594.5L1491.3 591.3L1494.8 584.5L1497.1 576.5L1499 560.5L1501 508.4L1503.4 494L1508.4 472.4L1512.8 460.4L1517.4 451.6L1521.4 447L1523.4 445.9L1527.4 446.5L1531.4 450.9L1534.9 458.4L1539.6 472.4L1542.3 484.4L1544.4 506.4L1545.4 551.2L1547.7 574.5L1550.2 588.6L1553.8 598.6L1561.5 612.6L1565.5 616.5L1571.5 618.6L1579.5 617.5L1599.6 610.3L1603.6 608.4L1606.3 604.6L1607.1 598.6L1606.4 590.6L1597.5 570.5L1591.7 546.5L1591.1 532.5L1592.5 510.4L1594.2 500.4L1597.5 489.2L1601.6 477.8L1605.6 469.6L1609.6 464.4L1613.6 461.2L1617.6 459.3L1623.6 458.2L1623.6 632.7L1601.6 635.8L1567.5 635.8L1527.4 645.6L1477.3 649.5L1457.3 652.1L1437.2 657.8L1385.1 680.1Z" fill="#ff4509" fill-rule="evenodd"/><path d="M1361.1 684.8L1335 684.7L1298.9 681.1L1282.9 678L1270.3 674.7L1262.9 671.4L1256.8 666.7L1253.5 660.7L1252.9 650.6L1254.2 642.6L1261.7 628.6L1270.9 614.8L1274.9 606.6L1291.4 552.5L1298.1 524.5L1308.5 468.4L1311 460L1315 451.7L1319 447.9L1323 448L1326 450.4L1329 454.3L1333 462.9L1337 480.1L1340.3 516.5L1344.5 540.5L1349 554.1L1351.8 558.5L1355 561.9L1359.1 563.1L1361.1 562.5L1365.1 559.1L1368 554.5L1371.8 544.5L1377.1 521.5L1381.1 512.5L1383.1 510.6L1387.1 508.8L1395.1 508.4L1399.1 510.6L1401.1 512.6L1411.2 528.1L1415.2 532.4L1429.2 540.3L1435.2 545.5L1441.2 553.3L1452.3 570.5L1470.7 590.6L1477.3 595.6L1483.3 597.6L1489.3 596.1L1493.2 592.6L1496.2 586.6L1498.4 578.5L1500.3 564.5L1501.3 528.5L1502.8 510.4L1505.4 496.2L1510.6 476.4L1515.4 464.6L1519.4 458.4L1523.4 455.4L1527.4 456.2L1531.4 461.1L1535.4 469.9L1538.1 478.4L1540.1 488.4L1542 508.4L1543.4 557.8L1545.1 578.5L1547 590.6L1557.5 615.8L1567 628.6L1565.6 630.6L1552.8 636.6L1529.4 643.5L1471.3 648.9L1449.2 652.9L1435.2 657.5L1385.1 679.2L1371.1 683.1ZM1623.6 589.5L1619.6 587.7L1615.6 584.2L1607.6 574.7L1603.7 568.5L1596.6 550.5L1595.3 544.5L1594.7 536.5L1596.8 510.4L1600.8 496.4L1607.6 482.8L1611.7 476.4L1617.6 470.9L1623.6 468.7Z" fill="#ff5009" fill-rule="evenodd"/><path d="M1367.1 683L1357.1 684.1L1337 683.9L1292.4 678.7L1276.2 674.7L1266.9 671L1260.6 666.7L1256.8 660.7L1255.9 652.6L1256.4 644.6L1262.8 630.6L1273.4 612.6L1278.1 600.6L1294.6 544.5L1300.1 520.5L1309 474.9L1311.3 466.4L1315 458.1L1319 454.1L1323 454.3L1327 458.1L1331 465.7L1335.4 482.4L1339.3 516.5L1344.3 542.5L1349 555.6L1352.3 560.5L1355 563.2L1357.1 564.2L1361.1 563.8L1365.1 560.4L1367.7 556.5L1372 546.5L1377.1 526.3L1381.1 517.6L1383.1 515.5L1387.1 513.4L1391.1 512.4L1395.1 512.5L1399.1 514.6L1401.1 516.7L1411.2 532.2L1415.2 536.6L1427.2 545.2L1433.2 550.8L1448.1 570.5L1466.6 590.6L1475.3 597.3L1483.3 600L1487.3 599.6L1492.8 596.6L1496 592.6L1498.5 586.6L1501.5 570.5L1503.1 526.5L1504.9 510.4L1506.9 500.4L1512.7 480.4L1517.4 469.7L1521.4 464.9L1523.4 463.9L1527.4 464.7L1530.6 468.4L1533.4 473.8L1535.7 480.4L1537.8 490.4L1540 510.4L1541.2 558.5L1543 586.6L1544.6 594.6L1549 606.6L1554.4 624.6L1554.8 628.6L1554 630.6L1552.1 632.6L1544.8 636.6L1529.4 641.8L1473.3 647.3L1449.2 651.8L1435.2 656.5L1385.1 678.2ZM1623.6 578.4L1619.6 576.7L1615.6 573.4L1607.6 562.7L1600.7 548.5L1599.3 542.5L1599 536.5L1600.9 514.4L1604 502.4L1607.6 495.3L1613.6 486.6L1619.6 480.5L1623.6 478.8Z" fill="#ff5c0b" fill-rule="evenodd"/><path d="M1361.1 682.9L1335 682.8L1300.9 678.9L1289.6 676.7L1276 672.7L1267.3 668.7L1262.5 664.7L1259.6 658.7L1258.7 648.6L1259.7 642.6L1265.8 628.6L1274.6 612.6L1278.4 602.6L1296.2 542.5L1311 475L1313.2 468.4L1317 461.8L1319 460.3L1321 459.9L1323 460.5L1327 464.8L1330.5 472.4L1334.2 486.4L1338.2 516.5L1344.1 544.5L1349 557.1L1355 564.6L1357.1 565.6L1361.1 565.2L1364.4 562.5L1367.1 559.1L1371.3 550.5L1377.1 530.6L1381.1 522.2L1383.1 520.2L1387.1 517.9L1391.1 516.8L1395.1 516.7L1399.1 518.7L1401.1 520.8L1413.2 538.6L1431 554.5L1444 570.5L1463.3 591.4L1473.3 599L1479.3 601.7L1483.3 602.5L1489.3 601.6L1494.4 598.6L1497.9 594.6L1500.5 588.6L1503.7 570.5L1504.8 530.5L1508.5 504.4L1513.4 487.8L1517.4 477.8L1521.6 472.4L1525.4 471.3L1527.4 472.3L1530.6 476.4L1533.4 482.8L1535.7 492.4L1537.5 504.4L1540.1 586.6L1541.2 594.6L1545 608.6L1546.9 624.6L1546.8 628.6L1544.6 632.6L1538.6 636.6L1527.4 640.3L1475.3 645.5L1451.2 650.1L1435.2 655.5L1385.1 677.3L1373.1 680.7ZM1623.6 569.6L1617.6 565.9L1608.8 554.5L1605 546.5L1603.5 536.5L1605.5 516.5L1608.7 504.4L1615.6 493.9L1619.6 490L1623.6 488Z" fill="#ff680d" fill-rule="evenodd"/><path d="M1369.1 680.7L1357.1 682.1L1337 682L1294.9 676.5L1281.5 672.7L1270.9 668L1264.6 662.7L1262.3 656.7L1261.5 648.6L1262.4 642.6L1267.7 628.6L1275.8 612.6L1279.5 602.6L1297.9 540.5L1311 482.4L1313.6 474.4L1317 468.1L1319 466.4L1321 466L1323 466.7L1326.2 470.4L1329 475.9L1332.5 488.4L1337.5 518.5L1344 546.5L1349 558.6L1355 566L1357.1 566.9L1361.1 566.6L1363.9 564.5L1367.1 560.6L1371.3 552.5L1377.1 534.8L1381.1 526.6L1387.1 522.3L1391.1 521L1395.1 520.9L1399.1 522.9L1401.1 525L1413.2 542.5L1427.9 556.5L1460.4 592.6L1465.3 596.7L1473.3 601.9L1479.3 604.4L1483.3 605.2L1489.3 604.5L1495.3 601.4L1500.1 596.6L1503.1 590.6L1506 574.5L1506.8 532.5L1510.2 508.4L1514.2 494.4L1519.4 482.5L1523.4 478.7L1525.4 478.6L1527.4 479.7L1530.4 484.4L1533.1 492.4L1536.1 512.4L1537.1 534.5L1537.4 588.6L1540.5 606.6L1541.2 618.6L1541 628.6L1539 632.6L1532.9 636.6L1525.4 638.8L1477.3 643.7L1453.3 648.3L1437.2 653.6L1385.1 676.3ZM1623.6 561.3L1617.6 557.5L1612.1 550.5L1609.3 544.5L1608.3 536.5L1609.6 522.3L1612.7 508.4L1617.6 500L1621.6 496.5L1623.6 495.8Z" fill="#ff740f" fill-rule="evenodd"/><path d="M1363.1 680.8L1335 680.8L1293.3 674.7L1281.5 670.7L1272.9 666.4L1267 660.7L1264.9 654.7L1264.3 646.6L1265.5 640.6L1269.5 628.6L1277.1 612.6L1280 604.6L1298.5 542.5L1312.6 484.4L1317 474.3L1319 472.5L1321 472.1L1323 472.9L1325 475L1327.8 480.4L1331 490.9L1335.8 516.5L1343.9 548.5L1349 560.1L1355 567.4L1357.1 568.3L1361.1 568L1363.3 566.5L1367.1 562.2L1372.2 552.5L1379.1 533.9L1383.1 528.8L1391.1 525.2L1397.1 525.7L1401.1 529L1415.2 548.6L1446.1 580.5L1458.5 594.6L1471.3 603.8L1477.3 606.8L1483.3 608.4L1489.3 607.9L1497.3 604.1L1503.2 598.6L1506.7 592.6L1508.4 584.5L1509.3 574.5L1509.2 532.5L1512.1 512.4L1515.4 500.1L1519.4 490.9L1523.4 486.5L1525.4 486.4L1527.4 487.9L1530.6 494.4L1532.7 502.4L1535.2 528.5L1534.4 588.6L1536.6 606.6L1536.8 616.6L1536.1 628.6L1533.9 632.6L1529.4 635.4L1523.4 637L1479.3 641.8L1455.3 646.4L1439.2 651.8L1383.1 676.1ZM1623.6 554.4L1619.6 552.1L1615.6 546.8L1613.9 542.5L1613.2 536.5L1614.4 524.5L1617 512.4L1619.6 506.8L1623.6 503.5Z" fill="#ff7f10" fill-rule="evenodd"/><path d="M1369.1 678.8L1357.1 680.2L1337 679.9L1296.9 674.1L1286.5 670.7L1274.9 664.7L1270.6 660.7L1267.8 654.7L1267.1 644.6L1270 632.6L1281.1 604.6L1300.3 540.5L1313 490.4L1317 480.7L1319 478.7L1321 478.2L1323 479.2L1327 485.7L1329.6 494.4L1334.4 516.5L1343.2 548.5L1349 561.7L1354.7 568.5L1357.1 569.6L1361.1 569.3L1366.6 564.5L1372.2 554.5L1379.1 537.8L1383.1 532.8L1391.1 529.3L1397.1 529.8L1401.1 533L1415.2 552.3L1443.2 581.1L1457.3 597.2L1473.3 608.4L1479.3 611.1L1485.3 612.3L1493.3 611.1L1499.3 608.3L1508.9 600.6L1512.5 594.6L1513.6 584.5L1511.6 542.5L1512.2 528.5L1515 512.4L1517.4 504L1521.4 496.4L1523.4 494.9L1525.4 494.9L1528.3 498.4L1530.9 506.4L1533.5 532.5L1533.3 552.5L1530.6 588.6L1532.1 608.6L1532 618.6L1531.5 626.6L1530 630.6L1527.9 632.6L1522.6 634.6L1477.3 640.3L1453.3 645.4L1437.2 651.4L1385.1 674.4ZM1623.6 546.9L1621.6 545.6L1619.6 542.5L1618.7 536.5L1620.3 524.5L1621.6 520.1L1623.6 516.9Z" fill="#ff8810" fill-rule="evenodd"/><path d="M1363.1 678.8L1337 678.9L1296.9 672.5L1286.5 668.7L1276.9 663L1272.7 658.7L1270.1 652.6L1269.6 644.6L1272.9 628.6L1281.7 606.6L1301.6 540.5L1315 491.7L1317 487.5L1319 485.2L1321 484.7L1323 485.9L1324.7 488.4L1327 493.7L1333.4 518.5L1343.9 552.5L1349.8 564.5L1355 570.2L1357.1 571L1361.1 570.7L1366.3 566.5L1371.2 558.5L1379.1 541.5L1383.1 536.7L1389.1 533.8L1395.1 533.2L1399.1 535L1401.1 536.9L1415.2 555.9L1441.3 582.5L1453.3 597L1459.3 602.6L1469.3 609.9L1479.3 615.1L1487.3 616.6L1495.3 616.3L1519.4 612.4L1521.4 613.7L1523 618.6L1523.4 626.6L1522.6 628.6L1520.2 630.6L1513.1 632.6L1469.3 639.8L1455.3 643.2L1443.2 647.6L1419.2 658.9L1385.1 673.4L1375.1 676.5ZM1523.4 582L1521.4 580.6L1520.4 578.5L1517.9 570.5L1515.3 552.5L1514.4 538.5L1515.2 528.5L1517.4 516.8L1520 508.4L1521.4 505.8L1523.4 504L1525.4 504.3L1527 506.4L1529 512.4L1531 526.5L1531.6 538.5L1531.1 550.5L1529.1 568.5L1527.4 575.9L1525.4 580.4Z" fill="#ff9210" fill-rule="evenodd"/><path d="M1369.1 676.9L1357.1 678.2L1337 677.8L1298.9 671.4L1288.9 667.7L1280.5 662.7L1276.2 658.7L1272.9 652.6L1272 644.6L1275.1 626.6L1282.3 608.6L1313 505.4L1317 494.8L1319 492.3L1321 491.8L1321.9 492.4L1325 496.6L1342.3 550.5L1347.6 562.5L1353 570.2L1357.1 572.4L1361.1 572.1L1363.1 571.1L1369.1 564.2L1377.1 548.4L1381.1 542.3L1385.1 539.3L1389.1 537.7L1393.1 537L1397.1 537.7L1403.1 543.1L1415.2 559.5L1438.1 582.5L1451.2 598.9L1457.3 605L1465.3 611.5L1473.3 616.7L1481.3 620.1L1496.5 624.6L1499.3 626.6L1499.8 628.6L1497.6 630.6L1492.3 632.6L1463.3 639.3L1451.2 642.9L1441.2 647L1419.2 658L1387.1 671.6L1379.1 674.5ZM1523.4 560.9L1521.4 558.4L1519.4 552.4L1517.8 538.5L1519.4 525.5L1521.4 519.6L1523.4 517L1525.4 517.8L1527.4 522.9L1529.1 538.5L1527.4 554.2L1525.4 559.7Z" fill="#ff9b10" fill-rule="evenodd"/><path d="M1363.1 676.8L1337 676.7L1298.9 669.7L1291.1 666.7L1282.9 661.5L1278 656.7L1275 650.6L1274.5 642.6L1276.7 626.6L1283.6 608.6L1313 512.3L1317 502.3L1319 499.8L1321 499.4L1323 501L1325 504.6L1342.1 552.5L1347.7 564.5L1353 571.7L1357.1 573.7L1361.1 573.5L1363.1 572.5L1368.8 566.5L1377.1 551.3L1381.1 545.7L1385.1 543L1389.1 541.5L1393.1 540.9L1397.1 541.5L1403.1 546.7L1417.2 565.2L1436.8 584.5L1449.2 601L1455.3 607.7L1465.3 616.4L1480.7 626.6L1482 628.6L1481.1 630.6L1477.7 632.6L1447.2 642.7L1419.9 656.7L1385.1 671.4L1375.1 674.5Z" fill="#ffa410" fill-rule="evenodd"/><path d="M1369.1 674.8L1357.1 676.1L1337 675.6L1300.9 668.5L1292.9 665.4L1285.5 660.7L1280.9 656.2L1277.7 650.6L1276.9 640.6L1278.3 626.6L1284.3 610.6L1298.9 561L1311 524.2L1315 513.5L1319 507.3L1321 506.9L1323 508.6L1325 511.9L1343.8 558.5L1349 568.5L1353 573.2L1357.1 575.1L1361.1 574.8L1363.1 574L1368.7 568.5L1377.1 554L1381.1 549L1385.1 546.5L1389.1 545.2L1393.1 544.6L1397.1 545.2L1403.1 550.2L1417.2 568.4L1433.8 584.5L1451.2 608.5L1457.3 615L1467.9 624.6L1470.4 628.6L1469.6 630.6L1467.1 632.6L1443.2 642.8L1419.2 656L1383.1 671.2Z" fill="#ffac10" fill-rule="evenodd"/><path d="M1361.1 674.9L1337 674.4L1300.8 666.7L1292.9 663.2L1286.7 658.7L1281.4 652.6L1279.8 648.6L1279.1 634.6L1280.5 624.6L1285.8 610.6L1299.9 562.5L1311 529.7L1315 519.5L1319 514L1321 513.8L1325 518L1345.6 564.5L1349 570.4L1353 574.7L1357.1 576.4L1363.1 575.4L1368.5 570.5L1377.1 556.8L1381.1 552.2L1389.1 548.8L1393.1 548.2L1397.1 548.9L1401.1 551.6L1415.2 569.4L1432.5 586.6L1448.5 610.6L1461.1 626.6L1461.6 628.6L1461 630.6L1459.1 632.6L1441.2 642L1419.9 654.7L1383.1 670.2L1373.1 672.9Z" fill="#ffb410" fill-rule="evenodd"/><path d="M1369.1 672.7L1357.1 673.9L1337 673.2L1302.9 665.4L1296 662.7L1290 658.7L1284.9 653.4L1282.4 648.6L1281 634.6L1282.2 624.6L1287.2 610.6L1302.9 557.9L1313 529.8L1317 521.9L1319 520.1L1321 519.8L1325 523.6L1346.6 568.5L1351 574.5L1355 577.2L1361.1 577.6L1365.1 575.6L1370 570.5L1379.1 557.1L1383.1 554.2L1393.1 551.8L1399.1 553.5L1403.1 557.2L1413.4 570.5L1431.2 588.6L1454.5 626.6L1454.4 630.6L1450.3 634.6L1421.9 652.6L1385.1 668.4Z" fill="#ffbc10" fill-rule="evenodd"/><path d="M1359.1 672.7L1345 672.5L1335 671.5L1300.9 662.7L1296.6 660.7L1290.9 656.6L1286.9 652.1L1284.4 646.6L1283 634.6L1284 624.6L1303 562.5L1313 535.4L1317 527.6L1319 525.8L1321 525.4L1325 528.9L1346.6 570.5L1351 576.2L1355 578.7L1361.1 579L1365.9 576.5L1369.9 572.5L1377.1 562.3L1383.1 557.4L1393.1 555.3L1399.1 557L1403.1 560.7L1413.2 573.2L1429.9 590.6L1436.1 600.6L1449 626.6L1448.9 630.6L1445.6 634.6L1426.6 648.6L1419.7 652.6L1383.1 668.1L1371.1 671.2Z" fill="#ffc40e" fill-rule="evenodd"/><path d="M1367.1 670.8L1355 671.6L1338 670.7L1304.9 662L1298.9 659.6L1292.9 655.4L1288.8 650.6L1287 646.6L1285 634.6L1285.8 624.6L1304.9 562.2L1315 536.6L1319 531.4L1321 531L1325 534.3L1346.5 572.5L1351 577.8L1355 580.1L1361.1 580.4L1365.3 578.5L1369.9 574.5L1379.1 563.1L1383.1 560.7L1393.1 558.8L1399.1 560.5L1403.1 564.1L1411.7 574.5L1423.7 586.6L1428.6 592.6L1434.4 602.6L1443.9 624.6L1444.3 630.6L1441.6 634.6L1427.4 646.6L1421.3 650.6L1385.1 666.4Z" fill="#ffcc0a" fill-rule="evenodd"/><path d="M1371.1 669L1361.1 670.3L1353 670.4L1341 669.7L1333 668.2L1300.9 658.3L1293.2 652.6L1289.5 646.6L1287.9 640.6L1286.9 632.6L1288.2 622.6L1307 562.2L1315 542.7L1319 537.3L1321 536.9L1325 539.9L1337 558.2L1346.4 574.5L1349 577.7L1353 580.8L1359.1 582.2L1365.1 580.3L1369.8 576.5L1379.1 566.2L1383.1 564L1391.1 562.4L1397.1 563.1L1403.1 567.5L1424.3 590.6L1429.9 598.6L1433.6 606.6L1440.6 626.6L1440.5 630.6L1436.6 636.6L1425.3 646.6L1417.2 651.6L1386.8 664.7Z" fill="#ffd406" fill-rule="evenodd"/><path d="M1365.1 668.7L1353 669.1L1337 667.7L1307 658.3L1300.9 655.8L1296.9 653L1293.2 648.6L1291.4 644.6L1289 632.6L1289.3 626.6L1290.7 620.6L1309 562.6L1315 548.8L1319 543.6L1321 543.1L1325 545.8L1337 561.6L1346.2 576.5L1351 581.2L1355 583.1L1359.1 583.6L1365.1 581.9L1369.7 578.5L1379.1 569.3L1383.1 567.4L1393.1 565.9L1399.1 567.6L1403.1 570.9L1423.2 592.7L1428.5 600.6L1432 608.6L1436.7 622.6L1437.4 630.6L1434 636.6L1428 642.6L1416.7 650.6L1389.1 662.7L1379.1 666.1Z" fill="#ffdc02" fill-rule="evenodd"/><path d="M1369.1 666.9L1361.1 667.8L1351 667.8L1341 666.9L1333 665.1L1302.9 654.3L1297.9 650.6L1294 644.6L1292 638.6L1291.1 632.6L1291.4 626.6L1292.6 620.6L1297.1 604.6L1311 563.9L1315 555.1L1319 550.2L1321 549.6L1325 551.7L1337 565.3L1346 578.5L1350.5 582.5L1355 584.7L1359.1 585.2L1365.1 583.6L1369.7 580.5L1377.1 573.8L1383.1 570.7L1393.1 569.5L1399.1 571L1403.1 574.2L1420.2 592.6L1424.9 598.6L1428.1 604.6L1432.4 616.6L1434.8 626.6L1434.1 632.6L1430 638.6L1421.2 646.4L1413.2 651.1L1385.1 663.1Z" fill="#ffe404" fill-rule="evenodd"/><path d="M1373.1 665L1363.1 666.4L1355 666.6L1343 665.6L1335 664.1L1304.9 652.7L1299.6 648.6L1296.8 644.6L1294.5 638.6L1293.4 632.6L1293.5 626.6L1294.9 619.7L1298.9 605.4L1311.3 570.5L1315 562L1319 557L1321 556.4L1323 556.8L1327 559.5L1335 567.1L1347 581.8L1351 584.8L1355 586.4L1359.1 586.8L1365.1 585.3L1377.1 576.7L1383.1 574L1393.1 573L1399.1 574.5L1405.2 579.4L1417.3 592.6L1425.2 603.3L1430.1 616.6L1432.4 626.6L1431.8 632.6L1427.8 638.6L1419.2 646.2L1411.4 650.6L1385.1 661.9Z" fill="#ffec0c" fill-rule="evenodd"/><path d="M1365.1 664.9L1349 664.9L1339 663.4L1333 661.7L1306.7 650.6L1301.6 646.6L1297.9 640.6L1296.1 634.6L1295.7 628.6L1298.9 613.2L1313 574.4L1317 566.5L1319 564.5L1323 563.7L1327 565.7L1335 571.6L1347 584.1L1351 586.7L1355 588.1L1359.1 588.5L1365.1 587.1L1377.1 579.5L1381.1 577.8L1391.1 576.5L1397.1 577.1L1401.1 579.1L1407.2 584.8L1419.6 598.6L1424.4 606.6L1428.5 618.6L1430.2 628.6L1428.6 634.6L1423.7 640.6L1412.5 648.6L1390.1 658.7L1379.1 662.5Z" fill="#fff314" fill-rule="evenodd"/><path d="M1371.1 662.7L1361.1 663.8L1353 663.7L1343 662.5L1335 660.7L1309.1 648.6L1304 644.6L1300.9 640.4L1298.9 635.4L1298.2 630.6L1298.7 624.6L1300.9 615.2L1315 578.8L1317.5 574.5L1321 571.6L1325 571.6L1331 574.2L1337 577.9L1349 587.7L1357.1 590.2L1365.1 589L1377.1 582.5L1381.1 581.1L1391.1 580.1L1397.1 580.6L1401.1 582.6L1405.2 586.1L1417.2 599.2L1421 604.6L1425.2 614.8L1427.9 626.6L1427.4 632.6L1423.5 638.6L1416.3 644.6L1405.4 650.6L1385.1 659.3Z" fill="#fffb1c" fill-rule="evenodd"/><path d="M1373.1 660.9L1355 662.3L1343 660.9L1335 658.9L1325.8 654.7L1311.8 646.6L1307 642.9L1303.6 638.6L1301.2 630.6L1303 618.6L1307 607.3L1315 588.6L1318.5 582.5L1321 580.3L1325 579.3L1333 580.8L1337 582.4L1349 589.9L1357.1 592.1L1365.1 591L1377.1 585.5L1381.1 584.4L1391.1 583.7L1397.1 584.2L1401.1 586.2L1405.2 589.6L1418.3 604.6L1422.8 614.6L1425.5 624.6L1425.7 630.6L1422.9 636.6L1416.4 642.6L1406.3 648.6L1385.1 657.9Z" fill="#ffff2a" fill-rule="evenodd"/><path d="M1363.1 660.7L1347 659.9L1333 656.3L1326.2 652.6L1314.6 644.6L1309.8 640.6L1306.6 636.6L1305 632.6L1304.7 628.6L1306.7 618.6L1317 594.8L1319.9 590.6L1323 587.9L1329 586.3L1335 586.5L1351 593L1359.1 594.1L1365.1 593.2L1379.1 588L1395.1 587.5L1399.1 588.7L1403.1 591.4L1412.1 600.6L1417.2 607.5L1421.2 616.8L1423.5 626.6L1422.9 632.6L1418.6 638.6L1406.7 646.6L1387.1 655.7L1377.1 658.7Z" fill="#ffff3e" fill-rule="evenodd"/><path d="M1367.1 658.7L1351 658.7L1335 655.2L1329.9 652.6L1324.3 648.6L1311.4 636.6L1309 630.6L1309.1 626.6L1310.6 620.6L1319 601.6L1321 598.5L1325 594.5L1331 591.9L1337 591.4L1351 595.3L1359.1 596.2L1365.1 595.4L1379.1 591.3L1395.1 591.3L1399.1 592.5L1403.1 595.1L1413.5 606.6L1418.5 616.6L1421.1 626.6L1420.5 632.6L1417.9 636.6L1409.2 643.2L1390.7 652.6L1379.6 656.7Z" fill="#ffff52" fill-rule="evenodd"/><path d="M1369.1 656.8L1353 657.2L1337 653.9L1327.9 648.6L1316.3 636.6L1313.8 630.6L1314.8 622.6L1323 604.6L1328.7 598.6L1333 596.5L1337 595.7L1359.1 598.4L1379.1 594.6L1393.1 594.8L1397.1 595.6L1401.1 597.5L1405.2 600.8L1410 606.6L1415.2 615.9L1418.1 624.6L1418.4 630.6L1416.6 634.6L1409.6 640.6L1391.2 650.6L1381.1 654.6Z" fill="#ffff66" fill-rule="evenodd"/><path d="M1371.1 654.7L1355 655.5L1339 652.5L1331 648.2L1322.2 638.6L1318.8 632.6L1318.3 628.6L1318.9 624.6L1324.7 610.6L1327.1 606.6L1331 602.7L1335 600.5L1339 599.6L1359.1 600.7L1377.1 598.1L1387.1 598L1395.1 598.9L1399.1 600.3L1406.1 606.6L1412 616.6L1415 624.6L1415.3 630.6L1413.3 634.6L1405.5 640.6L1387.1 650.6L1381.1 652.9Z" fill="#ffff7a" fill-rule="evenodd"/><path d="M1371.1 652.8L1357.1 653.6L1345 651.9L1335.9 648.6L1329 642.6L1323.6 634.6L1322.5 630.6L1322.6 626.6L1324.2 620.6L1327 614.6L1333 606.8L1337 604.5L1341 603.5L1361.1 603.2L1383.1 601.4L1395.1 603.1L1399.1 605L1402.9 608.6L1407.2 615.1L1410.7 622.6L1411.9 628.6L1410.8 632.6L1404.3 638.6L1386.6 648.6L1381.1 650.9Z" fill="#ffff8e" fill-rule="evenodd"/><path d="M1369.1 650.8L1357.1 651.4L1345 649.5L1337 646.2L1331 640.7L1326.5 632.6L1326.4 626.6L1329.1 618.6L1335 611L1341 607.9L1347 606.7L1381.1 605.2L1393.1 607.4L1397.1 609.6L1400.3 612.6L1405.2 620.2L1407.4 626.6L1407.2 630.6L1405.2 634.1L1399.3 638.6L1385.1 646.8L1379.1 649.1Z" fill="#ffffa2" fill-rule="evenodd"/><path d="M1365.1 648.7L1355 648.8L1347 647.2L1340.4 644.6L1335 640.6L1330.8 634.6L1329.8 628.6L1331.3 622.6L1335.2 616.6L1340.9 612.6L1346.8 610.6L1363.1 609.2L1377.1 609.5L1385.1 610.6L1391.1 612.7L1396.6 616.6L1399.7 620.6L1402.1 626.6L1402 630.6L1399.2 634.6L1390.3 640.6L1381.1 645.5L1375.1 647.3Z" fill="#ffffb6" fill-rule="evenodd"/><path d="M1371.1 644.9L1363.1 646L1355 645.9L1347 644L1341 641.1L1336.1 636.6L1334.1 632.6L1333.7 628.6L1335.8 622.6L1339 618.8L1343 616.2L1349 613.9L1357.1 612.6L1367.1 612.9L1377.1 614.2L1383.1 615.7L1389.2 618.6L1393.1 622.2L1395.1 625.6L1395.8 628.6L1394.5 632.6L1390.1 636.6L1383.5 640.6Z" fill="#ffffc8" fill-rule="evenodd"/><path d="M1363.1 642.8L1357.1 642.9L1351 641.8L1345 639.3L1341.5 636.6L1339 633.2L1338.3 630.6L1338.9 626.6L1341.6 622.6L1345 619.9L1351 617.2L1361.1 616.1L1375.1 618.7L1381.1 621.3L1385.5 624.6L1387.1 627.3L1387.4 630.6L1384.6 634.6L1375.1 640Z" fill="#ffffd8" fill-rule="evenodd"/><path d="M1365.1 638.8L1357.1 639.3L1353 638.6L1348.6 636.6L1344.7 632.6L1344.1 630.6L1345 626.6L1349.1 622.6L1357.1 620L1365.1 620.6L1373.1 623.9L1376.2 626.6L1377.3 628.6L1376.5 632.6L1371.3 636.6Z" fill="#ffffe7" fill-rule="evenodd"/><path d="M1365.1 632.7L1361.1 634.3L1357.1 634.3L1353.2 632.6L1352 630.6L1352.3 628.6L1354.1 626.6L1357.1 625.5L1363.1 626.1L1366.4 628.6L1366.7 630.6Z" fill="#fffff7" fill-rule="evenodd"/>
<rect x="1184.7" y="412.3" width="438.9" height="344.5" fill="none" stroke="#000" stroke-width="2"/>
<rect x="1629.8" y="750.6" width="24.4" height="6.6" fill="#2d0000"/><rect x="1629.8" y="744.5" width="24.4" height="6.6" fill="#2f0000"/><rect x="1629.8" y="738.3" width="24.4" height="6.6" fill="#370000"/><rect x="1629.8" y="732.2" width="24.4" height="6.6" fill="#460000"/><rect x="1629.8" y="726" width="24.4" height="6.6" fill="#540000"/><rect x="1629.8" y="719.9" width="24.4" height="6.6" fill="#630000"/><rect x="1629.8" y="713.7" width="24.4" height="6.6" fill="#730000"/><rect x="1629.8" y="707.6" width="24.4" height="6.6" fill="#840000"/><rect x="1629.8" y="701.4" width="24.4" height="6.6" fill="#960000"/><rect x="1629.8" y="695.3" width="24.4" height="6.6" fill="#a70000"/><rect x="1629.8" y="689.1" width="24.4" height="6.6" fill="#b80000"/><rect x="1629.8" y="683" width="24.4" height="6.6" fill="#c80000"/><rect x="1629.8" y="676.8" width="24.4" height="6.6" fill="#d80000"/><rect x="1629.8" y="670.7" width="24.4" height="6.6" fill="#e80000"/><rect x="1629.8" y="664.5" width="24.4" height="6.6" fill="#f20402"/><rect x="1629.8" y="658.4" width="24.4" height="6.6" fill="#f60c06"/><rect x="1629.8" y="652.2" width="24.4" height="6.6" fill="#f9140a"/><rect x="1629.8" y="646.1" width="24.4" height="6.6" fill="#fd1c0e"/><rect x="1629.8" y="639.9" width="24.4" height="6.6" fill="#ff250f"/><rect x="1629.8" y="633.8" width="24.4" height="6.6" fill="#ff300d"/><rect x="1629.8" y="627.6" width="24.4" height="6.6" fill="#ff3a0b"/><rect x="1629.8" y="621.5" width="24.4" height="6.6" fill="#ff4509"/><rect x="1629.8" y="615.3" width="24.4" height="6.6" fill="#ff5009"/><rect x="1629.8" y="609.2" width="24.4" height="6.6" fill="#ff5c0b"/><rect x="1629.8" y="603" width="24.4" height="6.6" fill="#ff680d"/><rect x="1629.8" y="596.9" width="24.4" height="6.6" fill="#ff740f"/><rect x="1629.8" y="590.7" width="24.4" height="6.6" fill="#ff7f10"/><rect x="1629.8" y="584.5" width="24.4" height="6.6" fill="#ff8810"/><rect x="1629.8" y="578.4" width="24.4" height="6.6" fill="#ff9210"/><rect x="1629.8" y="572.2" width="24.4" height="6.6" fill="#ff9b10"/><rect x="1629.8" y="566.1" width="24.4" height="6.6" fill="#ffa410"/><rect x="1629.8" y="559.9" width="24.4" height="6.6" fill="#ffac10"/><rect x="1629.8" y="553.8" width="24.4" height="6.6" fill="#ffb410"/><rect x="1629.8" y="547.6" width="24.4" height="6.6" fill="#ffbc10"/><rect x="1629.8" y="541.5" width="24.4" height="6.6" fill="#ffc40e"/><rect x="1629.8" y="535.3" width="24.4" height="6.6" fill="#ffcc0a"/><rect x="1629.8" y="529.2" width="24.4" height="6.6" fill="#ffd406"/><rect x="1629.8" y="523" width="24.4" height="6.6" fill="#ffdc02"/><rect x="1629.8" y="516.9" width="24.4" height="6.6" fill="#ffe404"/><rect x="1629.8" y="510.7" width="24.4" height="6.6" fill="#ffec0c"/><rect x="1629.8" y="504.6" width="24.4" height="6.6" fill="#fff314"/><rect x="1629.8" y="498.4" width="24.4" height="6.6" fill="#fffb1c"/><rect x="1629.8" y="492.3" width="24.4" height="6.6" fill="#ffff2a"/><rect x="1629.8" y="486.1" width="24.4" height="6.6" fill="#ffff3e"/><rect x="1629.8" y="480" width="24.4" height="6.6" fill="#ffff52"/><rect x="1629.8" y="473.8" width="24.4" height="6.6" fill="#ffff66"/><rect x="1629.8" y="467.7" width="24.4" height="6.6" fill="#ffff7a"/><rect x="1629.8" y="461.5" width="24.4" height="6.6" fill="#ffff8e"/><rect x="1629.8" y="455.4" width="24.4" height="6.6" fill="#ffffa2"/><rect x="1629.8" y="449.2" width="24.4" height="6.6" fill="#ffffb6"/><rect x="1629.8" y="443.1" width="24.4" height="6.6" fill="#ffffc8"/><rect x="1629.8" y="436.9" width="24.4" height="6.6" fill="#ffffd8"/><rect x="1629.8" y="430.8" width="24.4" height="6.6" fill="#ffffe7"/><rect x="1629.8" y="424.6" width="24.4" height="6.6" fill="#fffff7"/><rect x="1629.8" y="418.5" width="24.4" height="6.6" fill="#ffffff"/><rect x="1629.8" y="412.3" width="24.4" height="6.6" fill="#ffffff"/><rect x="1629.8" y="412.3" width="24.4" height="344.5" fill="none" stroke="#000" stroke-width="1.8"/><line x1="1654.2" y1="412.3" x2="1660.2" y2="412.3" stroke="#000" stroke-width="1.8"/><text x="1668.5" y="418.3" font-family="Liberation Sans" font-size="16.5" font-weight="bold" fill="#000" text-anchor="start" >0.59</text><line x1="1654.2" y1="523.2" x2="1660.2" y2="523.2" stroke="#000" stroke-width="1.8"/><text x="1668.5" y="529.2" font-family="Liberation Sans" font-size="16.5" font-weight="bold" fill="#000" text-anchor="start" >0.40</text><line x1="1654.2" y1="640" x2="1660.2" y2="640" stroke="#000" stroke-width="1.8"/><text x="1668.5" y="646" font-family="Liberation Sans" font-size="16.5" font-weight="bold" fill="#000" text-anchor="start" >0.20</text><line x1="1654.2" y1="756.8" x2="1660.2" y2="756.8" stroke="#000" stroke-width="1.8"/><text x="1668.5" y="762.8" font-family="Liberation Sans" font-size="16.5" font-weight="bold" fill="#000" text-anchor="start" >0.00</text>
<line x1="1177.7" y1="756.8" x2="1184.7" y2="756.8" stroke="#000" stroke-width="2"/>
<text x="1174.7" y="766.3" font-family="Liberation Sans" font-size="28" font-weight="bold" fill="#000" text-anchor="end" >0</text>
<line x1="1180.7" y1="713.1" x2="1184.7" y2="713.1" stroke="#000" stroke-width="1.6"/>
<line x1="1177.7" y1="669.5" x2="1184.7" y2="669.5" stroke="#000" stroke-width="2"/>
<text x="1174.7" y="679" font-family="Liberation Sans" font-size="28" font-weight="bold" fill="#000" text-anchor="end" >1</text>
<line x1="1180.7" y1="625.9" x2="1184.7" y2="625.9" stroke="#000" stroke-width="1.6"/>
<line x1="1177.7" y1="582.2" x2="1184.7" y2="582.2" stroke="#000" stroke-width="2"/>
<text x="1174.7" y="591.7" font-family="Liberation Sans" font-size="28" font-weight="bold" fill="#000" text-anchor="end" >2</text>
<line x1="1180.7" y1="538.5" x2="1184.7" y2="538.5" stroke="#000" stroke-width="1.6"/>
<line x1="1177.7" y1="494.9" x2="1184.7" y2="494.9" stroke="#000" stroke-width="2"/>
<text x="1174.7" y="504.4" font-family="Liberation Sans" font-size="28" font-weight="bold" fill="#000" text-anchor="end" >3</text>
<line x1="1180.7" y1="451.2" x2="1184.7" y2="451.2" stroke="#000" stroke-width="1.6"/>
<line x1="1184.7" y1="756.8" x2="1184.7" y2="763.8" stroke="#000" stroke-width="2"/>
<line x1="1221.3" y1="756.8" x2="1221.3" y2="760.8" stroke="#000" stroke-width="1.6"/>
<line x1="1257.8" y1="756.8" x2="1257.8" y2="763.8" stroke="#000" stroke-width="2"/>
<line x1="1294.4" y1="756.8" x2="1294.4" y2="760.8" stroke="#000" stroke-width="1.6"/>
<line x1="1331" y1="756.8" x2="1331" y2="763.8" stroke="#000" stroke-width="2"/>
<line x1="1367.6" y1="756.8" x2="1367.6" y2="760.8" stroke="#000" stroke-width="1.6"/>
<line x1="1404.2" y1="756.8" x2="1404.2" y2="763.8" stroke="#000" stroke-width="2"/>
<line x1="1440.7" y1="756.8" x2="1440.7" y2="760.8" stroke="#000" stroke-width="1.6"/>
<line x1="1477.3" y1="756.8" x2="1477.3" y2="763.8" stroke="#000" stroke-width="2"/>
<line x1="1513.9" y1="756.8" x2="1513.9" y2="760.8" stroke="#000" stroke-width="1.6"/>
<line x1="1550.4" y1="756.8" x2="1550.4" y2="763.8" stroke="#000" stroke-width="2"/>
<line x1="1587" y1="756.8" x2="1587" y2="760.8" stroke="#000" stroke-width="1.6"/>
<text transform="translate(1145,586.5) rotate(-90)" font-family="Liberation Serif" font-size="35.5" font-weight="normal" text-anchor="middle">R+a (Å)</text>
<rect x="1184.7" y="779.8" width="438.9" height="344.5" fill="#2e0000"/><path d="M1623.6 1090L1393.1 1090.1L1383.1 1089.5L1367.1 1087.7L1349 1085L1329 1084.4L1309 1081.5L1184.7 1081.3L1184.7 779.8L1257.9 779.8L1258.9 810.5L1260.1 831.9L1262.9 851.6L1264.9 858.8L1266.9 856.1L1268.9 845.9L1270.6 831.9L1273.2 779.8L1542 779.8L1542.1 805.8L1543.4 824.1L1545.4 839.5L1547.4 843.3L1549.4 840.4L1561.5 807L1562.5 799.8L1562.5 779.8L1623.6 779.8ZM1584.7 1026.2L1585.3 1024.2L1581.5 1022.5L1579.5 1022.6L1576.2 1024.2L1576.7 1026.2L1579.5 1027.1L1581.5 1027.2ZM1450.3 1038.2L1447.7 1036.2L1445.2 1036L1443.1 1036.2L1440.6 1038.2L1443.2 1039.5L1445.2 1039.8L1447.2 1039.6Z" fill="#390000" fill-rule="evenodd"/><path d="M1623.6 1077.8L1395.1 1077.6L1385.1 1077L1351 1073.5L1313 1071.7L1268.9 1070.2L1210.8 1069.9L1184.7 1068.8L1184.7 779.8L1244.2 779.8L1247.2 807.8L1258.2 896L1260.9 907.2L1262.9 910.2L1264.9 910.6L1266.9 908.7L1268.9 903.6L1272.9 887.2L1274.9 876.6L1282.9 812.4L1285.9 779.8L1534.1 779.8L1534.4 811.8L1537.8 877.9L1539.2 888L1540.9 894L1543.4 898.9L1545.4 900L1547.4 899.2L1548.4 898L1551.5 892.1L1553.8 884L1560.4 851.9L1562.4 845.9L1569.3 829.9L1571.5 823.3L1573.5 815.1L1574.8 805.8L1575.7 779.8L1623.6 779.8ZM1587.4 1028.2L1589.4 1026.2L1589.6 1024.2L1587.8 1022.2L1583.5 1020.6L1579.5 1020.3L1575.5 1021.1L1573.3 1022.2L1571.7 1024.2L1571.8 1026.2L1573.5 1027.9L1577.5 1029.4L1583.5 1029.5ZM1452.7 1040.2L1454.4 1038.2L1453.2 1036.2L1447.2 1034.5L1443.2 1034.5L1439.2 1035.5L1437.8 1036.2L1436.5 1038.2L1438.2 1040.2L1443.2 1041.5L1449.2 1041.3Z" fill="#520000" fill-rule="evenodd"/><path d="M1623.6 1071.7L1411.2 1071.6L1379.1 1070.7L1270.9 1066.1L1212.8 1065.3L1184.7 1062.8L1184.7 788.7L1186.9 785.8L1189 779.8L1231.3 779.8L1239.2 815.9L1245.5 849.9L1249.4 871.9L1254.8 908L1256.8 914.7L1258.9 918.9L1261.7 922L1262.9 922.8L1264.9 922.8L1266.9 921.5L1268.9 918.6L1270.9 913.8L1280.4 875.9L1288.9 824.8L1292.9 793.8L1294.1 779.8L1488.8 779.8L1490.1 805.8L1492.8 825.9L1495.3 835L1497.3 838.2L1499.3 839.4L1501.3 839.1L1503.1 837.9L1505.4 834.9L1507.5 829.9L1509.4 822.6L1511.7 805.8L1512 779.8L1527.5 779.8L1527.8 809.8L1533 886L1535.4 899.8L1537.8 908L1539.4 911.9L1541.4 915L1543.4 916.7L1545.4 917.3L1547.4 916.7L1550.3 914L1552.7 910L1555.1 904L1558.4 892L1566.3 857.9L1573.5 838.1L1575.5 831.1L1577.5 820.6L1579.2 807.8L1580.6 779.8L1623.6 779.8ZM1588.3 1030.2L1591.5 1028.1L1592.7 1026.2L1592.7 1024.2L1591.4 1022.2L1587.5 1019.9L1581.5 1018.7L1575.5 1019.2L1571.5 1020.8L1569.5 1022.2L1568.3 1024.2L1568.3 1026.2L1569.6 1028.2L1573.5 1030.5L1577.5 1031.4L1581.5 1031.6L1585.5 1031.1ZM1452.6 1042.2L1456.6 1040.2L1457.6 1038.2L1456.6 1036.2L1451.2 1033.8L1445.2 1033.2L1439.2 1033.9L1434.5 1036.2L1433.5 1038.2L1434.5 1040.2L1439.2 1042.4L1445.2 1043.2Z" fill="#6c0000" fill-rule="evenodd"/><path d="M1623.6 1066.5L1371.1 1066.8L1321 1065.3L1268.9 1062.9L1216.8 1061.7L1200.8 1060.2L1184.7 1057.1L1184.7 849L1186.7 844.2L1192.7 819.8L1196.7 810.1L1198.7 807.1L1202.7 803L1206.7 800.5L1212.8 798.8L1216.8 798.5L1220.8 799.6L1222.8 800.9L1224.8 803.1L1226.8 806.3L1230.8 815.8L1234.1 827.9L1244.8 878.9L1249.6 906L1252.1 916L1254.8 923.4L1258.9 929.8L1260.9 931.6L1262.9 932.5L1264.9 932.4L1266.9 931.2L1268.9 928.7L1272.6 920L1278.3 898L1283.7 881.9L1286.3 871.9L1292.9 837.6L1296.9 809.8L1300.6 779.8L1356.8 779.8L1359.1 801.5L1361.1 809.9L1363.1 811.9L1365.1 809L1367.1 800.9L1369.1 786.9L1369.6 779.8L1410 779.8L1411.1 797.8L1412.6 807.8L1415.2 816L1417.2 818L1419.2 817.3L1421.2 813.9L1423.2 807.6L1425.2 795.8L1426.5 779.8L1483.4 779.8L1484.9 801.8L1487.4 821.9L1490.1 837.9L1493.3 849.2L1495.3 853.3L1497.3 855.8L1499.3 857.2L1501.3 857.7L1503.4 857.4L1506.6 855.9L1509.4 853.7L1517.4 844.4L1519.4 843.6L1521.4 845.3L1523.5 851.9L1527.6 886L1530.3 900L1532.7 910L1535.5 918L1539.4 925L1542.7 928L1545.4 929L1547.4 928.6L1549.4 927.5L1551.5 925.6L1554 922L1557.7 914L1561.5 901.2L1568.7 871.9L1577.5 840.2L1579.3 831.9L1583 805.8L1584.7 779.8L1605.9 779.8L1607.1 789.8L1609.2 797.8L1611.6 801.8L1613.6 802.3L1615.6 800.5L1617.6 796.1L1623.6 779.8ZM1588.8 1032.2L1592.8 1030.2L1594.8 1028.2L1595.6 1026.2L1595.5 1024.2L1594.3 1022.2L1591.9 1020.1L1587.5 1018.3L1583.5 1017.5L1579.5 1017.2L1573.5 1018L1568.5 1020.1L1566.3 1022.2L1565.2 1024.2L1565.1 1026.2L1566 1028.2L1568 1030.2L1571.9 1032.2L1575.5 1033.1L1579.5 1033.6L1583.5 1033.4ZM1451.3 1044.2L1455.3 1043.2L1459.3 1040.9L1460 1040.2L1460.6 1038.2L1459.6 1036.2L1456.7 1034.2L1453.3 1033L1449.2 1032.2L1443.2 1032.1L1439.2 1032.6L1434.5 1034.2L1431.7 1036.2L1430.7 1038.2L1431.2 1040.2L1433.2 1042L1437.2 1043.7L1443.2 1044.6Z" fill="#8b0000" fill-rule="evenodd"/><path d="M1407.2 1062.2L1377.1 1063.8L1347 1063.9L1315 1062.7L1266.9 1059.9L1222.8 1058.4L1212.8 1057.5L1204.5 1056.2L1196.9 1054.2L1188.7 1051L1184.7 1049.9L1184.7 919.9L1186.7 913.2L1187.2 910L1190.2 877.9L1193.8 855.9L1198 839.9L1200.7 833.4L1202.7 830L1204.7 827.5L1208.7 824.4L1214.8 822.3L1218.8 822.5L1220.8 823.3L1222.8 824.9L1224.8 827.6L1227.5 833.9L1230.8 845L1244.3 906L1248.7 922L1252.8 931.7L1256.8 937.5L1260.9 940.5L1262.9 941.1L1264.9 941L1266.9 940L1268.9 937.9L1270.9 934.5L1272.9 929.7L1280.9 900.3L1288.3 881.9L1290.9 873.2L1296.9 844L1306.9 779.8L1352.2 779.8L1354.8 803.8L1357.1 818.5L1359.5 827.9L1361.1 831.1L1363.1 832.2L1365.1 830.4L1366.2 827.9L1369.1 818.4L1373 797.8L1375.1 779.8L1405.3 779.8L1406.7 801.8L1409.2 818.8L1411.2 827.1L1413.2 832.3L1415.2 835.2L1417.2 836.2L1419.2 835.7L1421.2 833.7L1422.3 831.9L1424.9 825.9L1426.7 819.9L1430.6 801.8L1432.5 787.8L1433 779.8L1476.9 779.8L1478.5 793.8L1486.6 841.9L1489.3 853.8L1493.3 864.8L1495.3 868.4L1499.3 873L1503.4 875.2L1513.4 878.8L1517.4 882.3L1521.4 889.8L1530.2 918L1535.4 929.9L1538.2 934L1541.4 937.1L1543.4 938L1547.4 938.2L1551.5 936.2L1553.5 934.3L1557.5 928.3L1561.5 918.7L1565.8 904L1573.6 873.9L1581.7 837.9L1586.6 805.8L1589.6 779.8L1600 779.8L1601 787.8L1604.2 801.8L1606.6 807.8L1609.6 811.9L1611.6 813L1613.6 813.1L1615.6 812.1L1617.6 809.7L1621.6 801.7L1623.6 798.8L1623.6 1060.5L1547.4 1060.3L1521.4 1061.3L1485.3 1061.4L1457.3 1061.3L1437.2 1060.5ZM1589.9 1034.2L1593.5 1032.6L1596.7 1030.2L1598.1 1028.2L1598.6 1026.2L1598.3 1024.2L1597.2 1022.2L1595.5 1020.5L1589.5 1017.4L1581.5 1015.9L1573.5 1016.4L1569.5 1017.6L1565.5 1019.7L1562.9 1022.2L1561.9 1024.2L1561.7 1026.2L1562.2 1028.2L1563.6 1030.2L1566 1032.2L1569.5 1033.9L1573.5 1035.1L1579.5 1035.8L1585.5 1035.3ZM1451.1 1046.2L1457.3 1044.8L1462 1042.2L1463.5 1040.2L1463.7 1038.2L1462.7 1036.2L1460.2 1034.2L1455.1 1032.2L1449.2 1031.1L1443.2 1030.9L1437.2 1031.8L1433.2 1033.3L1429 1036.2L1428 1038.2L1428.1 1040.2L1429.4 1042.2L1431.2 1043.6L1435.2 1045.3L1443.2 1046.6Z" fill="#a90000" fill-rule="evenodd"/><path d="M1387.1 1060.4L1361.1 1061.7L1335 1061.4L1311.3 1060.2L1270.9 1057L1222.8 1054.3L1210.6 1052.2L1200.7 1048.9L1194.7 1045.6L1186.7 1039.3L1184.7 1038.3L1184.7 972.7L1186.7 968.7L1187.4 966.1L1190.7 947.8L1194.1 924L1198.1 886L1199.7 875.9L1203.2 863.9L1206.2 857.9L1208.7 854.3L1212.8 850.9L1216.8 849.7L1218.8 849.9L1220.8 851.1L1222.8 853.3L1224.8 857.1L1228.8 869.1L1237.7 908L1241.2 920L1244.2 928L1249.4 938L1254.2 944L1258.9 947.5L1262.9 948.7L1264.9 948.5L1266.9 947.7L1268.9 946.1L1270.9 943.4L1272.9 939.4L1276.6 928L1283 904L1285.3 898L1292.1 884L1294.8 875.9L1300.2 851.9L1313.6 779.8L1347.8 779.8L1353.1 815.9L1355.6 829.9L1357.1 835.4L1359.1 840.5L1361.1 843.3L1363.1 844.2L1365.1 843L1367.1 840.1L1369.1 835.4L1371.1 828.7L1377.6 799.8L1379.6 787.8L1380.4 779.8L1401 779.8L1403.1 805.8L1407.2 829.7L1409.2 836.7L1411.2 841.7L1413.8 845.9L1415.2 847.4L1417.2 848.2L1419.2 847.7L1421.2 846L1423.2 843.2L1428.5 831.9L1440.2 791.8L1442.2 783.8L1442.7 779.8L1465.5 779.8L1466.4 785.8L1468.1 791.8L1475.3 811.3L1478.5 821.9L1484.2 849.9L1486.7 859.9L1489.3 868.3L1493.3 877.8L1495.3 881.2L1499.3 886L1511.4 894.9L1514.6 898L1517.4 901.6L1521.4 909.2L1530.9 932L1535.4 939.7L1537.4 942.1L1541.4 945.1L1543.4 945.8L1547.4 946L1551.5 944.7L1553.5 943.4L1557.5 939.5L1561.8 932L1566.3 920L1572 900L1577 879.9L1589.5 813.6L1591.5 806.1L1593.5 801.6L1595.5 800.8L1597.5 803.2L1601.9 811.8L1605.6 817.5L1609.6 821L1611.6 821.8L1613.6 821.7L1615.6 820.8L1617.6 819L1621.6 813.7L1623.6 811.7L1623.6 1053.5L1569.5 1050.5L1543.4 1050.8L1521.4 1053L1501.3 1053.9L1475.3 1053.9L1461.3 1052.8L1457.4 1052.2L1456.3 1050.2L1459.3 1048.9L1463.3 1046.2L1465.3 1044.6L1467 1042.2L1467.6 1040.2L1467.3 1038.2L1466.1 1036.2L1463.3 1033.9L1457.3 1031.4L1449.2 1029.9L1443.2 1029.7L1437.2 1030.5L1432.3 1032.2L1428.6 1034.2L1426.4 1036.2L1425.1 1038.2L1424.7 1040.2L1425.2 1042.6L1427.2 1045.6L1430.4 1048.2L1432 1050.2L1431.2 1050.6L1427.2 1052L1417.2 1054L1402.9 1058.2ZM1587.1 1038.2L1591.5 1036.9L1597.5 1033.7L1600.8 1030.2L1601.6 1028.2L1601.8 1026.2L1601.3 1024.2L1600.2 1022.2L1598.2 1020.1L1593.5 1017.3L1589.5 1015.9L1583.5 1014.6L1577.5 1014.4L1571.5 1015.1L1567.5 1016.4L1563.5 1018.4L1561.1 1020.1L1558.2 1024.2L1557.9 1028.2L1559.5 1031.4L1563.5 1035L1567.5 1037.1L1573.5 1038.8L1577.5 1039.3L1583.5 1039Z" fill="#c60000" fill-rule="evenodd"/><path d="M1379.1 1058.4L1353 1059.8L1325 1058.9L1304.9 1057.4L1266.9 1053.2L1236.8 1051L1222.8 1049.1L1210.8 1045.8L1204.7 1043L1200.4 1040.2L1196.2 1036.2L1193.5 1032.2L1191.7 1028.2L1190.1 1022.2L1188.9 1014.1L1189.1 1004.1L1191 992.1L1194.7 974.1L1197.6 954.1L1207.1 912L1210.1 902L1212.8 895.8L1215.7 892L1216.8 891.1L1218.8 890.7L1220.8 891.8L1222.8 894.5L1226.8 904.9L1231.9 922L1235 930L1239.5 938L1244.2 944L1248.1 948L1254.8 953.1L1260.9 955.3L1264.9 955.2L1266.9 954.5L1270.1 952L1272.9 948.2L1275.5 942L1285.8 906L1288.4 900L1294.9 888L1298.5 877.9L1303.4 857.9L1314.3 805.8L1320.5 779.8L1342.4 779.8L1351.9 827.9L1354.2 837.9L1357.1 846.7L1359.1 851.1L1361.1 853.8L1363.1 854.7L1365.1 853.8L1367.1 851.3L1369.8 845.9L1373.3 835.9L1382.4 803.8L1385.9 787.8L1386.9 779.8L1395.4 779.8L1396 787.8L1398.3 803.8L1403.8 831.9L1409.2 849L1413.2 856.8L1415.2 858.8L1417.2 859.5L1419.2 859L1421.2 857.2L1423.2 854.5L1429.5 841.9L1439.2 819.3L1441.2 815.8L1445.2 810.8L1449.2 807.6L1453.3 806L1457.3 806.3L1461.3 808.6L1467.3 815.2L1471.3 821.8L1473.3 826.3L1475.3 832.2L1484.3 865.9L1489.3 880.7L1493.3 889.1L1497.3 894.8L1509.4 906.6L1515.4 913.7L1521.4 923.7L1528.5 938L1533.4 945.7L1535.4 948.1L1539.4 951.5L1541.4 952.6L1545.4 953.6L1551.5 952.6L1555.5 950.5L1558.4 948L1563.5 941.5L1567.8 932L1572.4 918L1577.7 898L1581.6 879.9L1589.5 836.7L1591.5 828.6L1593.5 823.5L1595.5 821.5L1597.5 821.7L1606.5 829.9L1609.6 831.6L1611.6 832L1613.6 831.7L1615.6 830.7L1621.6 824.3L1623.6 822.8L1623.6 1045.7L1617.6 1044.9L1607.6 1042.7L1605.6 1042.1L1602.7 1040.2L1602.5 1038.2L1605.7 1030.2L1605.5 1026.2L1603.5 1022.2L1598.9 1018.1L1593.5 1015.6L1587.5 1013.8L1581.5 1012.8L1575.5 1012.7L1571.5 1013.2L1565.5 1014.8L1561.5 1016.7L1556.5 1020.1L1553.3 1024.2L1551.7 1028.2L1550.2 1034.2L1548.2 1036.2L1545.4 1037.3L1531.4 1040.8L1521.4 1042.7L1505.4 1044.6L1493.3 1045L1481.3 1044.4L1477.3 1043.4L1475.5 1042.2L1470.5 1036.2L1468 1034.2L1463.3 1031.7L1453.3 1029L1447.2 1028.4L1441.2 1028.5L1433.2 1030.3L1427.2 1033.3L1423.6 1036.2L1419.2 1042.9L1417.2 1044.9L1403.1 1053.2L1394.3 1056.2Z" fill="#e20000" fill-rule="evenodd"/><path d="M1375.1 1056.4L1363.1 1057.4L1349 1057.9L1321 1056.6L1302.9 1054.7L1268.9 1049.4L1242.8 1046.6L1228.8 1044.3L1220.8 1042.2L1215.3 1040.2L1210.8 1037.8L1206.7 1035L1203.9 1032.2L1201.3 1028.2L1199.7 1024.2L1198.1 1018.1L1197.4 1010.1L1198.2 1000.1L1199.5 992.1L1203.2 976.1L1206.2 960.1L1208.1 954.1L1210 950L1212.8 945.9L1214.8 943.9L1218.8 941.7L1220.8 941.5L1222.8 941.9L1226.8 944.3L1233.8 950L1240.8 954.6L1250.8 959.2L1258.9 961.2L1264.9 961L1268.9 959.5L1272.6 956.1L1274.9 952.5L1278.2 944L1284.9 919.7L1287.5 912L1290.9 904.1L1297.7 892L1301.6 881.9L1307.9 857.9L1321 802.9L1325 791.6L1329 784.7L1331 783L1333 782.9L1335 784.8L1339 792.4L1343 805.2L1350.4 835.9L1355 851.8L1359.1 861.5L1361.1 864.1L1363.1 865.1L1365.1 864.4L1367.1 862.2L1369.5 857.9L1373.7 847.9L1385.1 817.5L1387.1 813.4L1389.1 810.5L1391.1 809.8L1393.1 811.8L1395.1 816.2L1402.6 841.9L1409.2 860.9L1413.2 867.9L1415.2 869.7L1417.2 870.3L1419.2 869.7L1421.2 868.1L1423.2 865.6L1437.2 837.8L1441.2 831.7L1445.2 827L1449.2 823.8L1453.3 822.2L1457.3 822.3L1461.3 824.6L1465.3 829.3L1469.3 837L1486.8 886L1489.3 892L1493.3 899.4L1499.3 907.7L1513.6 924L1517.4 929.5L1527.3 946L1531.6 952L1537.4 958.1L1539.4 959.4L1543.4 961L1547.4 961.4L1551.5 960.7L1555.5 959.3L1559.5 957L1562.8 954.1L1565.5 950.9L1570.3 942L1575.2 928L1580 910L1591.5 854.1L1593.5 848.2L1595.5 844.7L1597.5 843.1L1599.6 842.8L1607.6 844.6L1611.6 844.4L1615.6 842.3L1621.6 836.2L1623.6 834.8L1623.6 1036.7L1619.6 1035.7L1615.6 1033.3L1613.6 1031.1L1610.6 1026.2L1607.6 1022.2L1602.9 1018.1L1599.6 1016.2L1593.5 1013.7L1585.5 1011.6L1579.5 1010.7L1573.5 1010.7L1565.5 1012.1L1557.5 1015.2L1552.5 1018.1L1541.4 1025.9L1529.4 1032.2L1521.4 1034.8L1507.4 1037.2L1495.3 1037.9L1483.3 1037.2L1477.3 1035.5L1467.3 1031L1459.3 1028.5L1447.2 1026.9L1441.2 1026.9L1437.2 1027.6L1431.2 1029.5L1426 1032.2L1413.2 1042L1401.1 1049.6L1397.1 1051.6L1388.8 1054.2Z" fill="#f30704" fill-rule="evenodd"/><path d="M1373.1 1054.3L1361.1 1055.5L1347 1056L1331 1055.3L1317 1054L1300.9 1051.7L1266.9 1044.3L1244.8 1041L1234.8 1038.9L1222.8 1035.1L1218.8 1033.1L1214.8 1030.2L1212.8 1028L1210.2 1024.2L1208.4 1020.1L1206.9 1014.1L1206.6 1010.1L1206.9 1004.1L1208.6 994.1L1210.2 988.1L1216 974.1L1218.8 969.7L1220.8 967.8L1224.8 965.9L1228.8 965.4L1256.8 966.8L1264.9 966.1L1270.9 963.4L1274.5 960.1L1276.9 956.4L1280.3 948L1284.9 931.5L1288.9 919.6L1292.9 910.4L1300.7 896L1303.9 888L1323 818.3L1327 807.9L1329 804.8L1330.1 803.8L1331 803.1L1333 803L1335 804.4L1337 807.5L1341 817.9L1355.8 863.9L1359.1 871.2L1361.1 873.6L1363.1 874.5L1365.2 873.9L1367.1 872.3L1369.1 869.4L1372.9 861.9L1383.1 838.6L1387.1 832L1389.1 830.2L1391.1 829.9L1393.1 831.4L1395.1 834.5L1399.1 844.1L1405.8 863.9L1409.2 872.1L1413.2 878.1L1415.2 879.6L1417.2 880.1L1419.2 879.7L1421.2 878.3L1423.2 876L1427.2 869.2L1435.2 852.8L1437.2 849.5L1441.2 844.7L1445.2 841.5L1451.2 838.4L1455.3 838L1459.3 839.8L1463.3 844.4L1467.3 851.5L1477.3 873.1L1487.3 898.6L1491.3 906.5L1495.3 912.9L1511.4 933.1L1531.4 961.1L1537.4 966.6L1541.4 968.7L1545.4 969.5L1549.4 969.5L1553.5 968.9L1561.5 966L1567.5 961.8L1571.5 956.6L1575.5 947.8L1579.2 936L1584.2 916L1591.5 882.8L1593.5 875.5L1595.5 870.2L1597.5 866.8L1599.6 864.5L1603.6 861.9L1609.6 859.3L1613.6 857L1621.6 849.1L1623.6 847.8L1623.6 1028L1621.6 1027.4L1617.6 1025.2L1605.6 1016.7L1597.5 1013L1581.5 1008.5L1575.5 1007.5L1569.5 1007.6L1561.5 1009.1L1551.5 1012.7L1543.4 1016.5L1529.4 1024.4L1523.4 1027L1515.4 1029.3L1505.4 1031.2L1495.3 1031.8L1483.3 1031.5L1477.3 1030.7L1463.3 1027.2L1453.3 1025.5L1443.2 1024.9L1437.2 1025.8L1431.2 1027.8L1425.2 1030.8L1401.1 1045.7L1395.1 1048.9L1385.2 1052.2Z" fill="#fa150a" fill-rule="evenodd"/><path d="M1371.1 1052.4L1355 1053.9L1339 1053.8L1317 1051.7L1298.1 1048.2L1266.9 1038.9L1246.7 1034.2L1234.8 1030.1L1227.4 1026.2L1222.9 1022.2L1220.1 1018.1L1218.2 1012.1L1218.4 1004.1L1220.8 994L1223.5 988.1L1226.7 984.1L1228.8 982.3L1234.8 978.6L1241.5 976.1L1248.8 974.3L1260.9 972.3L1266.9 970.5L1272.9 966.9L1275.9 964.1L1278.9 960.1L1282.4 952L1286.9 937.2L1290.9 926.4L1302.9 902.2L1306.3 894L1323 837.1L1327 827.6L1329 824.5L1331 822.8L1333 822.5L1335 823.7L1339 830.1L1345 844.4L1357.1 876.3L1359.2 879.9L1361.1 882L1363.1 882.8L1365.1 882.4L1367.1 881.1L1369.7 877.9L1374.3 869.9L1383.1 852.3L1387.1 846.3L1389.1 844.7L1391.1 844.5L1393.1 845.6L1395.1 848.2L1399.1 857.2L1405.2 874L1409.2 882.4L1413.2 887.3L1415.2 888.6L1417.2 889L1419.2 888.6L1421.2 887.5L1424.5 884L1427.2 879.8L1435.2 864.6L1437.2 861.6L1441.2 857.3L1445.2 855.1L1451.2 853.7L1455.3 854L1459.3 856.2L1461.3 858.1L1465.3 863.6L1471.3 874L1475.3 882.2L1486.3 908L1490.5 916L1495.3 923.6L1525.4 963.8L1531.4 971.1L1535.4 975.1L1539.4 978.3L1543.4 980.4L1547.4 981.5L1555.5 981.8L1563.5 980.4L1567.5 978.4L1569.5 976.6L1573.5 971.1L1577.5 963.3L1580.8 954.1L1593.5 903L1597.5 891.1L1600.2 886L1603.6 881.5L1613.6 872L1621.6 863.3L1623.6 862.1L1623.6 1021.2L1619.6 1020L1603.6 1012.5L1585.2 1006.1L1573.5 1000.7L1569.5 999.8L1565.5 999.9L1557.5 1001.2L1547.4 1004.2L1541.4 1007.7L1530.9 1016.1L1525.4 1019.4L1517.4 1022.4L1507.4 1024.9L1497.3 1026.2L1481.3 1026.5L1473.3 1026L1459.3 1023.8L1449.2 1022.8L1443.2 1022.7L1437.2 1023.7L1433.2 1025L1425.2 1028.9L1393.1 1046.6L1383.1 1050.1Z" fill="#ff240f" fill-rule="evenodd"/><path d="M1371.1 1050.3L1355 1052L1339 1051.8L1319 1049.7L1309 1047.9L1300.9 1046L1279.6 1038.2L1247.7 1024.2L1242.8 1021L1239.5 1018.1L1236.5 1014.1L1235.3 1010.1L1235.6 1004.1L1237.3 998.1L1239.1 994.1L1242.4 990.1L1248.5 986.1L1260.9 980.5L1266.9 977L1274.9 970.4L1278.9 966L1281.6 962.1L1284.6 956.1L1291.8 936L1302.1 916L1307 904.8L1310.5 894L1317.7 867.9L1325 847.7L1329 840.8L1331 839.1L1333 838.7L1335 839.6L1337 841.6L1341 848L1347 860.4L1357.1 884.4L1359.7 888L1361.1 889.2L1363.1 889.9L1365.1 889.7L1367.1 888.7L1371.1 884.6L1385.1 862.6L1387.1 860.1L1389.1 858.6L1391.1 858.3L1393.1 859.4L1395.1 862L1404.8 884L1409.2 891.5L1413.2 895.7L1415.2 896.8L1417.2 897.3L1419.2 897L1421.2 896.2L1425.2 892.6L1428.5 888L1435.2 876.5L1439.2 871.6L1441.2 870.1L1445.2 868.6L1451.2 868.1L1455.3 868.7L1459.3 870.8L1463.3 874.8L1469.3 883.9L1473.5 892L1484.3 916L1491.3 928.5L1497.3 937.4L1531.5 984.1L1533.9 988.1L1535.3 992.1L1535.4 994.1L1534.6 998.1L1532.6 1002.1L1528.3 1008.1L1523.4 1012.7L1515.4 1016.7L1509.4 1018.6L1501.3 1020.4L1485.3 1022L1473.3 1022.1L1447.2 1020.3L1439.2 1020.9L1431.2 1023.8L1391.1 1044.6L1381.1 1048.2ZM1623.6 1015.3L1619.6 1014.4L1596.2 1006.1L1591.2 1004.1L1587.7 1002.1L1585.4 1000.1L1582.6 996.1L1581.5 992.1L1581.2 986.1L1581.7 976.1L1582.8 970.1L1587.2 956.1L1595.5 923.3L1599.6 911L1603.6 902.3L1607.6 896L1619.6 880.6L1621.6 878.7L1623.6 877.6Z" fill="#ff360c" fill-rule="evenodd"/><path d="M1351 1050.2L1339 1049.8L1321 1047.7L1307 1044.9L1296.9 1041.5L1285.6 1036.2L1278.4 1032.2L1263.8 1022.2L1257 1016.1L1255.6 1014.1L1254.3 1010.1L1254.7 1006.1L1257.4 1000.1L1280.9 969.1L1286.6 960.1L1293.9 942L1302.9 926L1307 917.3L1311.5 904L1319 876.3L1323 865.1L1327 857.2L1329 854.5L1331 852.8L1333 852.3L1335 852.8L1337 854.4L1341 859.5L1347 870.1L1354 886L1357.1 891.7L1359.1 894.2L1361.1 895.8L1363.1 896.4L1365.1 896.3L1367.1 895.5L1371.1 892.4L1385.1 875.7L1389.1 872.6L1391.1 872.4L1393.1 873.5L1395.1 875.7L1405.1 894L1409.2 900.1L1413.2 904L1417.2 905.5L1421.2 904.7L1425.2 901.8L1429.2 897.1L1437.2 885.9L1441.2 882.7L1445.2 881.5L1451.2 881.4L1455.3 882L1459.3 883.9L1463.3 887.6L1467.3 893.3L1471.3 900.9L1480.9 922L1486.3 932L1493.3 943.1L1512.4 970.1L1521.9 986.1L1524.1 992.1L1524.2 994.1L1523.3 998.1L1521.4 1001.8L1519.4 1004.4L1515.4 1008.1L1512.3 1010.1L1503.4 1014L1493.3 1016.4L1479.3 1018.1L1471.3 1018.4L1447.2 1017.8L1439.2 1018.6L1433.2 1020.7L1395.1 1040L1385.1 1044.4L1377.1 1046.9L1369.1 1048.6ZM1623.6 1009L1617.6 1007.7L1600.7 1002.1L1596.2 1000.1L1593.2 998.1L1591.4 996.1L1589.6 992.1L1588.7 980.1L1589 974.1L1589.8 970.1L1594.3 956.1L1599.8 936L1603.9 924L1608.5 914L1615.6 902.1L1619.6 896.5L1621.6 894.5L1623.6 893.4Z" fill="#ff4908" fill-rule="evenodd"/><path d="M1353 1048.2L1341 1048L1325 1046.1L1311 1043.3L1300.9 1040L1290 1034.2L1279 1026.2L1270.9 1018.1L1269.5 1016.1L1267.8 1012.1L1267.6 1008.1L1268.4 1004.1L1275.2 986.1L1279.4 978.1L1288.1 964.1L1296.9 945.2L1305 932L1309 923.8L1313 911.7L1321 882.2L1324.1 873.9L1327 868.3L1329 865.8L1331 864.2L1333 863.6L1335 864L1339 867L1345 875.6L1355 895.6L1358.4 900L1361.1 902.1L1363.1 902.7L1365.1 902.7L1369.1 901.1L1373.2 898L1385.1 887.3L1389.1 885.1L1391.1 885.1L1393.1 886L1397.1 890.4L1405.2 903.2L1409.2 908.7L1413.2 912.4L1417.2 913.9L1421.2 913.3L1425.2 910.9L1429.2 907.2L1437.2 898.1L1441.2 895.1L1445.2 893.7L1451.2 893.1L1455.3 893.6L1459.3 895.5L1463.3 899.6L1467.2 906L1477.3 928.3L1483.6 940L1492.6 954.1L1503 968.1L1506.4 974.1L1510.6 984.1L1512.5 990.1L1512.7 994.1L1512.2 996.1L1510.1 1000.1L1506 1004.1L1501.3 1007.1L1494.4 1010.1L1487.3 1012.2L1475.3 1014.2L1445.2 1015.3L1437.2 1016.8L1431.2 1019.4L1417.2 1027L1391.1 1039.4L1383.1 1042.7L1369.1 1046.5ZM1623.6 1002.2L1615.5 1000.1L1607.6 996.7L1603.1 994.1L1601 992.1L1598.6 988.1L1597.5 984.1L1596.8 978.1L1597 974.1L1597.8 970.1L1605.8 944L1610.1 932L1613.6 924L1617.6 916.6L1621.6 911.4L1623.6 910.2Z" fill="#ff5e0b" fill-rule="evenodd"/><path d="M1353 1046.3L1341 1046L1326.7 1044.2L1313 1041.3L1302.9 1037.9L1298.9 1035.9L1293.3 1032.2L1284 1024.2L1280.3 1020.1L1277.5 1016.1L1275.7 1010.1L1275.7 1006.1L1276.7 1000.1L1278.4 992.1L1280.3 986.1L1284 978.1L1291.6 964.1L1298.5 950L1307.4 936L1310.5 930L1314 920L1323 888.4L1325.5 881.9L1329 876.2L1331 874.5L1333 873.8L1335 874L1339 876.8L1345 885L1355 902.5L1357.9 906L1361.1 908.4L1365.1 909L1369.1 907.8L1385.1 897.7L1389.1 896.2L1391.1 896.3L1393.1 897.1L1395.1 898.6L1399.1 903.5L1409.2 917.4L1413.2 920.9L1415.2 921.9L1419.2 922.4L1423.2 921.2L1428.2 918L1439.2 908.7L1445.2 905.8L1449.2 905L1453.3 904.9L1457.3 906.2L1459.3 907.6L1461.4 910L1465.3 916.2L1475.2 938L1481.3 949.4L1487.3 959L1495.5 970.1L1497.7 974.1L1500.2 982.1L1501.5 990.1L1501.1 994.1L1499.1 998.1L1495.3 1001.6L1491.2 1004.1L1485.3 1006.6L1479.3 1008.5L1467.3 1010.7L1443.2 1012.8L1437.2 1014.4L1431.2 1017.2L1419.2 1023.9L1383.1 1040.3L1369.1 1044.4L1361.1 1045.6ZM1623.6 993.4L1621.6 993L1617.6 991.2L1611.6 986.5L1608.6 982.1L1607.1 976.1L1608.1 968.1L1613.6 948L1619.6 933.8L1621.6 930.7L1623.6 929.1Z" fill="#ff720f" fill-rule="evenodd"/><path d="M1353 1044.3L1343 1044.2L1328 1042.2L1315 1039.3L1304.9 1035.8L1296.9 1030.9L1289.7 1024.2L1286.3 1020.1L1283.7 1016.1L1281.8 1010.1L1281.8 1004.1L1282.7 994.1L1284 988.1L1285.3 984.1L1289.8 974.1L1298.9 956.2L1302.9 949.3L1309.2 940L1312.4 934L1315.4 926L1323 900.3L1326.2 892L1329 887L1331 885L1333 884.1L1335 884.2L1339 886.8L1343 891.5L1355 909.3L1359.1 913.4L1361.1 914.5L1363.1 915.2L1367.1 915L1371.1 913.8L1385.1 907.5L1389.1 906.6L1391.1 906.8L1393.1 907.5L1397.1 910.8L1409.2 925.9L1411.6 928L1415.2 930L1419.2 930.6L1423.2 929.8L1427.3 928L1439.2 921L1447.2 918.6L1453.3 918.3L1457.3 919.8L1459.3 921.5L1463.3 927.2L1475.9 954.1L1485.4 970.1L1487.3 974.1L1488.8 980.1L1489.6 988.1L1489.3 992.1L1487.6 996.1L1483.2 1000.1L1479.5 1002.1L1473.3 1004.5L1461.3 1007.3L1443.2 1009.9L1437.2 1011.7L1419.2 1021.8L1387.1 1036.2L1379.1 1039.4L1367.1 1042.7Z" fill="#ff8510" fill-rule="evenodd"/><path d="M1353 1042.3L1343 1042.2L1329 1040.1L1317 1037.4L1307 1033.8L1300.8 1030.2L1294.2 1024.2L1291 1020.1L1288.6 1016.1L1286.8 1010.1L1286.4 1004.1L1286.7 994.1L1287.7 988.1L1289.7 982.1L1293.9 972.1L1297.9 964.1L1313.9 938L1317.2 930L1325 905.9L1327.8 900L1331 895.7L1333 894.6L1335 894.6L1339 896.8L1345 903.2L1355 915.9L1359.1 919.5L1361.1 920.6L1363.1 921.2L1367.1 921.3L1385.1 916.9L1389.1 916.4L1391.1 916.7L1393.1 917.4L1397.1 920.3L1409.2 933.9L1412 936L1415.2 937.7L1419.2 938.4L1423.2 938L1437.2 933.4L1443.2 932.4L1451.2 932.5L1455.3 933.6L1457.3 934.9L1460.1 938L1463.3 943.3L1476.2 972.1L1477.4 978.1L1477.4 988.1L1476.8 992.1L1474.4 996.1L1469.3 999.6L1463 1002.1L1455.5 1004.1L1443.2 1006.6L1437.2 1008.7L1419.2 1019.6L1401.1 1027.2L1381.1 1036.3L1367.1 1040.6Z" fill="#ff9510" fill-rule="evenodd"/><path d="M1353 1040.3L1343 1040.1L1331 1038.3L1319 1035.5L1309 1031.8L1302.8 1028.2L1296.4 1022.2L1292.5 1016.1L1290.7 1010.1L1290 1000.1L1290.3 992.1L1291.5 986.1L1294.2 978.1L1297.7 970.1L1300.9 964.1L1315.2 942L1318.8 934L1327 912L1329 908.4L1331 906.1L1333 904.9L1335 904.7L1339 906.4L1345 911.7L1355 922.2L1359.1 925.4L1361.1 926.4L1367.1 927.3L1385.1 925.6L1391.1 925.9L1393.1 926.6L1397.1 929.2L1409.2 941.4L1415.2 945L1419.2 945.8L1423.2 945.9L1437.2 943.9L1443.2 944L1447.2 944.8L1451.2 946.1L1454.4 948L1456.5 950L1459.3 954L1463.3 962.2L1465.7 968.1L1467.3 974.1L1467.6 980.1L1466.9 986.1L1465.9 990.1L1463.3 994.4L1461.3 996.1L1457.3 998.4L1441.2 1003.6L1437.2 1005.4L1433.2 1007.8L1423.2 1015.1L1417.7 1018.1L1399.1 1025.6L1381.1 1034L1375.1 1036.2L1367.1 1038.5Z" fill="#ffa510" fill-rule="evenodd"/><path d="M1353 1038.3L1343 1038.1L1331 1036.1L1319 1032.9L1309 1028.8L1302.9 1024.8L1298.4 1020.1L1295 1014.1L1293.6 1008.1L1293 998.1L1293.4 990.1L1295.5 982.1L1298.5 974.1L1302.9 965.8L1313 951.4L1317 944.9L1327 922.1L1329 918.6L1331 916.2L1333 914.9L1335 914.5L1337 914.8L1341 916.9L1347 921.2L1357.1 929.7L1361.1 931.9L1367.1 933.1L1385.1 933.5L1391.1 934.3L1393.1 935L1397.1 937.5L1409.2 948.6L1415.2 952.1L1421.2 953.5L1437.2 954.5L1441.2 955.4L1445.2 957L1449.2 959.7L1453.3 964L1455.7 968.1L1457.6 974.1L1457.8 978.1L1456.8 984.1L1455.4 988.1L1452.8 992.1L1447.5 996.1L1435.2 1002.8L1420.5 1014.1L1415.2 1017L1399.1 1023.2L1375.1 1033.9L1365.1 1036.8Z" fill="#ffb310" fill-rule="evenodd"/><path d="M1353 1036.2L1343 1036L1332.8 1034.2L1321 1031L1311 1026.9L1304.9 1023L1300.9 1018.9L1298.1 1014.1L1296.5 1008.1L1295.7 998.1L1296.1 990.1L1298.1 982.1L1301.2 974.1L1304.9 967.4L1317.4 950L1329 928.1L1331 925.8L1333 924.4L1335 923.9L1339 924.4L1345 927.1L1357.1 935.2L1361.1 937.2L1367.1 938.6L1387.1 940.8L1393.1 942.6L1397.1 945.2L1407.2 954.1L1413.2 958L1419.2 960.3L1433.2 963.7L1439.2 966.5L1443.2 970.1L1444.5 972.1L1445.7 976.1L1445.5 980.1L1444.5 984.1L1443 988.1L1440.7 992.1L1435.2 998.1L1419.1 1012.1L1413.2 1015.3L1397.1 1021.5L1381.1 1029.1L1373.4 1032.2L1363.1 1035Z" fill="#ffc110" fill-rule="evenodd"/><path d="M1351 1034.2L1343 1033.8L1331 1031.4L1320.5 1028.2L1311.5 1024.2L1305.8 1020.1L1302.3 1016.1L1300.3 1012.1L1299 1006.1L1298.2 996.1L1298.6 990.1L1300.6 982.1L1304 974.1L1307.6 968.1L1318.4 954.1L1329 936.6L1331 934.4L1333 933L1335 932.3L1339 932.3L1345 933.8L1349 935.5L1359.1 941.4L1363.1 943L1385.1 946.9L1391.1 948.8L1395.1 951L1406.3 960.1L1411.2 963.3L1425.6 970.1L1428.9 972.1L1431 974.1L1432.2 976.1L1433.2 980.1L1433.2 988.1L1431.7 994.1L1429.1 998.1L1425.6 1002.1L1416.8 1010.1L1409.2 1014.1L1395.1 1019.8L1373.1 1029.9L1363.1 1032.8Z" fill="#ffcf08" fill-rule="evenodd"/><path d="M1363.1 1030.6L1353 1032L1345 1031.9L1337 1030.5L1325 1027.1L1315 1023L1309 1019.3L1304.9 1015L1302.6 1010.1L1300.9 1000.5L1300.8 992.1L1301.9 986.1L1304.9 978L1309.4 970.1L1319.2 958.1L1329 944.4L1331 942.3L1335 940L1341 939.5L1347 940.5L1363.1 947.9L1383.1 952.5L1391.1 955.4L1395.1 957.8L1417.5 974.1L1421.6 978.1L1424.7 984.1L1425.8 990.1L1425.3 994.1L1424.5 996.1L1420.2 1002.1L1415.2 1006.8L1409.2 1010.6L1395.1 1016.9L1379.1 1024.9L1371.1 1028.3Z" fill="#ffdd02" fill-rule="evenodd"/><path d="M1363.1 1028.3L1353 1029.8L1345 1029.7L1337.1 1028.2L1327 1025.1L1319 1021.9L1312.2 1018.1L1308 1014.1L1305.1 1008.1L1303.6 1000.1L1303.4 992.1L1304.9 985L1308.9 976.1L1314.4 968.1L1329 951.4L1333 948L1337 946.3L1343 945.6L1349 946.4L1363.1 952.6L1381.1 957.5L1391.1 961.6L1400.5 968.1L1409.7 976.1L1415 982.1L1418.2 988.1L1418.8 992.1L1418 996.1L1415.2 1000.4L1409.2 1005.7L1401.9 1010.1L1379.1 1022.3L1371.1 1025.8Z" fill="#ffeb0b" fill-rule="evenodd"/><path d="M1361.1 1026.4L1353 1027.5L1345 1027.4L1337 1025.7L1326.3 1022.2L1317.6 1018.1L1313 1014.8L1309.3 1010.1L1307.7 1006.1L1306.2 998.1L1306.4 990.1L1308.2 984.1L1312.2 976.1L1318.1 968.1L1327 959.1L1333 954.3L1339 951.7L1345 950.9L1351 952L1363.1 957L1381.1 962.7L1388.6 966.1L1394.8 970.1L1401.1 976.1L1407.5 984.1L1410.5 990.1L1410.6 994.1L1410 996.1L1407.2 1000.1L1402.6 1004.1L1388.1 1014.1L1378 1020.1L1369.1 1024.2Z" fill="#fff819" fill-rule="evenodd"/><path d="M1359.1 1024.5L1351 1025.4L1345 1025.1L1339 1023.9L1328.4 1020.1L1321 1016.6L1317 1013.8L1313.5 1010.1L1310.7 1004.1L1309.1 996.1L1309.5 990.1L1311.4 984.1L1315 977.3L1319 971.4L1325 965.3L1333 959.5L1339 956.9L1345 955.8L1351 956.5L1375.1 965L1383.1 968.6L1388.6 972.1L1393.1 976.3L1398.8 984.1L1401.5 990.1L1401.7 994.1L1399.9 998.1L1396.5 1002.1L1385.3 1012.1L1379.8 1016.1L1372.5 1020.1L1365.1 1023.1Z" fill="#ffff32" fill-rule="evenodd"/><path d="M1357.1 1022.5L1349 1023.1L1343 1022.5L1335.5 1020.1L1326.4 1016.1L1323 1014.1L1318.4 1010.1L1315.7 1006.1L1313.3 1000.1L1312.6 994.1L1313.5 988.1L1317 980.2L1320.8 974.1L1324.3 970.1L1329 966.2L1335 962.9L1341 960.8L1347 960L1353 961L1369.1 966.7L1376.3 970.1L1382.5 974.1L1386.8 978.1L1391 984.1L1393.4 990.1L1393.5 994.1L1392.1 998.1L1387.8 1004.1L1380.1 1012.1L1374.5 1016.1L1369.1 1019L1363.1 1021.2Z" fill="#ffff54" fill-rule="evenodd"/><path d="M1355 1020.3L1349 1020.7L1343 1020L1337 1018L1329.4 1014.1L1323.9 1010.1L1321 1006.8L1318.2 1002.1L1316.9 998.1L1316.5 992.1L1317.3 988.1L1319.9 982.1L1323.5 976.1L1327 972.1L1331 969L1335 966.8L1341 964.7L1347 963.8L1353 964.6L1363.1 968.1L1371.1 971.8L1377.1 976.1L1381.2 980.1L1385.1 985.9L1386.6 990.1L1386.8 994.1L1385.8 998.1L1382.2 1004.1L1377 1010.1L1372.2 1014.1L1367.1 1017L1361.1 1019.2Z" fill="#ffff78" fill-rule="evenodd"/><path d="M1351 1018.2L1345 1017.8L1341 1016.6L1332.6 1012.1L1327.7 1008.1L1324.3 1004.1L1322.1 1000.1L1320.9 996.1L1320.7 992.1L1322.3 986.1L1325 980.8L1328.3 976.1L1331 973.5L1335 970.9L1341 968.5L1345 967.6L1349 967.5L1355 968.8L1361.1 971L1367.1 974.1L1372.3 978.1L1377.1 983.3L1380 988.1L1381 992.1L1380.7 996.1L1379.2 1000.1L1375.2 1006.1L1371.1 1010.6L1367.1 1013.6L1363.1 1015.6L1357.1 1017.3Z" fill="#ffff9a" fill-rule="evenodd"/><path d="M1357.1 1014.2L1349 1015.2L1345 1014.7L1341 1013.2L1336.1 1010.1L1331.7 1006.1L1328.4 1002.1L1326.3 998.1L1325.5 992.1L1326.3 988.1L1328.1 984.1L1330.7 980.1L1333 977.5L1337 974.5L1341 972.6L1345 971.5L1349 971.3L1353.3 972.1L1359.1 974.3L1365.1 978L1369.1 981.5L1372.8 986.1L1374.7 990.1L1375.1 992.1L1375 996.1L1373.5 1000.1L1371.1 1004.1L1367.8 1008.1L1365.1 1010.5L1362.5 1012.1Z" fill="#ffffbe" fill-rule="evenodd"/><path d="M1355 1010.6L1349 1011.5L1345 1010.8L1343 1009.9L1340.3 1008.1L1336 1004.1L1333 1000.1L1331.2 996.1L1330.9 994.1L1331.2 990.1L1333 985.7L1337.7 980.1L1343 976.8L1345.7 976.1L1349 975.9L1353 976.7L1356.3 978.1L1361.1 981.1L1364.5 984.1L1367.1 987.3L1368.5 990.1L1369.1 992.1L1368.9 996.1L1366.3 1002.1L1363.1 1005.9L1361.1 1007.6Z" fill="#ffffda" fill-rule="evenodd"/><path d="M1355 1004.4L1351 1005.9L1347 1005.8L1343 1003.7L1341 1001.9L1338.3 998.1L1337.1 994.1L1337.6 990.1L1339.9 986.1L1343 983.4L1347 981.9L1351 982.1L1353 982.8L1358.1 986.1L1361.2 990.1L1362.1 994.1L1361 998.1L1358 1002.1Z" fill="#fffff5" fill-rule="evenodd"/>
<rect x="1184.7" y="779.8" width="438.9" height="344.5" fill="none" stroke="#000" stroke-width="2"/>
<rect x="1629.8" y="1113.5" width="24.4" height="11.2" fill="#2e0000"/><rect x="1629.8" y="1102.8" width="24.4" height="11.2" fill="#390000"/><rect x="1629.8" y="1092" width="24.4" height="11.2" fill="#520000"/><rect x="1629.8" y="1081.2" width="24.4" height="11.2" fill="#6c0000"/><rect x="1629.8" y="1070.5" width="24.4" height="11.2" fill="#8b0000"/><rect x="1629.8" y="1059.7" width="24.4" height="11.2" fill="#a90000"/><rect x="1629.8" y="1048.9" width="24.4" height="11.2" fill="#c60000"/><rect x="1629.8" y="1038.2" width="24.4" height="11.2" fill="#e20000"/><rect x="1629.8" y="1027.4" width="24.4" height="11.2" fill="#f30704"/><rect x="1629.8" y="1016.6" width="24.4" height="11.2" fill="#fa150a"/><rect x="1629.8" y="1005.9" width="24.4" height="11.2" fill="#ff240f"/><rect x="1629.8" y="995.1" width="24.4" height="11.2" fill="#ff360c"/><rect x="1629.8" y="984.3" width="24.4" height="11.2" fill="#ff4908"/><rect x="1629.8" y="973.6" width="24.4" height="11.2" fill="#ff5e0b"/><rect x="1629.8" y="962.8" width="24.4" height="11.2" fill="#ff720f"/><rect x="1629.8" y="952" width="24.4" height="11.2" fill="#ff8510"/><rect x="1629.8" y="941.3" width="24.4" height="11.2" fill="#ff9510"/><rect x="1629.8" y="930.5" width="24.4" height="11.2" fill="#ffa510"/><rect x="1629.8" y="919.8" width="24.4" height="11.2" fill="#ffb310"/><rect x="1629.8" y="909" width="24.4" height="11.2" fill="#ffc110"/><rect x="1629.8" y="898.2" width="24.4" height="11.2" fill="#ffcf08"/><rect x="1629.8" y="887.5" width="24.4" height="11.2" fill="#ffdd02"/><rect x="1629.8" y="876.7" width="24.4" height="11.2" fill="#ffeb0b"/><rect x="1629.8" y="865.9" width="24.4" height="11.2" fill="#fff819"/><rect x="1629.8" y="855.2" width="24.4" height="11.2" fill="#ffff32"/><rect x="1629.8" y="844.4" width="24.4" height="11.2" fill="#ffff54"/><rect x="1629.8" y="833.6" width="24.4" height="11.2" fill="#ffff78"/><rect x="1629.8" y="822.9" width="24.4" height="11.2" fill="#ffff9a"/><rect x="1629.8" y="812.1" width="24.4" height="11.2" fill="#ffffbe"/><rect x="1629.8" y="801.3" width="24.4" height="11.2" fill="#ffffda"/><rect x="1629.8" y="790.6" width="24.4" height="11.2" fill="#fffff5"/><rect x="1629.8" y="779.8" width="24.4" height="11.2" fill="#ffffff"/><rect x="1629.8" y="779.8" width="24.4" height="344.5" fill="none" stroke="#000" stroke-width="1.8"/><line x1="1654.2" y1="779.8" x2="1660.2" y2="779.8" stroke="#000" stroke-width="1.8"/><text x="1668.5" y="785.8" font-family="Liberation Sans" font-size="16.5" font-weight="bold" fill="#000" text-anchor="start" >0.32</text><line x1="1654.2" y1="876.3" x2="1660.2" y2="876.3" stroke="#000" stroke-width="1.8"/><text x="1668.5" y="882.3" font-family="Liberation Sans" font-size="16.5" font-weight="bold" fill="#000" text-anchor="start" >0.23</text><line x1="1654.2" y1="1000.3" x2="1660.2" y2="1000.3" stroke="#000" stroke-width="1.8"/><text x="1668.5" y="1006.3" font-family="Liberation Sans" font-size="16.5" font-weight="bold" fill="#000" text-anchor="start" >0.12</text><line x1="1654.2" y1="1124.3" x2="1660.2" y2="1124.3" stroke="#000" stroke-width="1.8"/><text x="1668.5" y="1130.3" font-family="Liberation Sans" font-size="16.5" font-weight="bold" fill="#000" text-anchor="start" >0.00</text>
<line x1="1177.7" y1="1124.3" x2="1184.7" y2="1124.3" stroke="#000" stroke-width="2"/>
<text x="1174.7" y="1133.8" font-family="Liberation Sans" font-size="28" font-weight="bold" fill="#000" text-anchor="end" >0</text>
<line x1="1180.7" y1="1080.6" x2="1184.7" y2="1080.6" stroke="#000" stroke-width="1.6"/>
<line x1="1177.7" y1="1037" x2="1184.7" y2="1037" stroke="#000" stroke-width="2"/>
<text x="1174.7" y="1046.5" font-family="Liberation Sans" font-size="28" font-weight="bold" fill="#000" text-anchor="end" >1</text>
<line x1="1180.7" y1="993.4" x2="1184.7" y2="993.4" stroke="#000" stroke-width="1.6"/>
<line x1="1177.7" y1="949.7" x2="1184.7" y2="949.7" stroke="#000" stroke-width="2"/>
<text x="1174.7" y="959.2" font-family="Liberation Sans" font-size="28" font-weight="bold" fill="#000" text-anchor="end" >2</text>
<line x1="1180.7" y1="906" x2="1184.7" y2="906" stroke="#000" stroke-width="1.6"/>
<line x1="1177.7" y1="862.4" x2="1184.7" y2="862.4" stroke="#000" stroke-width="2"/>
<text x="1174.7" y="871.9" font-family="Liberation Sans" font-size="28" font-weight="bold" fill="#000" text-anchor="end" >3</text>
<line x1="1180.7" y1="818.8" x2="1184.7" y2="818.8" stroke="#000" stroke-width="1.6"/>
<line x1="1184.7" y1="1124.3" x2="1184.7" y2="1131.3" stroke="#000" stroke-width="2"/>
<line x1="1221.3" y1="1124.3" x2="1221.3" y2="1128.3" stroke="#000" stroke-width="1.6"/>
<line x1="1257.8" y1="1124.3" x2="1257.8" y2="1131.3" stroke="#000" stroke-width="2"/>
<line x1="1294.4" y1="1124.3" x2="1294.4" y2="1128.3" stroke="#000" stroke-width="1.6"/>
<line x1="1331" y1="1124.3" x2="1331" y2="1131.3" stroke="#000" stroke-width="2"/>
<line x1="1367.6" y1="1124.3" x2="1367.6" y2="1128.3" stroke="#000" stroke-width="1.6"/>
<line x1="1404.2" y1="1124.3" x2="1404.2" y2="1131.3" stroke="#000" stroke-width="2"/>
<line x1="1440.7" y1="1124.3" x2="1440.7" y2="1128.3" stroke="#000" stroke-width="1.6"/>
<line x1="1477.3" y1="1124.3" x2="1477.3" y2="1131.3" stroke="#000" stroke-width="2"/>
<line x1="1513.9" y1="1124.3" x2="1513.9" y2="1128.3" stroke="#000" stroke-width="1.6"/>
<line x1="1550.4" y1="1124.3" x2="1550.4" y2="1131.3" stroke="#000" stroke-width="2"/>
<line x1="1587" y1="1124.3" x2="1587" y2="1128.3" stroke="#000" stroke-width="1.6"/>
<text transform="translate(1145,954) rotate(-90)" font-family="Liberation Serif" font-size="35.5" font-weight="normal" text-anchor="middle">R+a (Å)</text>
<rect x="1184.7" y="1145.8" width="438.9" height="344.5" fill="#300000"/><path d="M1623.6 1412.5L1184.7 1412.5L1184.7 1329L1192.7 1329.1L1200.7 1328.4L1202.9 1328.1L1206.6 1326.1L1203.1 1324.1L1198.7 1323.4L1192.7 1322.9L1184.7 1323.1L1184.7 1145.8L1353.5 1145.8L1357.1 1151.4L1360.6 1155.8L1363.1 1158.2L1367.1 1161L1375.1 1164.4L1391.1 1168.5L1403.1 1173L1407.2 1175.1L1411 1177.8L1418.7 1185.9L1422.2 1187.9L1431.2 1190.6L1441.2 1191.5L1447.2 1191.2L1455.3 1189.9L1460.9 1187.9L1463.7 1185.9L1465.9 1177.8L1468.7 1163.8L1470 1153.8L1470.3 1145.8L1537.5 1145.8L1539.4 1148.3L1543.4 1151.7L1547.4 1153.4L1551.5 1153.7L1555.5 1153L1559.5 1151.2L1563.5 1148.2L1565.7 1145.8L1623.6 1145.8L1623.6 1178.4L1618.7 1193.9L1617.5 1199.9L1617 1205.9L1617.3 1207.9L1618.5 1209.9L1623.6 1214ZM1265.7 1256L1269.6 1254L1272 1252L1273.5 1250L1274.2 1247.9L1274 1245.9L1272.9 1243.9L1270.4 1241.9L1265.8 1239.9L1262.9 1239.2L1250.8 1238.1L1242.8 1238.5L1236.8 1239.3L1227.5 1241.9L1224.1 1243.9L1222.4 1245.9L1222.1 1247.9L1223.3 1250L1224.8 1251L1230.8 1253.9L1236.8 1255.5L1244.8 1256.8L1254.8 1257.5L1260.9 1257.2ZM1372.6 1268L1375.8 1266L1377.1 1264L1376.6 1262L1374.2 1260L1369.1 1258.4L1363.1 1258.4L1357.1 1259.6L1353.1 1262L1352.4 1264L1353.6 1266L1355 1266.9L1361.1 1268.8L1367.1 1269.2ZM1518.3 1316L1516.4 1314L1513.4 1313.7L1509.6 1314L1506.7 1316L1513.4 1316.9ZM1535.3 1378.1L1519.4 1377.3L1503.4 1378.1L1511.4 1379.1L1519.4 1379.5L1527.4 1379.1Z" fill="#5f0000" fill-rule="evenodd"/><path d="M1623.6 1409.7L1184.7 1409.7L1184.7 1331.5L1196.7 1331.1L1206.3 1330.1L1214 1328.1L1216.6 1326.1L1214.8 1323.8L1206.7 1321.3L1196.7 1320.2L1184.7 1319.9L1184.7 1145.8L1333.3 1145.8L1339 1151.4L1349 1164.5L1355 1171.2L1361.1 1176.3L1367.1 1179.9L1380.3 1185.9L1393.3 1189.9L1419.2 1196L1435.2 1198.3L1453.3 1198.1L1473.2 1195.9L1482.5 1193.9L1487.1 1191.9L1490.1 1189.9L1493.6 1185.9L1502.7 1163.8L1506.2 1153.8L1507.4 1145.8L1518.1 1145.8L1518.4 1149.8L1519.8 1155.8L1522.6 1161.8L1527.4 1166.8L1533.4 1170.5L1539.4 1172.5L1545.4 1173.5L1573.5 1173.8L1577.5 1174.4L1581.7 1175.8L1585.5 1178.7L1589.5 1184L1599.1 1205.9L1600.1 1207.9L1601.9 1209.9L1609.6 1215.1L1623.6 1221.7L1623.6 1308L1605 1312L1600 1314L1598.7 1316L1602.5 1318L1611.2 1320.1L1623.6 1322ZM1266.3 1264L1273.1 1262L1280 1258L1282.9 1255.2L1285.3 1252L1286.2 1250L1286.5 1247.9L1286.1 1245.9L1285 1243.9L1280.5 1239.9L1274.9 1237.1L1266.9 1234.7L1258.9 1233.7L1244.8 1233.6L1232.8 1234.5L1220.8 1236.3L1208.7 1239L1200.7 1241.9L1197.5 1243.9L1195.6 1245.9L1194.6 1247.9L1194.3 1250L1194.7 1252L1195.8 1254L1197.9 1256L1201.4 1258L1208 1260L1222.8 1262.4L1240.8 1264.2L1258.9 1264.8ZM1370.4 1276L1375 1274L1377.1 1272.2L1381.1 1267.9L1382.4 1266L1383 1264L1382.8 1262L1381.6 1260L1379.5 1258L1375.1 1255L1371.1 1253.3L1367.1 1252.7L1363.1 1252.9L1355 1254.4L1351 1255.6L1345.6 1258L1342.5 1260L1340.5 1262L1339.4 1264L1339.1 1266L1340.2 1270L1341.6 1272L1345 1274L1357.1 1276.1L1365.1 1276.4ZM1526.8 1320.1L1531.8 1318L1533.6 1316L1533.1 1314L1531.1 1312L1527.4 1310L1521.4 1308.3L1517.4 1307.7L1504.5 1308L1492.7 1310L1486.8 1312L1483.6 1314L1482.9 1316L1486.8 1318L1496.7 1320.1L1505.4 1321L1517.4 1321.4ZM1547 1380.1L1553.4 1378.1L1539.4 1376L1515.4 1374.8L1495.3 1375.8L1489.3 1376.6L1482.7 1378.1L1489.5 1380.1L1507.4 1381.2L1527.4 1381.3Z" fill="#9a0000" fill-rule="evenodd"/><path d="M1623.6 1406.5L1184.7 1406.6L1184.7 1334.1L1200.7 1332.8L1212.8 1331.1L1217.5 1330.1L1222.8 1328.2L1225.6 1326.1L1225.5 1324.1L1223.3 1322.1L1216.8 1319.3L1193.9 1314L1184.7 1311.5L1184.7 1282.7L1190.7 1280L1196.7 1277.8L1210.8 1274.8L1220.8 1274L1264.9 1273.4L1276.9 1271.6L1294.9 1267.6L1298.9 1267.8L1302.9 1268.9L1304.9 1270.1L1312 1276L1316.4 1278L1323 1279.5L1331 1280.5L1345 1281.2L1369.1 1281L1375.1 1279.5L1378.5 1278L1381.4 1276L1383.3 1274L1385.1 1270.8L1387.5 1266L1387.9 1264L1387 1260L1379.4 1247.9L1377.2 1245.9L1375.1 1244.8L1371.1 1243.5L1367.1 1243.1L1359.1 1243.5L1335 1247.4L1327 1247.2L1319 1245.5L1302.9 1240.6L1292.9 1237.1L1278.9 1231L1266.9 1227.4L1258.9 1226.5L1216.8 1225.8L1208.7 1224.6L1202.7 1222.9L1198.7 1221.1L1194 1217.9L1191.9 1215.9L1189.3 1211.9L1188.2 1207.9L1188.2 1203.9L1188.9 1197.9L1190.2 1193.9L1192.7 1190.4L1196.7 1187.5L1206.7 1183.1L1224.8 1176.4L1230.8 1173.3L1244.8 1164.7L1252.8 1161L1258.9 1159.7L1272.9 1158L1284.9 1157.2L1296.9 1157L1302.9 1157.8L1311 1160L1319 1163.2L1331 1168.9L1337 1173.1L1351 1185.4L1357.1 1188.7L1366.3 1191.9L1397.1 1199.1L1417.2 1202.8L1429.2 1204.5L1439.2 1205.1L1455.3 1205L1485.3 1204.1L1493.3 1202.9L1511.4 1198.9L1543.4 1197.5L1553.5 1197.6L1557.5 1198.5L1561.5 1200L1567.5 1203.1L1574.8 1207.9L1582.7 1211.9L1616.1 1225.9L1623.6 1229.8L1623.6 1303.2L1583.9 1308L1561.5 1311.3L1551.5 1312L1547.4 1311.6L1535.4 1307.1L1525.4 1304.7L1515.4 1303.7L1501.3 1304.2L1486.6 1306L1475.3 1308.6L1471.5 1310L1468.5 1312L1466.9 1314L1466.6 1316L1469.2 1318L1476.7 1320.1L1491.3 1322.2L1509.4 1323.9L1519.4 1324.1L1527.4 1323.4L1534.9 1322.1L1547.4 1318.7L1551.5 1318.4L1559.5 1318.9L1623.6 1325.5ZM1541.1 1382.1L1563.4 1380.1L1567.3 1378.1L1555.5 1375.6L1541.6 1374.1L1525.4 1371.7L1513.4 1371.1L1501.3 1371.5L1489.3 1372.5L1471.3 1375.6L1469.3 1376.2L1465.4 1378.1L1470.1 1380.1L1473.3 1380.6L1495.3 1382.4L1519.4 1383Z" fill="#d40000" fill-rule="evenodd"/><path d="M1405.2 1402.2L1369.1 1403L1313 1403.1L1246.8 1402.4L1184.7 1400.5L1184.7 1338.6L1195.1 1336.1L1214.8 1333.2L1226.8 1330.4L1232.8 1328.1L1235.4 1326.1L1236.4 1324.1L1236.2 1322.1L1234.8 1319L1230.8 1312L1227.3 1308L1222.8 1305.4L1209.3 1300L1206 1298L1203.9 1296L1203.1 1294L1203.9 1292L1206.2 1290L1210.8 1288L1218.8 1286L1240.8 1284.3L1260.9 1284.8L1294.9 1283.9L1315 1286L1329 1286.5L1351 1286L1369.1 1284.8L1373.5 1284L1379.1 1282.2L1383.5 1280L1386.4 1278L1389.8 1274L1392.5 1266L1392.8 1264L1392.4 1260L1390.3 1254L1388.4 1245.9L1385.1 1241.7L1379.1 1238.3L1375.1 1237.1L1369.1 1236.2L1339 1235.9L1327 1234.5L1318.2 1231.9L1300.7 1223.9L1284.9 1219.6L1268.9 1216.5L1242.8 1213.8L1228.8 1211.3L1224.6 1209.9L1221.8 1207.9L1221.4 1205.9L1223.1 1203.9L1226.8 1201.9L1238.1 1197.9L1254.8 1192.6L1270.9 1188.4L1286.9 1185.3L1292.9 1184.8L1298.9 1185L1307 1186.3L1333 1192L1357.1 1198.6L1373.1 1202.1L1393.1 1208.6L1409.2 1211.3L1429.2 1212.9L1477.3 1214.2L1527.4 1213.7L1551.5 1213.9L1557.5 1214.5L1567.5 1216.8L1591.5 1224.3L1623.6 1238L1623.6 1298.2L1593.5 1301.3L1555.5 1304L1547.4 1303.8L1529.4 1301.1L1517.4 1300.2L1503.4 1300.3L1487.3 1301.5L1473.3 1303.4L1464.2 1306L1460.3 1308L1457.7 1310L1455.3 1313.6L1454.8 1316L1456.9 1318L1461.3 1319.8L1471.3 1322.1L1507.4 1326L1523.4 1326.3L1545.4 1324.3L1551.5 1324.1L1623.6 1328.7L1623.6 1399.6L1573.5 1400.6L1545.4 1400.5L1515.4 1399.6L1475.3 1399.6L1439.2 1401.7ZM1538 1384.1L1557.5 1383.2L1571.5 1381.7L1580.1 1380.1L1582.3 1378.1L1573.5 1375.6L1542 1370.1L1527.4 1368.9L1515.4 1368.5L1471.5 1370.1L1455.3 1372.1L1449.2 1376.1L1448.1 1378.1L1451.4 1380.1L1455.3 1381.1L1465.3 1382.9L1473.3 1383.7L1513.4 1385.2Z" fill="#f70e07" fill-rule="evenodd"/><path d="M1375.1 1398.2L1325 1398.9L1260.9 1397.3L1220.8 1394.8L1184.7 1391.3L1184.7 1343.7L1204.7 1338.4L1232.8 1332.5L1242.8 1329.1L1247.5 1326.1L1249.3 1324.1L1254.8 1315L1261.1 1308L1266.9 1303.7L1274.9 1300.6L1287 1298L1304.9 1295.4L1369.1 1288.7L1379.1 1286.2L1387.1 1282.7L1391.4 1280L1395.3 1276L1397.3 1272L1398.8 1266L1399.2 1262L1398 1239.9L1395.7 1227.9L1397.2 1225.9L1399.1 1225L1423.2 1222.2L1435.2 1221.5L1475.3 1222.6L1527.4 1222.6L1553.5 1223.8L1563.5 1225.6L1573.5 1228.5L1595.5 1236.2L1623.6 1247.7L1623.6 1288.3L1609.6 1291.7L1597.4 1294L1567.5 1297L1551.5 1297.6L1525.4 1296.4L1507.4 1296.3L1487.3 1297.1L1469.3 1298.8L1457.3 1301.7L1453.3 1303.4L1449.2 1305.8L1444.8 1310L1442.9 1314L1442.7 1316L1444.9 1318L1449.8 1320.1L1459.3 1322.4L1471.3 1324.4L1503.4 1327.7L1521.4 1328.6L1551.5 1328L1623.6 1331.9L1623.6 1386.6L1613.6 1386.1L1605.6 1384.7L1604.3 1384.1L1608.8 1380.1L1607.3 1378.1L1601.3 1376.1L1573.5 1370.1L1551.7 1368.1L1523.4 1366.9L1505.4 1367L1471 1368.1L1441.2 1370.1L1432 1372.1L1429.8 1378.1L1430.9 1380.1L1435.2 1382.8L1444 1386.1L1447.4 1388.2L1448.5 1390.2L1446.2 1392.2L1445.2 1392.5L1438.8 1394.2L1427.2 1395.6L1405.2 1396.1Z" fill="#ff2d0e" fill-rule="evenodd"/><path d="M1379.1 1392.3L1363.1 1393.4L1331 1394.1L1268.9 1392L1246.8 1390.7L1214.8 1387.6L1198.7 1385.7L1186.7 1383.6L1184.7 1383.2L1184.7 1348.1L1202.7 1343.3L1234.8 1337L1248.8 1333.5L1258.9 1329.6L1280.9 1317.5L1304.9 1308.3L1321 1303.9L1345 1299.3L1371.1 1293.5L1379.1 1290.9L1389.1 1286.7L1397.2 1282L1405.8 1276L1407.9 1274L1408.9 1272L1410 1268L1411.6 1254L1412.9 1247.9L1414.5 1243.9L1417.2 1240.2L1419.6 1237.9L1423.2 1235.6L1427.2 1233.9L1433.2 1232.2L1441.2 1231.3L1459.3 1230.8L1517.4 1230.7L1535.4 1231.7L1555.5 1234.3L1563.5 1236.2L1573.5 1239.2L1581.1 1241.9L1590 1245.9L1595.9 1250L1604.9 1260L1609.3 1266L1610.9 1270L1611.2 1272L1610.6 1274L1608.8 1276L1605.9 1278L1601.8 1280L1593.5 1282.9L1575.5 1286.9L1559.5 1289.2L1533.4 1290.8L1491.3 1291.7L1467.3 1292.7L1457.3 1293.7L1449.2 1295.3L1441.2 1298.3L1438.4 1300L1435.2 1302.8L1432.6 1306L1430.4 1310L1429.2 1314L1429.2 1316L1431 1318L1435.2 1319.8L1443.7 1322.1L1457.3 1324.6L1473.3 1326.7L1513.4 1330.5L1549.4 1331.5L1623.6 1335.9L1623.6 1369.8L1573.5 1366.7L1523.4 1365.3L1484.6 1366.1L1437.2 1368.4L1422.9 1370.1L1416.7 1372.1L1411.2 1378.1L1407.2 1384L1404 1386.1L1399.3 1388.2L1393.1 1389.9Z" fill="#ff530a" fill-rule="evenodd"/><path d="M1527.4 1286.1L1515.4 1286.8L1467.3 1287L1451.2 1285.4L1444.2 1284L1437.9 1282L1433.2 1279.1L1431.4 1276L1430.9 1274L1430.8 1250L1431.4 1247.9L1432.7 1245.9L1435.1 1243.9L1439 1241.9L1446.1 1239.9L1455.3 1238.4L1473.3 1237.1L1515.4 1237.2L1529.4 1238.3L1543.4 1241.2L1552.9 1243.9L1557.9 1245.9L1561.5 1247.9L1563.9 1250L1569.5 1258L1572.6 1264L1574.2 1270L1574.3 1272L1573.6 1274L1571.3 1276L1567.5 1278L1561.5 1280.1L1542 1284ZM1363.1 1388.2L1343 1389.1L1327 1389.2L1272.9 1387.4L1236.8 1384.9L1216.8 1382.6L1204.7 1380.6L1195 1378.1L1190.5 1376.1L1188 1374.1L1187.3 1372.1L1187 1368.1L1187 1354.1L1189.4 1352.1L1193.9 1350.1L1208.3 1346.1L1222.8 1343.4L1249 1340.1L1259.8 1338.1L1270.8 1334.1L1307 1318.8L1321 1314.1L1373.1 1303.8L1381.1 1300.3L1392.2 1292L1395.8 1290L1403.1 1286.8L1409.2 1285.9L1413.2 1286L1417.2 1287L1419.2 1288.3L1420.4 1290L1421.1 1292L1421 1296L1415.8 1308L1414.8 1312L1414.4 1316L1416.5 1318L1421.2 1320.1L1428.1 1322.1L1439.2 1324.3L1469.3 1328.3L1513.4 1332.8L1585.5 1338.3L1623.6 1342.8L1623.6 1363.8L1599.6 1364.5L1515.4 1363.9L1459.3 1365.7L1425.2 1367.7L1409.6 1370.1L1402.8 1372.1L1389.1 1382L1385.1 1384.1L1381.1 1385.6L1373.1 1387.3Z" fill="#ff7c10" fill-rule="evenodd"/><path d="M1517.4 1282L1473.3 1282.2L1463.3 1280.7L1455.6 1278L1452.8 1276L1451.3 1274L1450.9 1272L1451.8 1260L1453.1 1254L1454.6 1250L1456.7 1247.9L1461.4 1245.9L1467.3 1244.7L1475.3 1243.9L1517.4 1244.1L1527.4 1245.8L1532.7 1247.9L1535.4 1250L1537 1252L1541.8 1260L1544.4 1268L1544.8 1272L1544 1274L1541.5 1276L1533.4 1279.3L1525.4 1281.1ZM1339 1384.2L1290.9 1383.7L1266.9 1382.7L1240.8 1380.6L1218.8 1377.1L1214.8 1376.1L1209.6 1374.1L1207.2 1372.1L1204.7 1368.1L1203.1 1364.1L1201.9 1358.1L1202.1 1354.1L1204.8 1352.1L1208.7 1350.6L1218.8 1347.9L1230.8 1345.9L1262.2 1342.1L1273.4 1340.1L1281.2 1338.1L1317 1324.7L1329 1321L1349 1317.2L1367.1 1315.7L1375.1 1316L1383.1 1316.9L1397.5 1320.1L1437.2 1326.7L1486.6 1332.1L1547.4 1340.1L1593.5 1345.1L1607.6 1347.6L1615.6 1349.7L1621.2 1352.1L1623.4 1354.1L1622.9 1356.1L1618 1358.1L1605.6 1360.1L1595.5 1360.9L1565.5 1361.9L1501.3 1362.9L1423.2 1366.3L1407.7 1368.1L1397.2 1370.1L1391.6 1372.1L1379.1 1378.9L1371.1 1381.5L1357.1 1383.1Z" fill="#ff9e10" fill-rule="evenodd"/><path d="M1519.4 1274.4L1513.4 1275.2L1477.3 1275.2L1471.3 1274.1L1469.4 1272L1470.2 1268L1471.1 1266L1473.3 1263.5L1475.3 1262.4L1477.3 1262.1L1513.4 1262.1L1517.4 1263L1519.4 1264.5L1521.4 1267.3L1522.6 1272L1520.8 1274ZM1349 1378.3L1333 1379.2L1286.9 1379.2L1266.9 1378.1L1244.8 1375.7L1237.6 1374.1L1232.8 1372.3L1226.1 1368.1L1222.8 1365L1220.7 1362.1L1219 1358.1L1218.7 1356.1L1219 1354.1L1222.4 1352.1L1230.8 1349.8L1270.9 1344.1L1293.4 1340.1L1301.8 1338.1L1329 1329.1L1347 1324.1L1357.1 1322.5L1367.1 1322L1381.1 1322.9L1437.2 1329.3L1483.5 1334.1L1531.4 1342.3L1572.4 1348.1L1583.5 1350.5L1588.3 1352.1L1591.3 1354.1L1590.3 1356.1L1585.5 1357.1L1580.2 1358.1L1565.5 1359.3L1435.8 1364.1L1411.2 1365.9L1393.1 1368.6L1386.8 1370.1L1375.1 1374.3L1369.1 1375.9Z" fill="#ffba10" fill-rule="evenodd"/><path d="M1304.9 1374.1L1290.9 1374.2L1280.9 1373.7L1269.4 1372.1L1256.8 1369.2L1248.6 1366.1L1242.5 1362.1L1239.3 1358.1L1238.7 1356.1L1239.1 1354.1L1243.7 1352.1L1253 1350.1L1314.8 1340.1L1323.1 1338.1L1351 1329L1359.1 1327.5L1367.1 1327L1413.2 1329.6L1475.6 1336.1L1507.4 1342.8L1547.7 1350.1L1555.3 1352.1L1559.2 1354.1L1557.5 1356.1L1541.2 1358.1L1423.2 1363.4L1397.1 1365.8L1371.1 1370.8L1351 1372.9L1335 1373.9Z" fill="#ffd605" fill-rule="evenodd"/><path d="M1363.1 1368.2L1333 1369.2L1304.9 1368.5L1288.9 1367.5L1278.9 1365.7L1268.9 1362.4L1264.7 1360.1L1262.4 1358.1L1261.3 1356.1L1261.7 1354.1L1266.9 1352.1L1276.1 1350.1L1331 1341.2L1339 1339.1L1355 1333.6L1361.1 1332.4L1367.1 1331.9L1411.2 1333L1451.2 1336.8L1479.3 1341.7L1508.1 1348.1L1523.5 1352.1L1527.2 1354.1L1524.7 1356.1L1504.1 1358.1L1407.2 1363L1393.1 1364.4L1371.1 1367.6Z" fill="#fff112" fill-rule="evenodd"/><path d="M1377.1 1364.2L1367.1 1365.1L1349 1365.5L1335 1365.2L1316.9 1364.1L1302.9 1362.5L1294.9 1360.9L1291.9 1360.1L1287.5 1358.1L1285.5 1356.1L1285.8 1354.1L1291.2 1352.1L1300.9 1350.1L1335 1344.7L1359.1 1338.6L1367.1 1337.6L1411.2 1337.8L1447.2 1341.5L1462.8 1344.1L1480.1 1348.1L1492.3 1352.1L1495.2 1354.1L1492.4 1356.1L1471.5 1358.1L1403.1 1361.5Z" fill="#ffff43" fill-rule="evenodd"/><path d="M1365.1 1362.2L1347 1361.8L1329 1360L1319 1358L1314.7 1356.1L1314.7 1354.1L1320.4 1352.1L1355 1344.9L1363.1 1343.7L1369.1 1343.5L1410.5 1344.1L1439.2 1346.4L1450.5 1348.1L1457.9 1350.1L1462.5 1352.1L1464.8 1354.1L1462.2 1356.1L1449.2 1357.4L1403.1 1359.4Z" fill="#ffff89" fill-rule="evenodd"/><path d="M1367.1 1358.1L1359.1 1357.7L1351 1356.3L1350.4 1356.1L1349.7 1354.1L1355 1351.9L1361.1 1350.7L1367.1 1350.2L1379.1 1350.5L1393.1 1351.5L1399.4 1352.1L1410.6 1354.1L1402.3 1356.1Z" fill="#ffffcc" fill-rule="evenodd"/>
<rect x="1184.7" y="1145.8" width="438.9" height="344.5" fill="none" stroke="#000" stroke-width="2"/>
<rect x="1629.8" y="1468.8" width="24.4" height="21.9" fill="#300000"/><rect x="1629.8" y="1447.2" width="24.4" height="21.9" fill="#5f0000"/><rect x="1629.8" y="1425.7" width="24.4" height="21.9" fill="#9a0000"/><rect x="1629.8" y="1404.2" width="24.4" height="21.9" fill="#d40000"/><rect x="1629.8" y="1382.6" width="24.4" height="21.9" fill="#f70e07"/><rect x="1629.8" y="1361.1" width="24.4" height="21.9" fill="#ff2d0e"/><rect x="1629.8" y="1339.6" width="24.4" height="21.9" fill="#ff530a"/><rect x="1629.8" y="1318" width="24.4" height="21.9" fill="#ff7c10"/><rect x="1629.8" y="1296.5" width="24.4" height="21.9" fill="#ff9e10"/><rect x="1629.8" y="1275" width="24.4" height="21.9" fill="#ffba10"/><rect x="1629.8" y="1253.5" width="24.4" height="21.9" fill="#ffd605"/><rect x="1629.8" y="1231.9" width="24.4" height="21.9" fill="#fff112"/><rect x="1629.8" y="1210.4" width="24.4" height="21.9" fill="#ffff43"/><rect x="1629.8" y="1188.9" width="24.4" height="21.9" fill="#ffff89"/><rect x="1629.8" y="1167.3" width="24.4" height="21.9" fill="#ffffcc"/><rect x="1629.8" y="1145.8" width="24.4" height="21.9" fill="#ffffff"/><rect x="1629.8" y="1145.8" width="24.4" height="344.5" fill="none" stroke="#000" stroke-width="1.8"/><line x1="1654.2" y1="1145.8" x2="1660.2" y2="1145.8" stroke="#000" stroke-width="1.8"/><text x="1668.5" y="1151.8" font-family="Liberation Sans" font-size="16.5" font-weight="bold" fill="#000" text-anchor="start" >0.08</text><line x1="1654.2" y1="1232.6" x2="1660.2" y2="1232.6" stroke="#000" stroke-width="1.8"/><text x="1668.5" y="1238.6" font-family="Liberation Sans" font-size="16.5" font-weight="bold" fill="#000" text-anchor="start" >0.06</text><line x1="1654.2" y1="1361.5" x2="1660.2" y2="1361.5" stroke="#000" stroke-width="1.8"/><text x="1668.5" y="1367.5" font-family="Liberation Sans" font-size="16.5" font-weight="bold" fill="#000" text-anchor="start" >0.03</text><line x1="1654.2" y1="1490.3" x2="1660.2" y2="1490.3" stroke="#000" stroke-width="1.8"/><text x="1668.5" y="1496.3" font-family="Liberation Sans" font-size="16.5" font-weight="bold" fill="#000" text-anchor="start" >0.00</text>
<line x1="1177.7" y1="1490.3" x2="1184.7" y2="1490.3" stroke="#000" stroke-width="2"/>
<text x="1174.7" y="1499.8" font-family="Liberation Sans" font-size="28" font-weight="bold" fill="#000" text-anchor="end" >0</text>
<line x1="1180.7" y1="1446.6" x2="1184.7" y2="1446.6" stroke="#000" stroke-width="1.6"/>
<line x1="1177.7" y1="1403" x2="1184.7" y2="1403" stroke="#000" stroke-width="2"/>
<text x="1174.7" y="1412.5" font-family="Liberation Sans" font-size="28" font-weight="bold" fill="#000" text-anchor="end" >1</text>
<line x1="1180.7" y1="1359.3" x2="1184.7" y2="1359.3" stroke="#000" stroke-width="1.6"/>
<line x1="1177.7" y1="1315.7" x2="1184.7" y2="1315.7" stroke="#000" stroke-width="2"/>
<text x="1174.7" y="1325.2" font-family="Liberation Sans" font-size="28" font-weight="bold" fill="#000" text-anchor="end" >2</text>
<line x1="1180.7" y1="1272" x2="1184.7" y2="1272" stroke="#000" stroke-width="1.6"/>
<line x1="1177.7" y1="1228.4" x2="1184.7" y2="1228.4" stroke="#000" stroke-width="2"/>
<text x="1174.7" y="1237.9" font-family="Liberation Sans" font-size="28" font-weight="bold" fill="#000" text-anchor="end" >3</text>
<line x1="1180.7" y1="1184.8" x2="1184.7" y2="1184.8" stroke="#000" stroke-width="1.6"/>
<line x1="1184.7" y1="1490.3" x2="1184.7" y2="1497.3" stroke="#000" stroke-width="2"/>
<line x1="1221.3" y1="1490.3" x2="1221.3" y2="1494.3" stroke="#000" stroke-width="1.6"/>
<line x1="1257.8" y1="1490.3" x2="1257.8" y2="1497.3" stroke="#000" stroke-width="2"/>
<line x1="1294.4" y1="1490.3" x2="1294.4" y2="1494.3" stroke="#000" stroke-width="1.6"/>
<line x1="1331" y1="1490.3" x2="1331" y2="1497.3" stroke="#000" stroke-width="2"/>
<line x1="1367.6" y1="1490.3" x2="1367.6" y2="1494.3" stroke="#000" stroke-width="1.6"/>
<line x1="1404.2" y1="1490.3" x2="1404.2" y2="1497.3" stroke="#000" stroke-width="2"/>
<line x1="1440.7" y1="1490.3" x2="1440.7" y2="1494.3" stroke="#000" stroke-width="1.6"/>
<line x1="1477.3" y1="1490.3" x2="1477.3" y2="1497.3" stroke="#000" stroke-width="2"/>
<line x1="1513.9" y1="1490.3" x2="1513.9" y2="1494.3" stroke="#000" stroke-width="1.6"/>
<line x1="1550.4" y1="1490.3" x2="1550.4" y2="1497.3" stroke="#000" stroke-width="2"/>
<line x1="1587" y1="1490.3" x2="1587" y2="1494.3" stroke="#000" stroke-width="1.6"/>
<text transform="translate(1145,1320) rotate(-90)" font-family="Liberation Serif" font-size="35.5" font-weight="normal" text-anchor="middle">R+a (Å)</text>
<text x="1184.7" y="1525" font-family="Liberation Sans" font-size="28" font-weight="bold" fill="#000" text-anchor="middle" >0</text>
<text x="1257.8" y="1525" font-family="Liberation Sans" font-size="28" font-weight="bold" fill="#000" text-anchor="middle" >2</text>
<text x="1331" y="1525" font-family="Liberation Sans" font-size="28" font-weight="bold" fill="#000" text-anchor="middle" >4</text>
<text x="1404.2" y="1525" font-family="Liberation Sans" font-size="28" font-weight="bold" fill="#000" text-anchor="middle" >6</text>
<text x="1477.3" y="1525" font-family="Liberation Sans" font-size="28" font-weight="bold" fill="#000" text-anchor="middle" >8</text>
<text x="1550.4" y="1525" font-family="Liberation Sans" font-size="28" font-weight="bold" fill="#000" text-anchor="middle" >10</text>
<text x="1359" y="1553" font-size="28" font-weight="bold"><tspan font-family="Liberation Serif" font-size="40">k</tspan> (Å<tspan dy="-13" font-size="25">-1</tspan><tspan dy="13">)</tspan></text>
<line x1="1375.3" y1="419" x2="1375.3" y2="1490" stroke="#1d9aa0" stroke-width="5" stroke-dasharray="20 15"/>
<line x1="1497.3" y1="58" x2="1497.3" y2="390" stroke="#4472c4" stroke-width="4.6" stroke-dasharray="20 15"/>
<line x1="1497.3" y1="1153" x2="1497.3" y2="1490" stroke="#4472c4" stroke-width="4.6" stroke-dasharray="20 15"/>
<text x="1186.5" y="72.6" font-family="Liberation Sans" font-size="29" font-weight="bold" fill="#fff" text-anchor="start" >Pt foil</text>
<text x="1186.5" y="440" font-family="Liberation Sans" font-size="29" font-weight="bold" fill="#fff" text-anchor="start" ><tspan font-size="29" dy="0">PtO</tspan><tspan font-size="18" dy="5.8">2</tspan></text>
<text x="1186.5" y="807" font-family="Liberation Sans" font-size="29" font-weight="bold" fill="#fff" text-anchor="start" ><tspan font-size="29" dy="0">Pt</tspan><tspan font-size="18" dy="5.8">e</tspan></text>
<text x="1186.5" y="1173.5" font-family="Liberation Sans" font-size="29" font-weight="bold" fill="#fff" text-anchor="start" ><tspan font-size="29" dy="0">Pt</tspan><tspan font-size="18" dy="5.8">e</tspan><tspan font-size="29" dy="-5.8">-300A</tspan></text>
<text x="1503" y="186" font-family="Liberation Sans" font-size="41.6" font-weight="bold" fill="#4472c4" text-anchor="start" >Pt-Pt</text>
<text x="1503" y="1251" font-family="Liberation Sans" font-size="41.6" font-weight="bold" fill="#4472c4" text-anchor="start" >Pt-Pt</text>
<text x="1241" y="628" font-family="Liberation Sans" font-size="40" font-weight="bold" fill="#1d8a90" text-anchor="start" >Pt-O</text>
<text x="1120.5" y="82" font-family="Liberation Sans" font-size="62.5" font-weight="bold" fill="#000" text-anchor="start" >f</text>
</svg></body></html>
